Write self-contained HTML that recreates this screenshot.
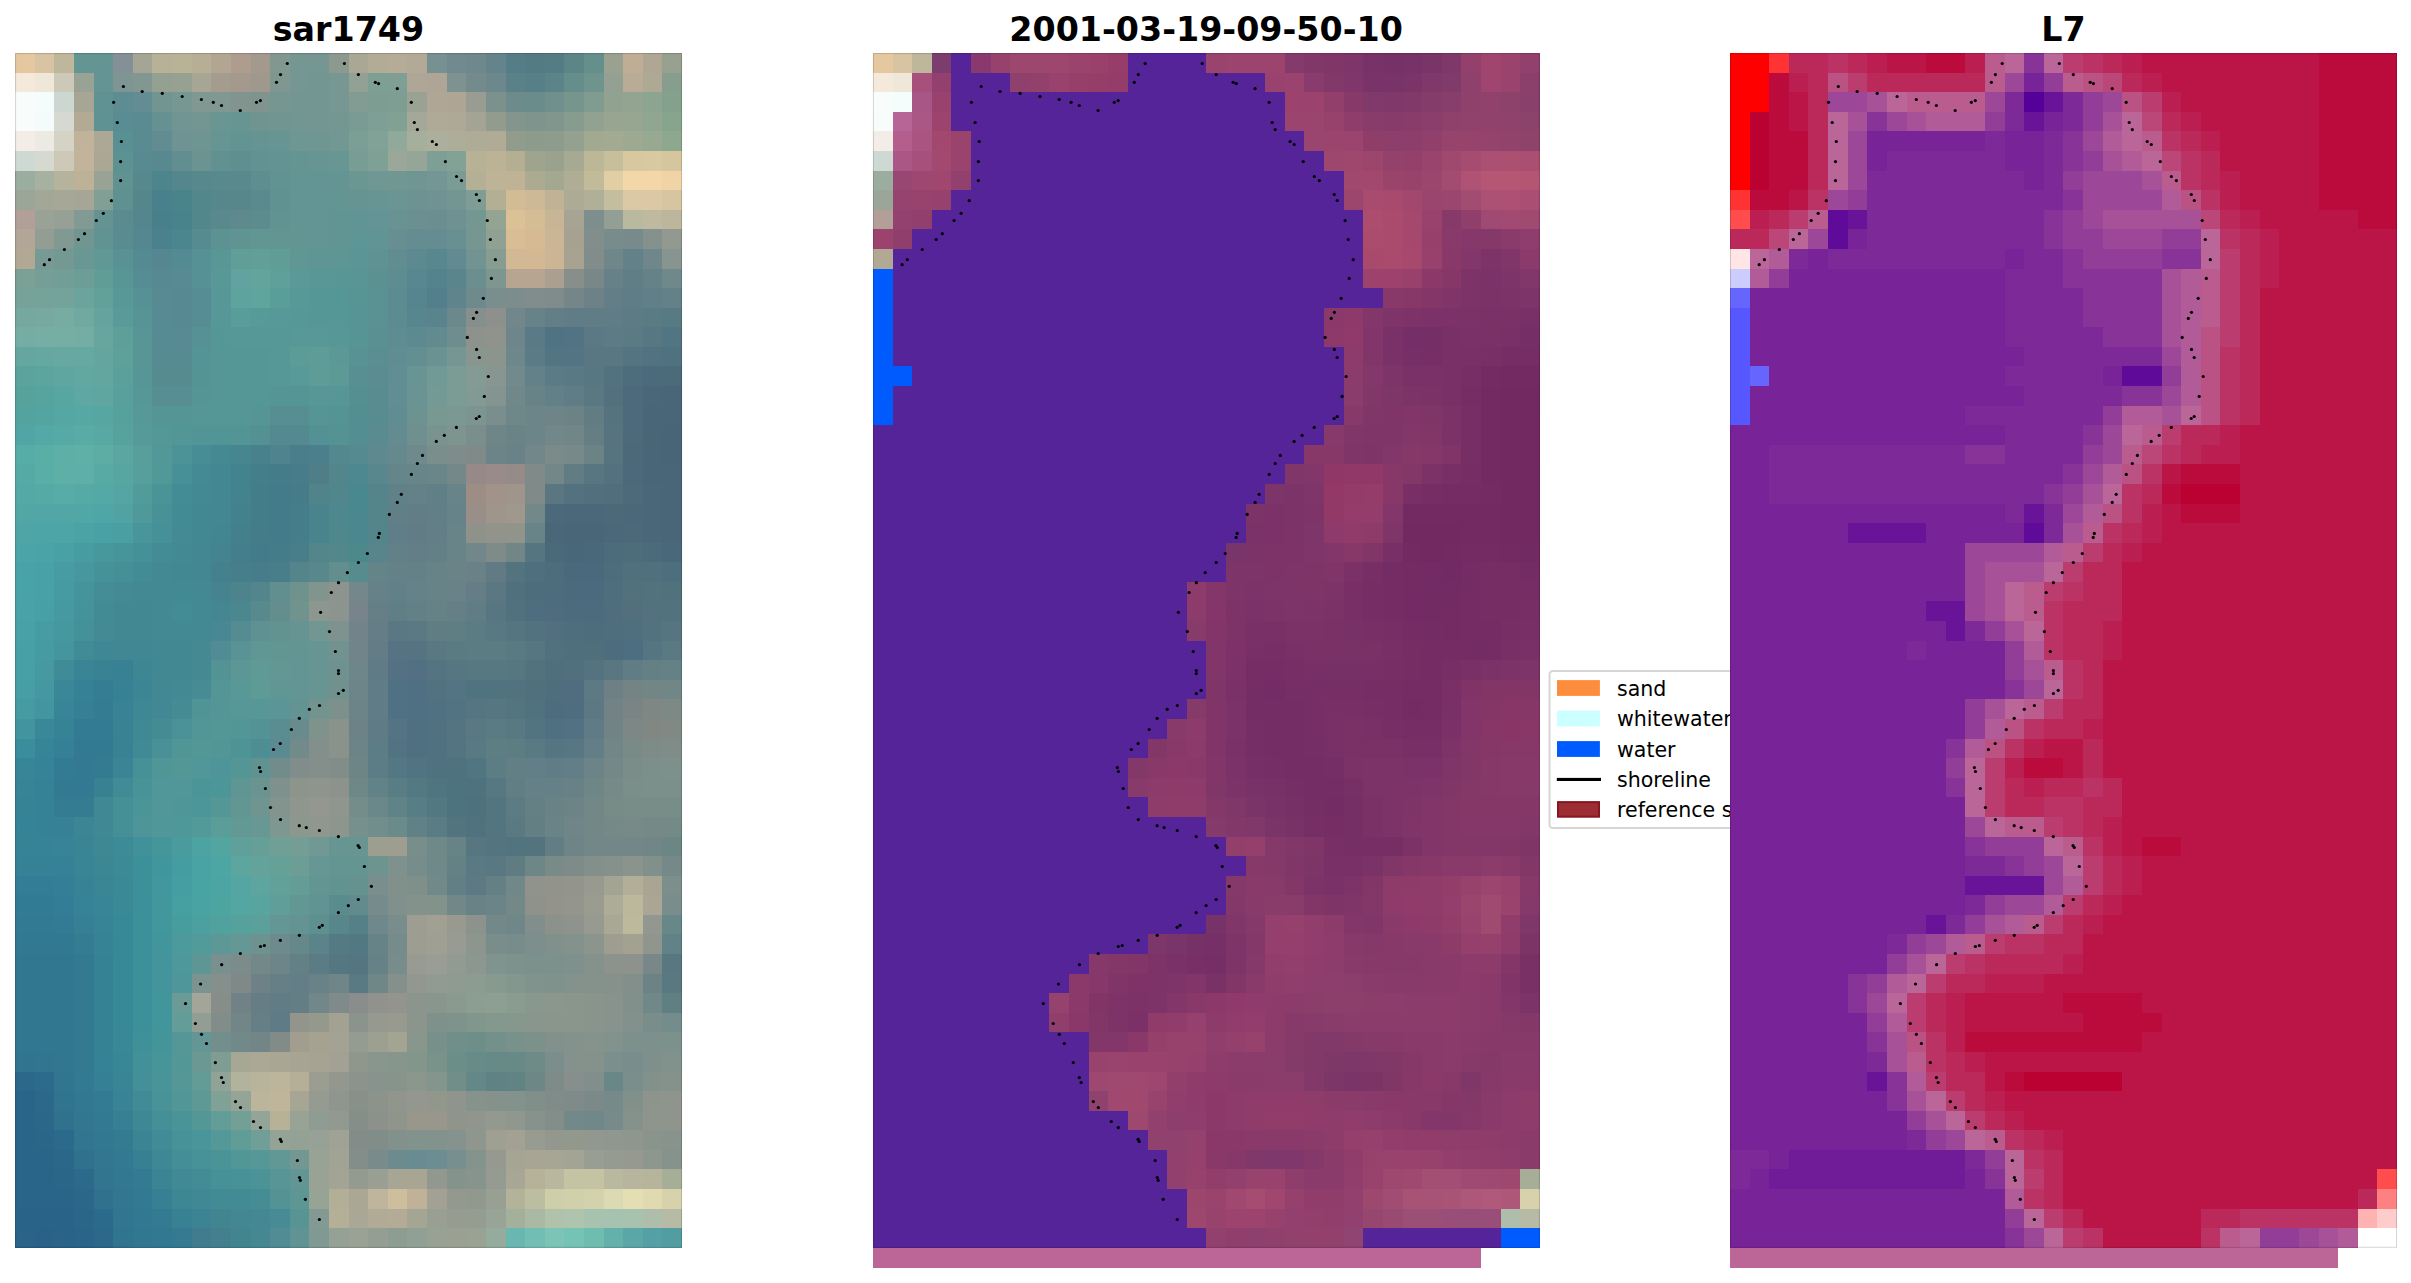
<!DOCTYPE html>
<html><head><meta charset="utf-8"><style>
html,body{margin:0;padding:0;background:#fff;width:2411px;height:1283px;overflow:hidden}
svg{position:absolute;left:0;top:0}
</style></head><body>
<svg width="2411" height="1283" viewBox="0 0 2411 1283">

<g>
<rect x="1549.5" y="671" width="240" height="157" rx="3.5" ry="3.5" fill="#fff" stroke="#d6d6d6" stroke-width="2"/>
<rect x="1557" y="680.1" width="42.9" height="15.8" fill="#fd8d3c"/>
<rect x="1557" y="710.6" width="42.9" height="15.8" fill="#ccffff"/>
<rect x="1557" y="741.1" width="42.9" height="15.8" fill="#005bff"/>
<rect x="1556.8" y="777.9" width="44.2" height="3.1" fill="#000"/>
<rect x="1558" y="802.1" width="41" height="14.6" fill="#9b2d33" stroke="#861621" stroke-width="2"/>
<g font-family="DejaVu Sans, Liberation Sans, sans-serif" font-size="20.55" fill="#000">
<text x="1617.0" y="695.9">sand</text>
<text x="1617.0" y="726.4">whitewater</text>
<text x="1617.0" y="756.9">water</text>
<text x="1617.0" y="786.8">shoreline</text>
<text x="1617.0" y="816.8">reference shoreline buffer</text>
</g>
</g>

<g shape-rendering="crispEdges">
<g transform="translate(15.10 53.10) scale(19.6176 19.5852)">
<rect x="0" y="0" width="1" height="1" fill="#e6c8a0"/>
<rect x="1" y="0" width="1" height="1" fill="#d8c4a2"/>
<rect x="2" y="0" width="1" height="1" fill="#beb79b"/>
<rect x="3" y="0" width="1" height="1" fill="#639593"/>
<rect x="4" y="0" width="1" height="1" fill="#659593"/>
<rect x="5" y="0" width="1" height="1" fill="#848f96"/>
<rect x="6" y="0" width="1" height="1" fill="#a4a594"/>
<rect x="7" y="0" width="1" height="1" fill="#b6b197"/>
<rect x="8" y="0" width="1" height="1" fill="#b8b297"/>
<rect x="9" y="0" width="1" height="1" fill="#b6af96"/>
<rect x="10" y="0" width="1" height="1" fill="#b2a693"/>
<rect x="11" y="0" width="1" height="1" fill="#ae9d8e"/>
<rect x="12" y="0" width="1" height="1" fill="#a3998d"/>
<rect x="13" y="0" width="1" height="1" fill="#819891"/>
<rect x="14" y="0" width="1" height="1" fill="#769692"/>
<rect x="15" y="0" width="1" height="1" fill="#759692"/>
<rect x="16" y="0" width="1" height="1" fill="#8c998f"/>
<rect x="17" y="0" width="1" height="1" fill="#aaa895"/>
<rect x="18" y="0" width="1" height="1" fill="#b2ab96"/>
<rect x="19" y="0" width="1" height="1" fill="#b5ab96"/>
<rect x="20" y="0" width="1" height="1" fill="#b2a996"/>
<rect x="21" y="0" width="1" height="1" fill="#779091"/>
<rect x="22" y="0" width="1" height="1" fill="#708a8f"/>
<rect x="23" y="0" width="1" height="1" fill="#6e888d"/>
<rect x="24" y="0" width="1" height="1" fill="#65838b"/>
<rect x="25" y="0" width="1" height="1" fill="#557d87"/>
<rect x="26" y="0" width="1" height="1" fill="#527b84"/>
<rect x="27" y="0" width="1" height="1" fill="#547c84"/>
<rect x="28" y="0" width="1" height="1" fill="#5c8588"/>
<rect x="29" y="0" width="1" height="1" fill="#658f8b"/>
<rect x="30" y="0" width="1" height="1" fill="#9ba191"/>
<rect x="31" y="0" width="1" height="1" fill="#bfad96"/>
<rect x="32" y="0" width="1" height="1" fill="#afa793"/>
<rect x="33" y="0" width="1" height="1" fill="#98a190"/>
<rect x="0" y="1" width="1" height="1" fill="#f4e9da"/>
<rect x="1" y="1" width="1" height="1" fill="#efe8d9"/>
<rect x="2" y="1" width="1" height="1" fill="#cdc9b9"/>
<rect x="3" y="1" width="1" height="1" fill="#99a395"/>
<rect x="4" y="1" width="1" height="1" fill="#649493"/>
<rect x="5" y="1" width="1" height="1" fill="#7d9593"/>
<rect x="6" y="1" width="1" height="1" fill="#839792"/>
<rect x="7" y="1" width="1" height="1" fill="#94a091"/>
<rect x="8" y="1" width="1" height="1" fill="#97a191"/>
<rect x="9" y="1" width="1" height="1" fill="#a7a593"/>
<rect x="10" y="1" width="1" height="1" fill="#a49d8f"/>
<rect x="11" y="1" width="1" height="1" fill="#a39a8d"/>
<rect x="12" y="1" width="1" height="1" fill="#9f998d"/>
<rect x="13" y="1" width="1" height="1" fill="#7f9791"/>
<rect x="14" y="1" width="1" height="1" fill="#759692"/>
<rect x="15" y="1" width="1" height="1" fill="#749692"/>
<rect x="16" y="1" width="1" height="1" fill="#779792"/>
<rect x="17" y="1" width="1" height="1" fill="#92a194"/>
<rect x="18" y="1" width="1" height="1" fill="#7e9f94"/>
<rect x="19" y="1" width="1" height="1" fill="#7f9f94"/>
<rect x="20" y="1" width="1" height="1" fill="#aea696"/>
<rect x="21" y="1" width="1" height="1" fill="#aea596"/>
<rect x="22" y="1" width="1" height="1" fill="#7e9290"/>
<rect x="23" y="1" width="1" height="1" fill="#738b8d"/>
<rect x="24" y="1" width="1" height="1" fill="#6c888c"/>
<rect x="25" y="1" width="1" height="1" fill="#5a8088"/>
<rect x="26" y="1" width="1" height="1" fill="#577f87"/>
<rect x="27" y="1" width="1" height="1" fill="#5c8387"/>
<rect x="28" y="1" width="1" height="1" fill="#658d8b"/>
<rect x="29" y="1" width="1" height="1" fill="#6f948d"/>
<rect x="30" y="1" width="1" height="1" fill="#94a091"/>
<rect x="31" y="1" width="1" height="1" fill="#b8ac97"/>
<rect x="32" y="1" width="1" height="1" fill="#ada995"/>
<rect x="33" y="1" width="1" height="1" fill="#879e8e"/>
<rect x="0" y="2" width="1" height="1" fill="#f8fdfc"/>
<rect x="1" y="2" width="1" height="1" fill="#f4fdfc"/>
<rect x="2" y="2" width="1" height="1" fill="#cdd7d1"/>
<rect x="3" y="2" width="1" height="1" fill="#a7a695"/>
<rect x="4" y="2" width="1" height="1" fill="#619293"/>
<rect x="5" y="2" width="1" height="1" fill="#5d8c92"/>
<rect x="6" y="2" width="1" height="1" fill="#638d92"/>
<rect x="7" y="2" width="1" height="1" fill="#729592"/>
<rect x="8" y="2" width="1" height="1" fill="#769792"/>
<rect x="9" y="2" width="1" height="1" fill="#7f9892"/>
<rect x="10" y="2" width="1" height="1" fill="#819791"/>
<rect x="11" y="2" width="1" height="1" fill="#82948e"/>
<rect x="12" y="2" width="1" height="1" fill="#7f948f"/>
<rect x="13" y="2" width="1" height="1" fill="#769691"/>
<rect x="14" y="2" width="1" height="1" fill="#749692"/>
<rect x="15" y="2" width="1" height="1" fill="#739692"/>
<rect x="16" y="2" width="1" height="1" fill="#769792"/>
<rect x="17" y="2" width="1" height="1" fill="#829c93"/>
<rect x="18" y="2" width="1" height="1" fill="#7d9d93"/>
<rect x="19" y="2" width="1" height="1" fill="#7f9e93"/>
<rect x="20" y="2" width="1" height="1" fill="#9aa294"/>
<rect x="21" y="2" width="1" height="1" fill="#afa696"/>
<rect x="22" y="2" width="1" height="1" fill="#aea595"/>
<rect x="23" y="2" width="1" height="1" fill="#999d91"/>
<rect x="24" y="2" width="1" height="1" fill="#7c918c"/>
<rect x="25" y="2" width="1" height="1" fill="#6d8b8b"/>
<rect x="26" y="2" width="1" height="1" fill="#6a8c8b"/>
<rect x="27" y="2" width="1" height="1" fill="#6f908c"/>
<rect x="28" y="2" width="1" height="1" fill="#75958d"/>
<rect x="29" y="2" width="1" height="1" fill="#809b90"/>
<rect x="30" y="2" width="1" height="1" fill="#91a291"/>
<rect x="31" y="2" width="1" height="1" fill="#93a491"/>
<rect x="32" y="2" width="1" height="1" fill="#8da490"/>
<rect x="33" y="2" width="1" height="1" fill="#83a18d"/>
<rect x="0" y="3" width="1" height="1" fill="#f8fcfb"/>
<rect x="1" y="3" width="1" height="1" fill="#f3fcfb"/>
<rect x="2" y="3" width="1" height="1" fill="#d5d9d1"/>
<rect x="3" y="3" width="1" height="1" fill="#b3aa95"/>
<rect x="4" y="3" width="1" height="1" fill="#5e9293"/>
<rect x="5" y="3" width="1" height="1" fill="#598c93"/>
<rect x="6" y="3" width="1" height="1" fill="#5b8b92"/>
<rect x="7" y="3" width="1" height="1" fill="#669192"/>
<rect x="8" y="3" width="1" height="1" fill="#719592"/>
<rect x="9" y="3" width="1" height="1" fill="#739692"/>
<rect x="10" y="3" width="1" height="1" fill="#699593"/>
<rect x="11" y="3" width="1" height="1" fill="#679592"/>
<rect x="12" y="3" width="1" height="1" fill="#709591"/>
<rect x="13" y="3" width="1" height="1" fill="#719692"/>
<rect x="14" y="3" width="1" height="1" fill="#729692"/>
<rect x="15" y="3" width="1" height="1" fill="#739692"/>
<rect x="16" y="3" width="1" height="1" fill="#759792"/>
<rect x="17" y="3" width="1" height="1" fill="#7a9b93"/>
<rect x="18" y="3" width="1" height="1" fill="#7e9f95"/>
<rect x="19" y="3" width="1" height="1" fill="#81a195"/>
<rect x="20" y="3" width="1" height="1" fill="#a4a898"/>
<rect x="21" y="3" width="1" height="1" fill="#afaa98"/>
<rect x="22" y="3" width="1" height="1" fill="#ada996"/>
<rect x="23" y="3" width="1" height="1" fill="#a3a493"/>
<rect x="24" y="3" width="1" height="1" fill="#919b8e"/>
<rect x="25" y="3" width="1" height="1" fill="#83958c"/>
<rect x="26" y="3" width="1" height="1" fill="#7e948c"/>
<rect x="27" y="3" width="1" height="1" fill="#81978d"/>
<rect x="28" y="3" width="1" height="1" fill="#879c8f"/>
<rect x="29" y="3" width="1" height="1" fill="#91a291"/>
<rect x="30" y="3" width="1" height="1" fill="#97a591"/>
<rect x="31" y="3" width="1" height="1" fill="#96a691"/>
<rect x="32" y="3" width="1" height="1" fill="#90a690"/>
<rect x="33" y="3" width="1" height="1" fill="#87a58d"/>
<rect x="0" y="4" width="1" height="1" fill="#f3ece7"/>
<rect x="1" y="4" width="1" height="1" fill="#edeae4"/>
<rect x="2" y="4" width="1" height="1" fill="#d5d3c5"/>
<rect x="3" y="4" width="1" height="1" fill="#c1b399"/>
<rect x="4" y="4" width="1" height="1" fill="#ada895"/>
<rect x="5" y="4" width="1" height="1" fill="#599094"/>
<rect x="6" y="4" width="1" height="1" fill="#598b93"/>
<rect x="7" y="4" width="1" height="1" fill="#618d92"/>
<rect x="8" y="4" width="1" height="1" fill="#6e9392"/>
<rect x="9" y="4" width="1" height="1" fill="#6f9592"/>
<rect x="10" y="4" width="1" height="1" fill="#669593"/>
<rect x="11" y="4" width="1" height="1" fill="#639493"/>
<rect x="12" y="4" width="1" height="1" fill="#659493"/>
<rect x="13" y="4" width="1" height="1" fill="#679593"/>
<rect x="14" y="4" width="1" height="1" fill="#6e9692"/>
<rect x="15" y="4" width="1" height="1" fill="#6f9692"/>
<rect x="16" y="4" width="1" height="1" fill="#729893"/>
<rect x="17" y="4" width="1" height="1" fill="#7b9e95"/>
<rect x="18" y="4" width="1" height="1" fill="#81a297"/>
<rect x="19" y="4" width="1" height="1" fill="#91a99a"/>
<rect x="20" y="4" width="1" height="1" fill="#a6ae9c"/>
<rect x="21" y="4" width="1" height="1" fill="#acaf9c"/>
<rect x="22" y="4" width="1" height="1" fill="#aead99"/>
<rect x="23" y="4" width="1" height="1" fill="#aeab96"/>
<rect x="24" y="4" width="1" height="1" fill="#b0ab94"/>
<rect x="25" y="4" width="1" height="1" fill="#919c8d"/>
<rect x="26" y="4" width="1" height="1" fill="#8d9b8c"/>
<rect x="27" y="4" width="1" height="1" fill="#8e9c8d"/>
<rect x="28" y="4" width="1" height="1" fill="#95a190"/>
<rect x="29" y="4" width="1" height="1" fill="#a2a991"/>
<rect x="30" y="4" width="1" height="1" fill="#a2aa92"/>
<rect x="31" y="4" width="1" height="1" fill="#9da991"/>
<rect x="32" y="4" width="1" height="1" fill="#97a990"/>
<rect x="33" y="4" width="1" height="1" fill="#8da88e"/>
<rect x="0" y="5" width="1" height="1" fill="#ced9d4"/>
<rect x="1" y="5" width="1" height="1" fill="#d6d9d0"/>
<rect x="2" y="5" width="1" height="1" fill="#cdc8b7"/>
<rect x="3" y="5" width="1" height="1" fill="#c2b49a"/>
<rect x="4" y="5" width="1" height="1" fill="#aaa795"/>
<rect x="5" y="5" width="1" height="1" fill="#5d9293"/>
<rect x="6" y="5" width="1" height="1" fill="#588b91"/>
<rect x="7" y="5" width="1" height="1" fill="#598990"/>
<rect x="8" y="5" width="1" height="1" fill="#628d91"/>
<rect x="9" y="5" width="1" height="1" fill="#6b9391"/>
<rect x="10" y="5" width="1" height="1" fill="#629191"/>
<rect x="11" y="5" width="1" height="1" fill="#608f91"/>
<rect x="12" y="5" width="1" height="1" fill="#629292"/>
<rect x="13" y="5" width="1" height="1" fill="#639493"/>
<rect x="14" y="5" width="1" height="1" fill="#659593"/>
<rect x="15" y="5" width="1" height="1" fill="#669593"/>
<rect x="16" y="5" width="1" height="1" fill="#689693"/>
<rect x="17" y="5" width="1" height="1" fill="#789d95"/>
<rect x="18" y="5" width="1" height="1" fill="#7fa095"/>
<rect x="19" y="5" width="1" height="1" fill="#9ba798"/>
<rect x="20" y="5" width="1" height="1" fill="#95a698"/>
<rect x="21" y="5" width="1" height="1" fill="#7e9f96"/>
<rect x="22" y="5" width="1" height="1" fill="#82a296"/>
<rect x="23" y="5" width="1" height="1" fill="#b7b196"/>
<rect x="24" y="5" width="1" height="1" fill="#bcb295"/>
<rect x="25" y="5" width="1" height="1" fill="#b4ae92"/>
<rect x="26" y="5" width="1" height="1" fill="#9ea48e"/>
<rect x="27" y="5" width="1" height="1" fill="#9aa28e"/>
<rect x="28" y="5" width="1" height="1" fill="#a7aa92"/>
<rect x="29" y="5" width="1" height="1" fill="#bbb797"/>
<rect x="30" y="5" width="1" height="1" fill="#c7be9b"/>
<rect x="31" y="5" width="1" height="1" fill="#d8c8a0"/>
<rect x="32" y="5" width="1" height="1" fill="#d9c9a0"/>
<rect x="33" y="5" width="1" height="1" fill="#d6c69d"/>
<rect x="0" y="6" width="1" height="1" fill="#9bad9e"/>
<rect x="1" y="6" width="1" height="1" fill="#a6b29f"/>
<rect x="2" y="6" width="1" height="1" fill="#b6b39d"/>
<rect x="3" y="6" width="1" height="1" fill="#bdb198"/>
<rect x="4" y="6" width="1" height="1" fill="#98a395"/>
<rect x="5" y="6" width="1" height="1" fill="#609292"/>
<rect x="6" y="6" width="1" height="1" fill="#55898e"/>
<rect x="7" y="6" width="1" height="1" fill="#4d858d"/>
<rect x="8" y="6" width="1" height="1" fill="#53878d"/>
<rect x="9" y="6" width="1" height="1" fill="#57898c"/>
<rect x="10" y="6" width="1" height="1" fill="#58898c"/>
<rect x="11" y="6" width="1" height="1" fill="#59898d"/>
<rect x="12" y="6" width="1" height="1" fill="#5f8e91"/>
<rect x="13" y="6" width="1" height="1" fill="#619393"/>
<rect x="14" y="6" width="2" height="1" fill="#629593"/>
<rect x="16" y="6" width="1" height="1" fill="#649593"/>
<rect x="17" y="6" width="1" height="1" fill="#6b9793"/>
<rect x="18" y="6" width="1" height="1" fill="#6f9793"/>
<rect x="19" y="6" width="1" height="1" fill="#719793"/>
<rect x="20" y="6" width="1" height="1" fill="#709694"/>
<rect x="21" y="6" width="1" height="1" fill="#739795"/>
<rect x="22" y="6" width="1" height="1" fill="#7a9c95"/>
<rect x="23" y="6" width="1" height="1" fill="#b3b096"/>
<rect x="24" y="6" width="1" height="1" fill="#beb396"/>
<rect x="25" y="6" width="1" height="1" fill="#c0b395"/>
<rect x="26" y="6" width="1" height="1" fill="#acaa91"/>
<rect x="27" y="6" width="1" height="1" fill="#a5a891"/>
<rect x="28" y="6" width="1" height="1" fill="#afae95"/>
<rect x="29" y="6" width="1" height="1" fill="#c2bb9a"/>
<rect x="30" y="6" width="1" height="1" fill="#e1cea4"/>
<rect x="31" y="6" width="1" height="1" fill="#f2d7a8"/>
<rect x="32" y="6" width="1" height="1" fill="#f3d7a8"/>
<rect x="33" y="6" width="1" height="1" fill="#f0d4a5"/>
<rect x="0" y="7" width="1" height="1" fill="#9ba698"/>
<rect x="1" y="7" width="1" height="1" fill="#a3a797"/>
<rect x="2" y="7" width="1" height="1" fill="#a6a796"/>
<rect x="3" y="7" width="1" height="1" fill="#a5a695"/>
<rect x="4" y="7" width="1" height="1" fill="#819f95"/>
<rect x="5" y="7" width="1" height="1" fill="#5f9190"/>
<rect x="6" y="7" width="1" height="1" fill="#53878c"/>
<rect x="7" y="7" width="1" height="1" fill="#48818b"/>
<rect x="8" y="7" width="1" height="1" fill="#49848b"/>
<rect x="9" y="7" width="1" height="1" fill="#52878b"/>
<rect x="10" y="7" width="1" height="1" fill="#56878b"/>
<rect x="11" y="7" width="1" height="1" fill="#57878b"/>
<rect x="12" y="7" width="1" height="1" fill="#5a8a8d"/>
<rect x="13" y="7" width="1" height="1" fill="#609292"/>
<rect x="14" y="7" width="2" height="1" fill="#629593"/>
<rect x="16" y="7" width="1" height="1" fill="#639593"/>
<rect x="17" y="7" width="1" height="1" fill="#659493"/>
<rect x="18" y="7" width="1" height="1" fill="#679594"/>
<rect x="19" y="7" width="1" height="1" fill="#6b9494"/>
<rect x="20" y="7" width="1" height="1" fill="#6d9292"/>
<rect x="21" y="7" width="1" height="1" fill="#6f9292"/>
<rect x="22" y="7" width="1" height="1" fill="#739693"/>
<rect x="23" y="7" width="1" height="1" fill="#7f9d94"/>
<rect x="24" y="7" width="1" height="1" fill="#b2af95"/>
<rect x="25" y="7" width="1" height="1" fill="#d2bc96"/>
<rect x="26" y="7" width="1" height="1" fill="#cdb996"/>
<rect x="27" y="7" width="1" height="1" fill="#c0b395"/>
<rect x="28" y="7" width="1" height="1" fill="#aeab95"/>
<rect x="29" y="7" width="1" height="1" fill="#b0af97"/>
<rect x="30" y="7" width="1" height="1" fill="#c4bd9f"/>
<rect x="31" y="7" width="1" height="1" fill="#dbc9a5"/>
<rect x="32" y="7" width="1" height="1" fill="#dcc8a4"/>
<rect x="33" y="7" width="1" height="1" fill="#d7c4a1"/>
<rect x="0" y="8" width="1" height="1" fill="#b29f97"/>
<rect x="1" y="8" width="1" height="1" fill="#9aa195"/>
<rect x="2" y="8" width="1" height="1" fill="#96a094"/>
<rect x="3" y="8" width="1" height="1" fill="#819a93"/>
<rect x="4" y="8" width="1" height="1" fill="#659392"/>
<rect x="5" y="8" width="1" height="1" fill="#598b8f"/>
<rect x="6" y="8" width="1" height="1" fill="#53868d"/>
<rect x="7" y="8" width="1" height="1" fill="#47808b"/>
<rect x="8" y="8" width="1" height="1" fill="#48838c"/>
<rect x="9" y="8" width="1" height="1" fill="#52878c"/>
<rect x="10" y="8" width="1" height="1" fill="#59898d"/>
<rect x="11" y="8" width="1" height="1" fill="#5e8a8d"/>
<rect x="12" y="8" width="1" height="1" fill="#5c8c8e"/>
<rect x="13" y="8" width="1" height="1" fill="#609392"/>
<rect x="14" y="8" width="2" height="1" fill="#629593"/>
<rect x="16" y="8" width="1" height="1" fill="#619593"/>
<rect x="17" y="8" width="1" height="1" fill="#619595"/>
<rect x="18" y="8" width="1" height="1" fill="#649495"/>
<rect x="19" y="8" width="1" height="1" fill="#699293"/>
<rect x="20" y="8" width="1" height="1" fill="#6b9091"/>
<rect x="21" y="8" width="1" height="1" fill="#6b8f91"/>
<rect x="22" y="8" width="1" height="1" fill="#6d9291"/>
<rect x="23" y="8" width="1" height="1" fill="#759792"/>
<rect x="24" y="8" width="1" height="1" fill="#94a493"/>
<rect x="25" y="8" width="1" height="1" fill="#dac196"/>
<rect x="26" y="8" width="1" height="1" fill="#d4bc95"/>
<rect x="27" y="8" width="1" height="1" fill="#c8b595"/>
<rect x="28" y="8" width="1" height="1" fill="#a8a493"/>
<rect x="29" y="8" width="1" height="1" fill="#7e8e8d"/>
<rect x="30" y="8" width="1" height="1" fill="#939e94"/>
<rect x="31" y="8" width="1" height="1" fill="#b9b9a0"/>
<rect x="32" y="8" width="1" height="1" fill="#bfba9f"/>
<rect x="33" y="8" width="1" height="1" fill="#bcb69d"/>
<rect x="0" y="9" width="1" height="1" fill="#b2a696"/>
<rect x="1" y="9" width="1" height="1" fill="#949d94"/>
<rect x="2" y="9" width="1" height="1" fill="#819993"/>
<rect x="3" y="9" width="1" height="1" fill="#719692"/>
<rect x="4" y="9" width="1" height="1" fill="#629393"/>
<rect x="5" y="9" width="1" height="1" fill="#598c91"/>
<rect x="6" y="9" width="1" height="1" fill="#548790"/>
<rect x="7" y="9" width="1" height="1" fill="#4a818d"/>
<rect x="8" y="9" width="1" height="1" fill="#4b858d"/>
<rect x="9" y="9" width="1" height="1" fill="#558b91"/>
<rect x="10" y="9" width="1" height="1" fill="#5d9292"/>
<rect x="11" y="9" width="1" height="1" fill="#609492"/>
<rect x="12" y="9" width="2" height="1" fill="#619693"/>
<rect x="14" y="9" width="1" height="1" fill="#629693"/>
<rect x="15" y="9" width="1" height="1" fill="#629593"/>
<rect x="16" y="9" width="1" height="1" fill="#609594"/>
<rect x="17" y="9" width="1" height="1" fill="#5e9595"/>
<rect x="18" y="9" width="1" height="1" fill="#619494"/>
<rect x="19" y="9" width="1" height="1" fill="#678f92"/>
<rect x="20" y="9" width="1" height="1" fill="#658c91"/>
<rect x="21" y="9" width="1" height="1" fill="#648c91"/>
<rect x="22" y="9" width="1" height="1" fill="#688f91"/>
<rect x="23" y="9" width="1" height="1" fill="#769691"/>
<rect x="24" y="9" width="1" height="1" fill="#90a193"/>
<rect x="25" y="9" width="1" height="1" fill="#d8bd95"/>
<rect x="26" y="9" width="1" height="1" fill="#d5ba94"/>
<rect x="27" y="9" width="1" height="1" fill="#cab595"/>
<rect x="28" y="9" width="1" height="1" fill="#a6a191"/>
<rect x="29" y="9" width="1" height="1" fill="#818e8c"/>
<rect x="30" y="9" width="1" height="1" fill="#798c8c"/>
<rect x="31" y="9" width="1" height="1" fill="#778b8c"/>
<rect x="32" y="9" width="1" height="1" fill="#85918d"/>
<rect x="33" y="9" width="1" height="1" fill="#929990"/>
<rect x="0" y="10" width="1" height="1" fill="#b2a995"/>
<rect x="1" y="10" width="1" height="1" fill="#779a94"/>
<rect x="2" y="10" width="1" height="1" fill="#749993"/>
<rect x="3" y="10" width="1" height="1" fill="#699894"/>
<rect x="4" y="10" width="1" height="1" fill="#619794"/>
<rect x="5" y="10" width="1" height="1" fill="#599295"/>
<rect x="6" y="10" width="1" height="1" fill="#568a92"/>
<rect x="7" y="10" width="1" height="1" fill="#558791"/>
<rect x="8" y="10" width="1" height="1" fill="#548a92"/>
<rect x="9" y="10" width="1" height="1" fill="#569295"/>
<rect x="10" y="10" width="1" height="1" fill="#599797"/>
<rect x="11" y="10" width="1" height="1" fill="#609e98"/>
<rect x="12" y="10" width="1" height="1" fill="#629f98"/>
<rect x="13" y="10" width="1" height="1" fill="#619d97"/>
<rect x="14" y="10" width="1" height="1" fill="#609795"/>
<rect x="15" y="10" width="1" height="1" fill="#5f9594"/>
<rect x="16" y="10" width="1" height="1" fill="#5e9694"/>
<rect x="17" y="10" width="1" height="1" fill="#5c9595"/>
<rect x="18" y="10" width="1" height="1" fill="#5f9293"/>
<rect x="19" y="10" width="1" height="1" fill="#618d91"/>
<rect x="20" y="10" width="1" height="1" fill="#5d8990"/>
<rect x="21" y="10" width="1" height="1" fill="#59878f"/>
<rect x="22" y="10" width="1" height="1" fill="#618b90"/>
<rect x="23" y="10" width="1" height="1" fill="#719391"/>
<rect x="24" y="10" width="1" height="1" fill="#889d92"/>
<rect x="25" y="10" width="1" height="1" fill="#d3b894"/>
<rect x="26" y="10" width="1" height="1" fill="#d4b893"/>
<rect x="27" y="10" width="1" height="1" fill="#ccb594"/>
<rect x="28" y="10" width="1" height="1" fill="#a8a291"/>
<rect x="29" y="10" width="1" height="1" fill="#828c8a"/>
<rect x="30" y="10" width="1" height="1" fill="#70878a"/>
<rect x="31" y="10" width="1" height="1" fill="#638188"/>
<rect x="32" y="10" width="1" height="1" fill="#6f878b"/>
<rect x="33" y="10" width="1" height="1" fill="#88948f"/>
<rect x="0" y="11" width="1" height="1" fill="#7ba096"/>
<rect x="1" y="11" width="1" height="1" fill="#759e96"/>
<rect x="2" y="11" width="1" height="1" fill="#719e96"/>
<rect x="3" y="11" width="1" height="1" fill="#6c9e97"/>
<rect x="4" y="11" width="1" height="1" fill="#619d97"/>
<rect x="5" y="11" width="1" height="1" fill="#589696"/>
<rect x="6" y="11" width="1" height="1" fill="#568d94"/>
<rect x="7" y="11" width="1" height="1" fill="#578992"/>
<rect x="8" y="11" width="1" height="1" fill="#578a93"/>
<rect x="9" y="11" width="1" height="1" fill="#569295"/>
<rect x="10" y="11" width="1" height="1" fill="#589998"/>
<rect x="11" y="11" width="1" height="1" fill="#61a39e"/>
<rect x="12" y="11" width="1" height="1" fill="#63a59d"/>
<rect x="13" y="11" width="1" height="1" fill="#5fa09a"/>
<rect x="14" y="11" width="1" height="1" fill="#5a9997"/>
<rect x="15" y="11" width="1" height="1" fill="#589796"/>
<rect x="16" y="11" width="1" height="1" fill="#589696"/>
<rect x="17" y="11" width="1" height="1" fill="#599595"/>
<rect x="18" y="11" width="1" height="1" fill="#5c9192"/>
<rect x="19" y="11" width="1" height="1" fill="#5d8c91"/>
<rect x="20" y="11" width="1" height="1" fill="#578790"/>
<rect x="21" y="11" width="1" height="1" fill="#54828d"/>
<rect x="22" y="11" width="1" height="1" fill="#5a858d"/>
<rect x="23" y="11" width="1" height="1" fill="#6b8e8f"/>
<rect x="24" y="11" width="1" height="1" fill="#7e9690"/>
<rect x="25" y="11" width="1" height="1" fill="#b5a591"/>
<rect x="26" y="11" width="1" height="1" fill="#b7a491"/>
<rect x="27" y="11" width="1" height="1" fill="#aa9f90"/>
<rect x="28" y="11" width="1" height="1" fill="#888f8b"/>
<rect x="29" y="11" width="1" height="1" fill="#7a8788"/>
<rect x="30" y="11" width="1" height="1" fill="#668187"/>
<rect x="31" y="11" width="1" height="1" fill="#607e86"/>
<rect x="32" y="11" width="1" height="1" fill="#658288"/>
<rect x="33" y="11" width="1" height="1" fill="#6f898b"/>
<rect x="0" y="12" width="1" height="1" fill="#76a299"/>
<rect x="1" y="12" width="1" height="1" fill="#75a299"/>
<rect x="2" y="12" width="1" height="1" fill="#73a39a"/>
<rect x="3" y="12" width="1" height="1" fill="#6aa49d"/>
<rect x="4" y="12" width="1" height="1" fill="#62a09a"/>
<rect x="5" y="12" width="1" height="1" fill="#589897"/>
<rect x="6" y="12" width="1" height="1" fill="#569295"/>
<rect x="7" y="12" width="1" height="1" fill="#578a93"/>
<rect x="8" y="12" width="1" height="1" fill="#578992"/>
<rect x="9" y="12" width="1" height="1" fill="#568d94"/>
<rect x="10" y="12" width="1" height="1" fill="#579798"/>
<rect x="11" y="12" width="1" height="1" fill="#5fa39e"/>
<rect x="12" y="12" width="1" height="1" fill="#60a49e"/>
<rect x="13" y="12" width="1" height="1" fill="#5a9e9a"/>
<rect x="14" y="12" width="1" height="1" fill="#569997"/>
<rect x="15" y="12" width="2" height="1" fill="#559797"/>
<rect x="17" y="12" width="1" height="1" fill="#579595"/>
<rect x="18" y="12" width="1" height="1" fill="#5a9192"/>
<rect x="19" y="12" width="1" height="1" fill="#5b8c91"/>
<rect x="20" y="12" width="1" height="1" fill="#56858f"/>
<rect x="21" y="12" width="1" height="1" fill="#537f8d"/>
<rect x="22" y="12" width="1" height="1" fill="#5f848c"/>
<rect x="23" y="12" width="1" height="1" fill="#6f8a8d"/>
<rect x="24" y="12" width="1" height="1" fill="#7a8e8d"/>
<rect x="25" y="12" width="1" height="1" fill="#7d8c8c"/>
<rect x="26" y="12" width="1" height="1" fill="#818c8c"/>
<rect x="27" y="12" width="1" height="1" fill="#808b8b"/>
<rect x="28" y="12" width="1" height="1" fill="#768688"/>
<rect x="29" y="12" width="1" height="1" fill="#6c8287"/>
<rect x="30" y="12" width="1" height="1" fill="#637e86"/>
<rect x="31" y="12" width="1" height="1" fill="#5f7d86"/>
<rect x="32" y="12" width="1" height="1" fill="#617f86"/>
<rect x="33" y="12" width="1" height="1" fill="#638187"/>
<rect x="0" y="13" width="1" height="1" fill="#76a89f"/>
<rect x="1" y="13" width="1" height="1" fill="#77a9a0"/>
<rect x="2" y="13" width="1" height="1" fill="#77aca2"/>
<rect x="3" y="13" width="1" height="1" fill="#71a9a1"/>
<rect x="4" y="13" width="1" height="1" fill="#65a49e"/>
<rect x="5" y="13" width="1" height="1" fill="#599b98"/>
<rect x="6" y="13" width="1" height="1" fill="#569496"/>
<rect x="7" y="13" width="1" height="1" fill="#578b93"/>
<rect x="8" y="13" width="1" height="1" fill="#578992"/>
<rect x="9" y="13" width="1" height="1" fill="#568d94"/>
<rect x="10" y="13" width="1" height="1" fill="#569797"/>
<rect x="11" y="13" width="1" height="1" fill="#589d9a"/>
<rect x="12" y="13" width="1" height="1" fill="#579b99"/>
<rect x="13" y="13" width="1" height="1" fill="#569998"/>
<rect x="14" y="13" width="1" height="1" fill="#559897"/>
<rect x="15" y="13" width="2" height="1" fill="#559797"/>
<rect x="17" y="13" width="1" height="1" fill="#569595"/>
<rect x="18" y="13" width="1" height="1" fill="#5a9192"/>
<rect x="19" y="13" width="1" height="1" fill="#5c8c91"/>
<rect x="20" y="13" width="1" height="1" fill="#58868f"/>
<rect x="21" y="13" width="1" height="1" fill="#59848d"/>
<rect x="22" y="13" width="1" height="1" fill="#6b888c"/>
<rect x="23" y="13" width="1" height="1" fill="#858f8c"/>
<rect x="24" y="13" width="1" height="1" fill="#8d908c"/>
<rect x="25" y="13" width="1" height="1" fill="#71878b"/>
<rect x="26" y="13" width="1" height="1" fill="#678289"/>
<rect x="27" y="13" width="1" height="1" fill="#637e87"/>
<rect x="28" y="13" width="1" height="1" fill="#607c86"/>
<rect x="29" y="13" width="1" height="1" fill="#607d86"/>
<rect x="30" y="13" width="1" height="1" fill="#607c86"/>
<rect x="31" y="13" width="1" height="1" fill="#5d7b84"/>
<rect x="32" y="13" width="1" height="1" fill="#5b7b83"/>
<rect x="33" y="13" width="1" height="1" fill="#587a83"/>
<rect x="0" y="14" width="1" height="1" fill="#75ada4"/>
<rect x="1" y="14" width="1" height="1" fill="#76ada4"/>
<rect x="2" y="14" width="1" height="1" fill="#76aea4"/>
<rect x="3" y="14" width="1" height="1" fill="#73ada4"/>
<rect x="4" y="14" width="1" height="1" fill="#66a69f"/>
<rect x="5" y="14" width="1" height="1" fill="#5e9f9a"/>
<rect x="6" y="14" width="1" height="1" fill="#589596"/>
<rect x="7" y="14" width="1" height="1" fill="#578b93"/>
<rect x="8" y="14" width="1" height="1" fill="#578a93"/>
<rect x="9" y="14" width="1" height="1" fill="#569295"/>
<rect x="10" y="14" width="1" height="1" fill="#559797"/>
<rect x="11" y="14" width="2" height="1" fill="#559897"/>
<rect x="13" y="14" width="1" height="1" fill="#569897"/>
<rect x="14" y="14" width="1" height="1" fill="#579997"/>
<rect x="15" y="14" width="1" height="1" fill="#589897"/>
<rect x="16" y="14" width="1" height="1" fill="#579796"/>
<rect x="17" y="14" width="1" height="1" fill="#579494"/>
<rect x="18" y="14" width="1" height="1" fill="#5a9092"/>
<rect x="19" y="14" width="1" height="1" fill="#5d8c91"/>
<rect x="20" y="14" width="1" height="1" fill="#5d8a90"/>
<rect x="21" y="14" width="1" height="1" fill="#628b8f"/>
<rect x="22" y="14" width="1" height="1" fill="#6f8d8e"/>
<rect x="23" y="14" width="1" height="1" fill="#8d928d"/>
<rect x="24" y="14" width="1" height="1" fill="#90928c"/>
<rect x="25" y="14" width="1" height="1" fill="#6d858b"/>
<rect x="26" y="14" width="1" height="1" fill="#5a7a87"/>
<rect x="27" y="14" width="1" height="1" fill="#4f7383"/>
<rect x="28" y="14" width="1" height="1" fill="#517383"/>
<rect x="29" y="14" width="1" height="1" fill="#5a7984"/>
<rect x="30" y="14" width="1" height="1" fill="#5d7b84"/>
<rect x="31" y="14" width="1" height="1" fill="#5b7a83"/>
<rect x="32" y="14" width="1" height="1" fill="#577882"/>
<rect x="33" y="14" width="1" height="1" fill="#517582"/>
<rect x="0" y="15" width="1" height="1" fill="#65a7a0"/>
<rect x="1" y="15" width="1" height="1" fill="#65a8a1"/>
<rect x="2" y="15" width="1" height="1" fill="#67a8a1"/>
<rect x="3" y="15" width="1" height="1" fill="#66a8a2"/>
<rect x="4" y="15" width="1" height="1" fill="#64a69f"/>
<rect x="5" y="15" width="1" height="1" fill="#5ea09a"/>
<rect x="6" y="15" width="1" height="1" fill="#589696"/>
<rect x="7" y="15" width="2" height="1" fill="#568b92"/>
<rect x="9" y="15" width="1" height="1" fill="#559496"/>
<rect x="10" y="15" width="3" height="1" fill="#559797"/>
<rect x="13" y="15" width="1" height="1" fill="#569897"/>
<rect x="14" y="15" width="1" height="1" fill="#5b9c97"/>
<rect x="15" y="15" width="1" height="1" fill="#5e9d97"/>
<rect x="16" y="15" width="1" height="1" fill="#5c9895"/>
<rect x="17" y="15" width="1" height="1" fill="#589293"/>
<rect x="18" y="15" width="1" height="1" fill="#5a8e91"/>
<rect x="19" y="15" width="1" height="1" fill="#5f8d91"/>
<rect x="20" y="15" width="1" height="1" fill="#648f92"/>
<rect x="21" y="15" width="1" height="1" fill="#6a9292"/>
<rect x="22" y="15" width="1" height="1" fill="#759692"/>
<rect x="23" y="15" width="1" height="1" fill="#899690"/>
<rect x="24" y="15" width="1" height="1" fill="#8c948e"/>
<rect x="25" y="15" width="1" height="1" fill="#6e878b"/>
<rect x="26" y="15" width="1" height="1" fill="#5b7b87"/>
<rect x="27" y="15" width="1" height="1" fill="#527584"/>
<rect x="28" y="15" width="1" height="1" fill="#537583"/>
<rect x="29" y="15" width="1" height="1" fill="#587782"/>
<rect x="30" y="15" width="1" height="1" fill="#597782"/>
<rect x="31" y="15" width="1" height="1" fill="#557481"/>
<rect x="32" y="15" width="1" height="1" fill="#517280"/>
<rect x="33" y="15" width="1" height="1" fill="#4f7280"/>
<rect x="0" y="16" width="1" height="1" fill="#5ba39c"/>
<rect x="1" y="16" width="1" height="1" fill="#5ca49e"/>
<rect x="2" y="16" width="1" height="1" fill="#60a6a0"/>
<rect x="3" y="16" width="1" height="1" fill="#63a7a1"/>
<rect x="4" y="16" width="1" height="1" fill="#62a69f"/>
<rect x="5" y="16" width="1" height="1" fill="#5ba09b"/>
<rect x="6" y="16" width="1" height="1" fill="#579696"/>
<rect x="7" y="16" width="2" height="1" fill="#568b90"/>
<rect x="9" y="16" width="1" height="1" fill="#559495"/>
<rect x="10" y="16" width="3" height="1" fill="#559797"/>
<rect x="13" y="16" width="1" height="1" fill="#569897"/>
<rect x="14" y="16" width="1" height="1" fill="#589a97"/>
<rect x="15" y="16" width="1" height="1" fill="#5e9d97"/>
<rect x="16" y="16" width="1" height="1" fill="#5d9a96"/>
<rect x="17" y="16" width="1" height="1" fill="#588f92"/>
<rect x="18" y="16" width="1" height="1" fill="#5b8c91"/>
<rect x="19" y="16" width="1" height="1" fill="#618e92"/>
<rect x="20" y="16" width="1" height="1" fill="#689494"/>
<rect x="21" y="16" width="1" height="1" fill="#719995"/>
<rect x="22" y="16" width="1" height="1" fill="#7a9c95"/>
<rect x="23" y="16" width="1" height="1" fill="#839b94"/>
<rect x="24" y="16" width="1" height="1" fill="#879691"/>
<rect x="25" y="16" width="1" height="1" fill="#728a8c"/>
<rect x="26" y="16" width="1" height="1" fill="#638188"/>
<rect x="27" y="16" width="1" height="1" fill="#5b7c86"/>
<rect x="28" y="16" width="1" height="1" fill="#597a85"/>
<rect x="29" y="16" width="1" height="1" fill="#587782"/>
<rect x="30" y="16" width="1" height="1" fill="#53727f"/>
<rect x="31" y="16" width="1" height="1" fill="#4e6d7c"/>
<rect x="32" y="16" width="1" height="1" fill="#4b6a7b"/>
<rect x="33" y="16" width="1" height="1" fill="#4b6a7a"/>
<rect x="0" y="17" width="1" height="1" fill="#58a29c"/>
<rect x="1" y="17" width="1" height="1" fill="#57a49e"/>
<rect x="2" y="17" width="1" height="1" fill="#58a6a2"/>
<rect x="3" y="17" width="1" height="1" fill="#5fa7a2"/>
<rect x="4" y="17" width="1" height="1" fill="#5fa6a0"/>
<rect x="5" y="17" width="1" height="1" fill="#59a09c"/>
<rect x="6" y="17" width="1" height="1" fill="#569797"/>
<rect x="7" y="17" width="2" height="1" fill="#568e93"/>
<rect x="9" y="17" width="1" height="1" fill="#559596"/>
<rect x="10" y="17" width="2" height="1" fill="#559797"/>
<rect x="12" y="17" width="1" height="1" fill="#559697"/>
<rect x="13" y="17" width="1" height="1" fill="#559596"/>
<rect x="14" y="17" width="1" height="1" fill="#569596"/>
<rect x="15" y="17" width="1" height="1" fill="#579897"/>
<rect x="16" y="17" width="1" height="1" fill="#579696"/>
<rect x="17" y="17" width="1" height="1" fill="#568f92"/>
<rect x="18" y="17" width="1" height="1" fill="#598c91"/>
<rect x="19" y="17" width="1" height="1" fill="#608e92"/>
<rect x="20" y="17" width="1" height="1" fill="#6a9494"/>
<rect x="21" y="17" width="1" height="1" fill="#749a95"/>
<rect x="22" y="17" width="1" height="1" fill="#7b9c95"/>
<rect x="23" y="17" width="1" height="1" fill="#819a94"/>
<rect x="24" y="17" width="1" height="1" fill="#849591"/>
<rect x="25" y="17" width="1" height="1" fill="#70888a"/>
<rect x="26" y="17" width="1" height="1" fill="#678388"/>
<rect x="27" y="17" width="1" height="1" fill="#628087"/>
<rect x="28" y="17" width="1" height="1" fill="#607d86"/>
<rect x="29" y="17" width="1" height="1" fill="#5a7882"/>
<rect x="30" y="17" width="1" height="1" fill="#52707e"/>
<rect x="31" y="17" width="1" height="1" fill="#4c6a7b"/>
<rect x="32" y="17" width="1" height="1" fill="#496779"/>
<rect x="33" y="17" width="1" height="1" fill="#486678"/>
<rect x="0" y="18" width="1" height="1" fill="#55a39f"/>
<rect x="1" y="18" width="1" height="1" fill="#54a5a2"/>
<rect x="2" y="18" width="1" height="1" fill="#55a7a4"/>
<rect x="3" y="18" width="1" height="1" fill="#56a8a5"/>
<rect x="4" y="18" width="1" height="1" fill="#57a6a2"/>
<rect x="5" y="18" width="1" height="1" fill="#57a19c"/>
<rect x="6" y="18" width="1" height="1" fill="#569998"/>
<rect x="7" y="18" width="2" height="1" fill="#559596"/>
<rect x="9" y="18" width="1" height="1" fill="#559697"/>
<rect x="10" y="18" width="2" height="1" fill="#559797"/>
<rect x="12" y="18" width="1" height="1" fill="#559596"/>
<rect x="13" y="18" width="2" height="1" fill="#568e94"/>
<rect x="15" y="18" width="1" height="1" fill="#559596"/>
<rect x="16" y="18" width="1" height="1" fill="#549496"/>
<rect x="17" y="18" width="1" height="1" fill="#538f92"/>
<rect x="18" y="18" width="1" height="1" fill="#578c91"/>
<rect x="19" y="18" width="1" height="1" fill="#608d91"/>
<rect x="20" y="18" width="1" height="1" fill="#6d9292"/>
<rect x="21" y="18" width="1" height="1" fill="#789892"/>
<rect x="22" y="18" width="1" height="1" fill="#7b9992"/>
<rect x="23" y="18" width="1" height="1" fill="#7d9590"/>
<rect x="24" y="18" width="1" height="1" fill="#7a8f8d"/>
<rect x="25" y="18" width="1" height="1" fill="#6e8788"/>
<rect x="26" y="18" width="1" height="1" fill="#6b8588"/>
<rect x="27" y="18" width="1" height="1" fill="#6d8588"/>
<rect x="28" y="18" width="1" height="1" fill="#6c8386"/>
<rect x="29" y="18" width="1" height="1" fill="#617c83"/>
<rect x="30" y="18" width="1" height="1" fill="#55727f"/>
<rect x="31" y="18" width="1" height="1" fill="#4c6a7b"/>
<rect x="32" y="18" width="1" height="1" fill="#486678"/>
<rect x="33" y="18" width="1" height="1" fill="#486677"/>
<rect x="0" y="19" width="1" height="1" fill="#51a6a5"/>
<rect x="1" y="19" width="1" height="1" fill="#54a8a5"/>
<rect x="2" y="19" width="1" height="1" fill="#56aaa5"/>
<rect x="3" y="19" width="1" height="1" fill="#59aca6"/>
<rect x="4" y="19" width="1" height="1" fill="#58a9a3"/>
<rect x="5" y="19" width="1" height="1" fill="#58a29d"/>
<rect x="6" y="19" width="1" height="1" fill="#569b99"/>
<rect x="7" y="19" width="1" height="1" fill="#549897"/>
<rect x="8" y="19" width="1" height="1" fill="#539697"/>
<rect x="9" y="19" width="1" height="1" fill="#529597"/>
<rect x="10" y="19" width="1" height="1" fill="#529596"/>
<rect x="11" y="19" width="1" height="1" fill="#539496"/>
<rect x="12" y="19" width="1" height="1" fill="#549194"/>
<rect x="13" y="19" width="1" height="1" fill="#558991"/>
<rect x="14" y="19" width="1" height="1" fill="#548991"/>
<rect x="15" y="19" width="1" height="1" fill="#549194"/>
<rect x="16" y="19" width="1" height="1" fill="#549294"/>
<rect x="17" y="19" width="1" height="1" fill="#548d92"/>
<rect x="18" y="19" width="1" height="1" fill="#598b91"/>
<rect x="19" y="19" width="1" height="1" fill="#648c90"/>
<rect x="20" y="19" width="1" height="1" fill="#6f908f"/>
<rect x="21" y="19" width="1" height="1" fill="#79948f"/>
<rect x="22" y="19" width="1" height="1" fill="#7d948f"/>
<rect x="23" y="19" width="1" height="1" fill="#7a8e8c"/>
<rect x="24" y="19" width="1" height="1" fill="#6f8689"/>
<rect x="25" y="19" width="1" height="1" fill="#698387"/>
<rect x="26" y="19" width="1" height="1" fill="#6c8588"/>
<rect x="27" y="19" width="1" height="1" fill="#718789"/>
<rect x="28" y="19" width="1" height="1" fill="#708687"/>
<rect x="29" y="19" width="1" height="1" fill="#657e83"/>
<rect x="30" y="19" width="1" height="1" fill="#56737f"/>
<rect x="31" y="19" width="1" height="1" fill="#4c6a7a"/>
<rect x="32" y="19" width="1" height="1" fill="#486676"/>
<rect x="33" y="19" width="1" height="1" fill="#476576"/>
<rect x="0" y="20" width="1" height="1" fill="#56aca6"/>
<rect x="1" y="20" width="1" height="1" fill="#59aea6"/>
<rect x="2" y="20" width="1" height="1" fill="#5eb0a6"/>
<rect x="3" y="20" width="1" height="1" fill="#5fb0a7"/>
<rect x="4" y="20" width="1" height="1" fill="#5dada5"/>
<rect x="5" y="20" width="1" height="1" fill="#5ba6a0"/>
<rect x="6" y="20" width="1" height="1" fill="#589f9b"/>
<rect x="7" y="20" width="1" height="1" fill="#539898"/>
<rect x="8" y="20" width="1" height="1" fill="#4b9397"/>
<rect x="9" y="20" width="1" height="1" fill="#468d95"/>
<rect x="10" y="20" width="1" height="1" fill="#458a92"/>
<rect x="11" y="20" width="1" height="1" fill="#46868f"/>
<rect x="12" y="20" width="1" height="1" fill="#48818c"/>
<rect x="13" y="20" width="1" height="1" fill="#4f838d"/>
<rect x="14" y="20" width="1" height="1" fill="#4a7e8b"/>
<rect x="15" y="20" width="1" height="1" fill="#4b7f8b"/>
<rect x="16" y="20" width="1" height="1" fill="#52888e"/>
<rect x="17" y="20" width="1" height="1" fill="#558a90"/>
<rect x="18" y="20" width="1" height="1" fill="#5d898f"/>
<rect x="19" y="20" width="1" height="1" fill="#66898d"/>
<rect x="20" y="20" width="1" height="1" fill="#6e8a8c"/>
<rect x="21" y="20" width="1" height="1" fill="#798f8c"/>
<rect x="22" y="20" width="1" height="1" fill="#7e8d8b"/>
<rect x="23" y="20" width="1" height="1" fill="#7f8a89"/>
<rect x="24" y="20" width="1" height="1" fill="#6c8488"/>
<rect x="25" y="20" width="1" height="1" fill="#688287"/>
<rect x="26" y="20" width="1" height="1" fill="#728789"/>
<rect x="27" y="20" width="1" height="1" fill="#7a8b8a"/>
<rect x="28" y="20" width="1" height="1" fill="#778989"/>
<rect x="29" y="20" width="1" height="1" fill="#6c8386"/>
<rect x="30" y="20" width="1" height="1" fill="#56747f"/>
<rect x="31" y="20" width="1" height="1" fill="#4b6979"/>
<rect x="32" y="20" width="1" height="1" fill="#486677"/>
<rect x="33" y="20" width="1" height="1" fill="#476577"/>
<rect x="0" y="21" width="1" height="1" fill="#56aaa5"/>
<rect x="1" y="21" width="1" height="1" fill="#59aea7"/>
<rect x="2" y="21" width="1" height="1" fill="#5eb0a7"/>
<rect x="3" y="21" width="1" height="1" fill="#5eafa7"/>
<rect x="4" y="21" width="1" height="1" fill="#58aaa5"/>
<rect x="5" y="21" width="1" height="1" fill="#57a6a2"/>
<rect x="6" y="21" width="1" height="1" fill="#569f9c"/>
<rect x="7" y="21" width="1" height="1" fill="#519898"/>
<rect x="8" y="21" width="1" height="1" fill="#479097"/>
<rect x="9" y="21" width="1" height="1" fill="#438a94"/>
<rect x="10" y="21" width="1" height="1" fill="#428791"/>
<rect x="11" y="21" width="1" height="1" fill="#43838d"/>
<rect x="12" y="21" width="1" height="1" fill="#457e8b"/>
<rect x="13" y="21" width="1" height="1" fill="#457c8a"/>
<rect x="14" y="21" width="1" height="1" fill="#477c8a"/>
<rect x="15" y="21" width="1" height="1" fill="#507e88"/>
<rect x="16" y="21" width="1" height="1" fill="#52858c"/>
<rect x="17" y="21" width="1" height="1" fill="#4d8890"/>
<rect x="18" y="21" width="1" height="1" fill="#58878d"/>
<rect x="19" y="21" width="1" height="1" fill="#64868a"/>
<rect x="20" y="21" width="1" height="1" fill="#688589"/>
<rect x="21" y="21" width="1" height="1" fill="#6b8689"/>
<rect x="22" y="21" width="1" height="1" fill="#748889"/>
<rect x="23" y="21" width="1" height="1" fill="#958a87"/>
<rect x="24" y="21" width="1" height="1" fill="#998b88"/>
<rect x="25" y="21" width="1" height="1" fill="#958c89"/>
<rect x="26" y="21" width="1" height="1" fill="#7f8a89"/>
<rect x="27" y="21" width="1" height="1" fill="#748788"/>
<rect x="28" y="21" width="1" height="1" fill="#627c84"/>
<rect x="29" y="21" width="1" height="1" fill="#587681"/>
<rect x="30" y="21" width="1" height="1" fill="#53717e"/>
<rect x="31" y="21" width="1" height="1" fill="#4b697a"/>
<rect x="32" y="21" width="1" height="1" fill="#496678"/>
<rect x="33" y="21" width="1" height="1" fill="#486678"/>
<rect x="0" y="22" width="1" height="1" fill="#54a8a5"/>
<rect x="1" y="22" width="1" height="1" fill="#55aaa6"/>
<rect x="2" y="22" width="1" height="1" fill="#57aca8"/>
<rect x="3" y="22" width="1" height="1" fill="#55aaa6"/>
<rect x="4" y="22" width="1" height="1" fill="#54a8a5"/>
<rect x="5" y="22" width="1" height="1" fill="#54a5a3"/>
<rect x="6" y="22" width="1" height="1" fill="#529b9b"/>
<rect x="7" y="22" width="1" height="1" fill="#4a9397"/>
<rect x="8" y="22" width="1" height="1" fill="#448c95"/>
<rect x="9" y="22" width="1" height="1" fill="#428993"/>
<rect x="10" y="22" width="1" height="1" fill="#428791"/>
<rect x="11" y="22" width="1" height="1" fill="#43838d"/>
<rect x="12" y="22" width="1" height="1" fill="#447d8a"/>
<rect x="13" y="22" width="1" height="1" fill="#447b8a"/>
<rect x="14" y="22" width="1" height="1" fill="#467c8a"/>
<rect x="15" y="22" width="1" height="1" fill="#50838a"/>
<rect x="16" y="22" width="1" height="1" fill="#50868c"/>
<rect x="17" y="22" width="1" height="1" fill="#4a8890"/>
<rect x="18" y="22" width="1" height="1" fill="#54858c"/>
<rect x="19" y="22" width="1" height="1" fill="#618188"/>
<rect x="20" y="22" width="1" height="1" fill="#648188"/>
<rect x="21" y="22" width="1" height="1" fill="#617f87"/>
<rect x="22" y="22" width="1" height="1" fill="#688489"/>
<rect x="23" y="22" width="1" height="1" fill="#9d8d85"/>
<rect x="24" y="22" width="1" height="1" fill="#a1938a"/>
<rect x="25" y="22" width="1" height="1" fill="#a0958b"/>
<rect x="26" y="22" width="1" height="1" fill="#808a88"/>
<rect x="27" y="22" width="1" height="1" fill="#597681"/>
<rect x="28" y="22" width="1" height="1" fill="#53717e"/>
<rect x="29" y="22" width="1" height="1" fill="#516f7c"/>
<rect x="30" y="22" width="1" height="1" fill="#506e7c"/>
<rect x="31" y="22" width="1" height="1" fill="#4c6a7a"/>
<rect x="32" y="22" width="1" height="1" fill="#496778"/>
<rect x="33" y="22" width="1" height="1" fill="#486678"/>
<rect x="0" y="23" width="1" height="1" fill="#52a7a5"/>
<rect x="1" y="23" width="2" height="1" fill="#52a7a6"/>
<rect x="3" y="23" width="1" height="1" fill="#51a7a6"/>
<rect x="4" y="23" width="1" height="1" fill="#50a6a6"/>
<rect x="5" y="23" width="1" height="1" fill="#51a3a3"/>
<rect x="6" y="23" width="1" height="1" fill="#4f999b"/>
<rect x="7" y="23" width="1" height="1" fill="#489297"/>
<rect x="8" y="23" width="1" height="1" fill="#438b94"/>
<rect x="9" y="23" width="1" height="1" fill="#428893"/>
<rect x="10" y="23" width="1" height="1" fill="#428791"/>
<rect x="11" y="23" width="1" height="1" fill="#43828d"/>
<rect x="12" y="23" width="1" height="1" fill="#447d8a"/>
<rect x="13" y="23" width="1" height="1" fill="#447b8a"/>
<rect x="14" y="23" width="1" height="1" fill="#457d8a"/>
<rect x="15" y="23" width="1" height="1" fill="#49838b"/>
<rect x="16" y="23" width="1" height="1" fill="#4e878d"/>
<rect x="17" y="23" width="1" height="1" fill="#4a8890"/>
<rect x="18" y="23" width="1" height="1" fill="#54858b"/>
<rect x="19" y="23" width="1" height="1" fill="#607f87"/>
<rect x="20" y="23" width="1" height="1" fill="#627d86"/>
<rect x="21" y="23" width="1" height="1" fill="#627f87"/>
<rect x="22" y="23" width="1" height="1" fill="#668389"/>
<rect x="23" y="23" width="1" height="1" fill="#998f88"/>
<rect x="24" y="23" width="1" height="1" fill="#9f968b"/>
<rect x="25" y="23" width="1" height="1" fill="#9f988c"/>
<rect x="26" y="23" width="1" height="1" fill="#738889"/>
<rect x="27" y="23" width="1" height="1" fill="#4b697a"/>
<rect x="28" y="23" width="2" height="1" fill="#4a6879"/>
<rect x="30" y="23" width="1" height="1" fill="#4b6979"/>
<rect x="31" y="23" width="1" height="1" fill="#4a6879"/>
<rect x="32" y="23" width="1" height="1" fill="#496779"/>
<rect x="33" y="23" width="1" height="1" fill="#486678"/>
<rect x="0" y="24" width="1" height="1" fill="#4fa5a6"/>
<rect x="1" y="24" width="1" height="1" fill="#4da5a7"/>
<rect x="2" y="24" width="1" height="1" fill="#4ea5a6"/>
<rect x="3" y="24" width="1" height="1" fill="#4ca3a5"/>
<rect x="4" y="24" width="1" height="1" fill="#4aa1a5"/>
<rect x="5" y="24" width="1" height="1" fill="#4a9fa2"/>
<rect x="6" y="24" width="1" height="1" fill="#48969a"/>
<rect x="7" y="24" width="1" height="1" fill="#469097"/>
<rect x="8" y="24" width="1" height="1" fill="#438a94"/>
<rect x="9" y="24" width="1" height="1" fill="#428893"/>
<rect x="10" y="24" width="1" height="1" fill="#428691"/>
<rect x="11" y="24" width="1" height="1" fill="#447f8c"/>
<rect x="12" y="24" width="1" height="1" fill="#447c8a"/>
<rect x="13" y="24" width="1" height="1" fill="#447b8a"/>
<rect x="14" y="24" width="1" height="1" fill="#457d8a"/>
<rect x="15" y="24" width="1" height="1" fill="#49838b"/>
<rect x="16" y="24" width="1" height="1" fill="#4e878c"/>
<rect x="17" y="24" width="1" height="1" fill="#4a878f"/>
<rect x="18" y="24" width="1" height="1" fill="#54858b"/>
<rect x="19" y="24" width="1" height="1" fill="#5f7e87"/>
<rect x="20" y="24" width="1" height="1" fill="#627c86"/>
<rect x="21" y="24" width="1" height="1" fill="#637e87"/>
<rect x="22" y="24" width="1" height="1" fill="#688489"/>
<rect x="23" y="24" width="1" height="1" fill="#8f928b"/>
<rect x="24" y="24" width="1" height="1" fill="#92948b"/>
<rect x="25" y="24" width="1" height="1" fill="#91948b"/>
<rect x="26" y="24" width="1" height="1" fill="#688488"/>
<rect x="27" y="24" width="1" height="1" fill="#496779"/>
<rect x="28" y="24" width="1" height="1" fill="#486678"/>
<rect x="29" y="24" width="1" height="1" fill="#496678"/>
<rect x="30" y="24" width="1" height="1" fill="#4a6879"/>
<rect x="31" y="24" width="1" height="1" fill="#4c697a"/>
<rect x="32" y="24" width="1" height="1" fill="#496779"/>
<rect x="33" y="24" width="1" height="1" fill="#486678"/>
<rect x="0" y="25" width="1" height="1" fill="#4aa4a8"/>
<rect x="1" y="25" width="1" height="1" fill="#49a3a7"/>
<rect x="2" y="25" width="1" height="1" fill="#49a1a6"/>
<rect x="3" y="25" width="1" height="1" fill="#479ca2"/>
<rect x="4" y="25" width="1" height="1" fill="#46989d"/>
<rect x="5" y="25" width="1" height="1" fill="#46959b"/>
<rect x="6" y="25" width="1" height="1" fill="#459198"/>
<rect x="7" y="25" width="1" height="1" fill="#438b95"/>
<rect x="8" y="25" width="1" height="1" fill="#428993"/>
<rect x="9" y="25" width="1" height="1" fill="#428792"/>
<rect x="10" y="25" width="1" height="1" fill="#438490"/>
<rect x="11" y="25" width="1" height="1" fill="#447d8b"/>
<rect x="12" y="25" width="1" height="1" fill="#447b8a"/>
<rect x="13" y="25" width="1" height="1" fill="#457c8a"/>
<rect x="14" y="25" width="1" height="1" fill="#487e8a"/>
<rect x="15" y="25" width="1" height="1" fill="#52868b"/>
<rect x="16" y="25" width="1" height="1" fill="#52888c"/>
<rect x="17" y="25" width="1" height="1" fill="#4d888d"/>
<rect x="18" y="25" width="1" height="1" fill="#57858b"/>
<rect x="19" y="25" width="1" height="1" fill="#618087"/>
<rect x="20" y="25" width="1" height="1" fill="#637e86"/>
<rect x="21" y="25" width="1" height="1" fill="#648087"/>
<rect x="22" y="25" width="1" height="1" fill="#698488"/>
<rect x="23" y="25" width="1" height="1" fill="#718789"/>
<rect x="24" y="25" width="1" height="1" fill="#7e8b89"/>
<rect x="25" y="25" width="1" height="1" fill="#728688"/>
<rect x="26" y="25" width="1" height="1" fill="#557581"/>
<rect x="27" y="25" width="1" height="1" fill="#4a6a7a"/>
<rect x="28" y="25" width="1" height="1" fill="#486879"/>
<rect x="29" y="25" width="1" height="1" fill="#49687a"/>
<rect x="30" y="25" width="1" height="1" fill="#4c6b7b"/>
<rect x="31" y="25" width="1" height="1" fill="#4e6d7b"/>
<rect x="32" y="25" width="1" height="1" fill="#4b6a7a"/>
<rect x="33" y="25" width="1" height="1" fill="#496879"/>
<rect x="0" y="26" width="1" height="1" fill="#48a3a8"/>
<rect x="1" y="26" width="1" height="1" fill="#48a1a7"/>
<rect x="2" y="26" width="1" height="1" fill="#479ca3"/>
<rect x="3" y="26" width="1" height="1" fill="#46979e"/>
<rect x="4" y="26" width="1" height="1" fill="#459399"/>
<rect x="5" y="26" width="1" height="1" fill="#459097"/>
<rect x="6" y="26" width="1" height="1" fill="#438b95"/>
<rect x="7" y="26" width="1" height="1" fill="#428993"/>
<rect x="8" y="26" width="1" height="1" fill="#428893"/>
<rect x="9" y="26" width="1" height="1" fill="#428792"/>
<rect x="10" y="26" width="1" height="1" fill="#44818d"/>
<rect x="11" y="26" width="1" height="1" fill="#467e8b"/>
<rect x="12" y="26" width="1" height="1" fill="#477d8a"/>
<rect x="13" y="26" width="1" height="1" fill="#487e8a"/>
<rect x="14" y="26" width="1" height="1" fill="#53858b"/>
<rect x="15" y="26" width="1" height="1" fill="#58888b"/>
<rect x="16" y="26" width="1" height="1" fill="#628e8d"/>
<rect x="17" y="26" width="1" height="1" fill="#568c8d"/>
<rect x="18" y="26" width="1" height="1" fill="#638588"/>
<rect x="19" y="26" width="1" height="1" fill="#638187"/>
<rect x="20" y="26" width="1" height="1" fill="#648187"/>
<rect x="21" y="26" width="1" height="1" fill="#678387"/>
<rect x="22" y="26" width="1" height="1" fill="#698387"/>
<rect x="23" y="26" width="1" height="1" fill="#6a8187"/>
<rect x="24" y="26" width="1" height="1" fill="#617a83"/>
<rect x="25" y="26" width="1" height="1" fill="#53737f"/>
<rect x="26" y="26" width="1" height="1" fill="#4e6f7d"/>
<rect x="27" y="26" width="1" height="1" fill="#4c6d7c"/>
<rect x="28" y="26" width="1" height="1" fill="#4a6a7c"/>
<rect x="29" y="26" width="1" height="1" fill="#496a7c"/>
<rect x="30" y="26" width="1" height="1" fill="#4d6d7c"/>
<rect x="31" y="26" width="1" height="1" fill="#50707d"/>
<rect x="32" y="26" width="1" height="1" fill="#4f707c"/>
<rect x="33" y="26" width="1" height="1" fill="#4d6e7c"/>
<rect x="0" y="27" width="1" height="1" fill="#48a3a8"/>
<rect x="1" y="27" width="1" height="1" fill="#48a1a6"/>
<rect x="2" y="27" width="1" height="1" fill="#469aa1"/>
<rect x="3" y="27" width="1" height="1" fill="#45949b"/>
<rect x="4" y="27" width="1" height="1" fill="#448d96"/>
<rect x="5" y="27" width="1" height="1" fill="#438a94"/>
<rect x="6" y="27" width="2" height="1" fill="#428993"/>
<rect x="8" y="27" width="1" height="1" fill="#428994"/>
<rect x="9" y="27" width="1" height="1" fill="#438892"/>
<rect x="10" y="27" width="1" height="1" fill="#45848e"/>
<rect x="11" y="27" width="1" height="1" fill="#4d848b"/>
<rect x="12" y="27" width="1" height="1" fill="#53868c"/>
<rect x="13" y="27" width="1" height="1" fill="#618e8e"/>
<rect x="14" y="27" width="1" height="1" fill="#70928d"/>
<rect x="15" y="27" width="1" height="1" fill="#81948d"/>
<rect x="16" y="27" width="1" height="1" fill="#8c948d"/>
<rect x="17" y="27" width="1" height="1" fill="#74878b"/>
<rect x="18" y="27" width="1" height="1" fill="#668288"/>
<rect x="19" y="27" width="1" height="1" fill="#628087"/>
<rect x="20" y="27" width="1" height="1" fill="#648287"/>
<rect x="21" y="27" width="1" height="1" fill="#678387"/>
<rect x="22" y="27" width="1" height="1" fill="#688287"/>
<rect x="23" y="27" width="1" height="1" fill="#647d86"/>
<rect x="24" y="27" width="1" height="1" fill="#5a7782"/>
<rect x="25" y="27" width="1" height="1" fill="#51707e"/>
<rect x="26" y="27" width="1" height="1" fill="#4d6d7d"/>
<rect x="27" y="27" width="1" height="1" fill="#4d6c7e"/>
<rect x="28" y="27" width="1" height="1" fill="#4b6b7d"/>
<rect x="29" y="27" width="1" height="1" fill="#4a6b7d"/>
<rect x="30" y="27" width="1" height="1" fill="#4e6e7d"/>
<rect x="31" y="27" width="1" height="1" fill="#52717d"/>
<rect x="32" y="27" width="1" height="1" fill="#52727d"/>
<rect x="33" y="27" width="1" height="1" fill="#50727d"/>
<rect x="0" y="28" width="1" height="1" fill="#48a2a7"/>
<rect x="1" y="28" width="1" height="1" fill="#47a0a6"/>
<rect x="2" y="28" width="1" height="1" fill="#4699a0"/>
<rect x="3" y="28" width="1" height="1" fill="#45939a"/>
<rect x="4" y="28" width="1" height="1" fill="#438b94"/>
<rect x="5" y="28" width="2" height="1" fill="#428893"/>
<rect x="7" y="28" width="1" height="1" fill="#428994"/>
<rect x="8" y="28" width="1" height="1" fill="#438b95"/>
<rect x="9" y="28" width="1" height="1" fill="#438993"/>
<rect x="10" y="28" width="1" height="1" fill="#448791"/>
<rect x="11" y="28" width="1" height="1" fill="#4b878e"/>
<rect x="12" y="28" width="1" height="1" fill="#588a8d"/>
<rect x="13" y="28" width="1" height="1" fill="#648e8e"/>
<rect x="14" y="28" width="1" height="1" fill="#70938e"/>
<rect x="15" y="28" width="1" height="1" fill="#8c978f"/>
<rect x="16" y="28" width="1" height="1" fill="#8b948e"/>
<rect x="17" y="28" width="1" height="1" fill="#78848b"/>
<rect x="18" y="28" width="1" height="1" fill="#667f87"/>
<rect x="19" y="28" width="1" height="1" fill="#607e86"/>
<rect x="20" y="28" width="1" height="1" fill="#628086"/>
<rect x="21" y="28" width="1" height="1" fill="#658286"/>
<rect x="22" y="28" width="1" height="1" fill="#648086"/>
<rect x="23" y="28" width="1" height="1" fill="#607c85"/>
<rect x="24" y="28" width="1" height="1" fill="#577682"/>
<rect x="25" y="28" width="1" height="1" fill="#51717f"/>
<rect x="26" y="28" width="1" height="1" fill="#4f6d7e"/>
<rect x="27" y="28" width="1" height="1" fill="#4e6c7e"/>
<rect x="28" y="28" width="1" height="1" fill="#4c6b7e"/>
<rect x="29" y="28" width="1" height="1" fill="#4c6b7d"/>
<rect x="30" y="28" width="1" height="1" fill="#4f6d7d"/>
<rect x="31" y="28" width="1" height="1" fill="#536f7d"/>
<rect x="32" y="28" width="1" height="1" fill="#53717e"/>
<rect x="33" y="28" width="1" height="1" fill="#52737e"/>
<rect x="0" y="29" width="1" height="1" fill="#48a1a6"/>
<rect x="1" y="29" width="1" height="1" fill="#479ca3"/>
<rect x="2" y="29" width="1" height="1" fill="#46989f"/>
<rect x="3" y="29" width="1" height="1" fill="#459199"/>
<rect x="4" y="29" width="1" height="1" fill="#438a94"/>
<rect x="5" y="29" width="2" height="1" fill="#428893"/>
<rect x="7" y="29" width="1" height="1" fill="#428993"/>
<rect x="8" y="29" width="1" height="1" fill="#428994"/>
<rect x="9" y="29" width="1" height="1" fill="#438993"/>
<rect x="10" y="29" width="1" height="1" fill="#478892"/>
<rect x="11" y="29" width="1" height="1" fill="#548c92"/>
<rect x="12" y="29" width="1" height="1" fill="#5e9192"/>
<rect x="13" y="29" width="1" height="1" fill="#639391"/>
<rect x="14" y="29" width="1" height="1" fill="#669492"/>
<rect x="15" y="29" width="1" height="1" fill="#729692"/>
<rect x="16" y="29" width="1" height="1" fill="#7e9390"/>
<rect x="17" y="29" width="1" height="1" fill="#728389"/>
<rect x="18" y="29" width="1" height="1" fill="#657d86"/>
<rect x="19" y="29" width="1" height="1" fill="#5b7784"/>
<rect x="20" y="29" width="1" height="1" fill="#5b7983"/>
<rect x="21" y="29" width="1" height="1" fill="#5f7d83"/>
<rect x="22" y="29" width="1" height="1" fill="#5f7e83"/>
<rect x="23" y="29" width="1" height="1" fill="#5c7c83"/>
<rect x="24" y="29" width="1" height="1" fill="#587982"/>
<rect x="25" y="29" width="1" height="1" fill="#557681"/>
<rect x="26" y="29" width="1" height="1" fill="#53727f"/>
<rect x="27" y="29" width="1" height="1" fill="#516f7e"/>
<rect x="28" y="29" width="1" height="1" fill="#4e6d7d"/>
<rect x="29" y="29" width="1" height="1" fill="#4d6d7d"/>
<rect x="30" y="29" width="1" height="1" fill="#4e6d7d"/>
<rect x="31" y="29" width="1" height="1" fill="#4f6e7e"/>
<rect x="32" y="29" width="1" height="1" fill="#537280"/>
<rect x="33" y="29" width="1" height="1" fill="#567581"/>
<rect x="0" y="30" width="1" height="1" fill="#47a0a6"/>
<rect x="1" y="30" width="1" height="1" fill="#469ba2"/>
<rect x="2" y="30" width="1" height="1" fill="#45959e"/>
<rect x="3" y="30" width="1" height="1" fill="#418b96"/>
<rect x="4" y="30" width="1" height="1" fill="#3f8794"/>
<rect x="5" y="30" width="1" height="1" fill="#408793"/>
<rect x="6" y="30" width="1" height="1" fill="#418793"/>
<rect x="7" y="30" width="2" height="1" fill="#428893"/>
<rect x="9" y="30" width="1" height="1" fill="#458993"/>
<rect x="10" y="30" width="1" height="1" fill="#518c94"/>
<rect x="11" y="30" width="1" height="1" fill="#599395"/>
<rect x="12" y="30" width="1" height="1" fill="#609694"/>
<rect x="13" y="30" width="1" height="1" fill="#629693"/>
<rect x="14" y="30" width="1" height="1" fill="#639593"/>
<rect x="15" y="30" width="1" height="1" fill="#679593"/>
<rect x="16" y="30" width="1" height="1" fill="#729290"/>
<rect x="17" y="30" width="1" height="1" fill="#708489"/>
<rect x="18" y="30" width="1" height="1" fill="#647c86"/>
<rect x="19" y="30" width="1" height="1" fill="#577383"/>
<rect x="20" y="30" width="1" height="1" fill="#567382"/>
<rect x="21" y="30" width="1" height="1" fill="#597882"/>
<rect x="22" y="30" width="1" height="1" fill="#5b7b82"/>
<rect x="23" y="30" width="2" height="1" fill="#5a7c82"/>
<rect x="25" y="30" width="1" height="1" fill="#597a81"/>
<rect x="26" y="30" width="1" height="1" fill="#567680"/>
<rect x="27" y="30" width="1" height="1" fill="#51717e"/>
<rect x="28" y="30" width="1" height="1" fill="#506f7d"/>
<rect x="29" y="30" width="1" height="1" fill="#4f6f7d"/>
<rect x="30" y="30" width="1" height="1" fill="#4d6d7e"/>
<rect x="31" y="30" width="1" height="1" fill="#4d6e80"/>
<rect x="32" y="30" width="1" height="1" fill="#557582"/>
<rect x="33" y="30" width="1" height="1" fill="#5a7983"/>
<rect x="0" y="31" width="1" height="1" fill="#47a0a6"/>
<rect x="1" y="31" width="1" height="1" fill="#4699a1"/>
<rect x="2" y="31" width="1" height="1" fill="#3f8c98"/>
<rect x="3" y="31" width="1" height="1" fill="#3a8595"/>
<rect x="4" y="31" width="1" height="1" fill="#388294"/>
<rect x="5" y="31" width="1" height="1" fill="#388093"/>
<rect x="6" y="31" width="1" height="1" fill="#3f8693"/>
<rect x="7" y="31" width="1" height="1" fill="#418893"/>
<rect x="8" y="31" width="1" height="1" fill="#428893"/>
<rect x="9" y="31" width="1" height="1" fill="#458a93"/>
<rect x="10" y="31" width="1" height="1" fill="#549395"/>
<rect x="11" y="31" width="1" height="1" fill="#5c9795"/>
<rect x="12" y="31" width="1" height="1" fill="#609a96"/>
<rect x="13" y="31" width="1" height="1" fill="#629794"/>
<rect x="14" y="31" width="1" height="1" fill="#629593"/>
<rect x="15" y="31" width="1" height="1" fill="#669593"/>
<rect x="16" y="31" width="1" height="1" fill="#6f9290"/>
<rect x="17" y="31" width="1" height="1" fill="#6e8589"/>
<rect x="18" y="31" width="1" height="1" fill="#617b86"/>
<rect x="19" y="31" width="1" height="1" fill="#537183"/>
<rect x="20" y="31" width="1" height="1" fill="#527082"/>
<rect x="21" y="31" width="1" height="1" fill="#557482"/>
<rect x="22" y="31" width="1" height="1" fill="#567782"/>
<rect x="23" y="31" width="2" height="1" fill="#557881"/>
<rect x="25" y="31" width="1" height="1" fill="#557780"/>
<rect x="26" y="31" width="1" height="1" fill="#52737e"/>
<rect x="27" y="31" width="1" height="1" fill="#506f7d"/>
<rect x="28" y="31" width="1" height="1" fill="#516f7d"/>
<rect x="29" y="31" width="1" height="1" fill="#54727f"/>
<rect x="30" y="31" width="1" height="1" fill="#5a7781"/>
<rect x="31" y="31" width="1" height="1" fill="#607c84"/>
<rect x="32" y="31" width="1" height="1" fill="#648085"/>
<rect x="33" y="31" width="1" height="1" fill="#648186"/>
<rect x="0" y="32" width="1" height="1" fill="#479ea5"/>
<rect x="1" y="32" width="1" height="1" fill="#4598a1"/>
<rect x="2" y="32" width="1" height="1" fill="#3a8797"/>
<rect x="3" y="32" width="1" height="1" fill="#368295"/>
<rect x="4" y="32" width="1" height="1" fill="#347e93"/>
<rect x="5" y="32" width="1" height="1" fill="#368194"/>
<rect x="6" y="32" width="1" height="1" fill="#3b8594"/>
<rect x="7" y="32" width="1" height="1" fill="#418893"/>
<rect x="8" y="32" width="1" height="1" fill="#438993"/>
<rect x="9" y="32" width="1" height="1" fill="#478c94"/>
<rect x="10" y="32" width="1" height="1" fill="#549596"/>
<rect x="11" y="32" width="1" height="1" fill="#589897"/>
<rect x="12" y="32" width="1" height="1" fill="#5e9b96"/>
<rect x="13" y="32" width="1" height="1" fill="#609795"/>
<rect x="14" y="32" width="1" height="1" fill="#629593"/>
<rect x="15" y="32" width="1" height="1" fill="#679592"/>
<rect x="16" y="32" width="1" height="1" fill="#71918f"/>
<rect x="17" y="32" width="1" height="1" fill="#6d8489"/>
<rect x="18" y="32" width="1" height="1" fill="#607c86"/>
<rect x="19" y="32" width="1" height="1" fill="#507083"/>
<rect x="20" y="32" width="1" height="1" fill="#4f6f82"/>
<rect x="21" y="32" width="1" height="1" fill="#527282"/>
<rect x="22" y="32" width="1" height="1" fill="#537482"/>
<rect x="23" y="32" width="1" height="1" fill="#4f7480"/>
<rect x="24" y="32" width="1" height="1" fill="#50747f"/>
<rect x="25" y="32" width="1" height="1" fill="#50737f"/>
<rect x="26" y="32" width="1" height="1" fill="#50707e"/>
<rect x="27" y="32" width="1" height="1" fill="#4f6d7d"/>
<rect x="28" y="32" width="1" height="1" fill="#4f6d7e"/>
<rect x="29" y="32" width="1" height="1" fill="#5d7983"/>
<rect x="30" y="32" width="1" height="1" fill="#6e8085"/>
<rect x="31" y="32" width="1" height="1" fill="#748485"/>
<rect x="32" y="32" width="1" height="1" fill="#738686"/>
<rect x="33" y="32" width="1" height="1" fill="#708687"/>
<rect x="0" y="33" width="1" height="1" fill="#469aa2"/>
<rect x="1" y="33" width="1" height="1" fill="#43959f"/>
<rect x="2" y="33" width="1" height="1" fill="#378597"/>
<rect x="3" y="33" width="1" height="1" fill="#358094"/>
<rect x="4" y="33" width="1" height="1" fill="#347c92"/>
<rect x="5" y="33" width="1" height="1" fill="#378294"/>
<rect x="6" y="33" width="1" height="1" fill="#3e8794"/>
<rect x="7" y="33" width="1" height="1" fill="#428894"/>
<rect x="8" y="33" width="1" height="1" fill="#458b94"/>
<rect x="9" y="33" width="1" height="1" fill="#509496"/>
<rect x="10" y="33" width="1" height="1" fill="#549697"/>
<rect x="11" y="33" width="1" height="1" fill="#569897"/>
<rect x="12" y="33" width="1" height="1" fill="#579797"/>
<rect x="13" y="33" width="1" height="1" fill="#5b9595"/>
<rect x="14" y="33" width="1" height="1" fill="#639392"/>
<rect x="15" y="33" width="1" height="1" fill="#72938e"/>
<rect x="16" y="33" width="1" height="1" fill="#7c918c"/>
<rect x="17" y="33" width="1" height="1" fill="#6c8388"/>
<rect x="18" y="33" width="1" height="1" fill="#607c86"/>
<rect x="19" y="33" width="1" height="1" fill="#507183"/>
<rect x="20" y="33" width="1" height="1" fill="#4f6f82"/>
<rect x="21" y="33" width="1" height="1" fill="#507181"/>
<rect x="22" y="33" width="1" height="1" fill="#527381"/>
<rect x="23" y="33" width="1" height="1" fill="#547581"/>
<rect x="24" y="33" width="1" height="1" fill="#567781"/>
<rect x="25" y="33" width="1" height="1" fill="#537580"/>
<rect x="26" y="33" width="1" height="1" fill="#50717e"/>
<rect x="27" y="33" width="1" height="1" fill="#4d6d7e"/>
<rect x="28" y="33" width="1" height="1" fill="#4f6d7f"/>
<rect x="29" y="33" width="1" height="1" fill="#5c7883"/>
<rect x="30" y="33" width="1" height="1" fill="#728286"/>
<rect x="31" y="33" width="1" height="1" fill="#7b8485"/>
<rect x="32" y="33" width="1" height="1" fill="#7e8784"/>
<rect x="33" y="33" width="1" height="1" fill="#7d8985"/>
<rect x="0" y="34" width="1" height="1" fill="#42959f"/>
<rect x="1" y="34" width="1" height="1" fill="#398898"/>
<rect x="2" y="34" width="1" height="1" fill="#368395"/>
<rect x="3" y="34" width="2" height="1" fill="#337b92"/>
<rect x="5" y="34" width="1" height="1" fill="#388294"/>
<rect x="6" y="34" width="1" height="1" fill="#3f8894"/>
<rect x="7" y="34" width="1" height="1" fill="#448b94"/>
<rect x="8" y="34" width="1" height="1" fill="#4a9297"/>
<rect x="9" y="34" width="1" height="1" fill="#539697"/>
<rect x="10" y="34" width="1" height="1" fill="#549797"/>
<rect x="11" y="34" width="1" height="1" fill="#539697"/>
<rect x="12" y="34" width="1" height="1" fill="#539396"/>
<rect x="13" y="34" width="1" height="1" fill="#598d92"/>
<rect x="14" y="34" width="1" height="1" fill="#688b8d"/>
<rect x="15" y="34" width="1" height="1" fill="#80928c"/>
<rect x="16" y="34" width="1" height="1" fill="#89938c"/>
<rect x="17" y="34" width="1" height="1" fill="#6c8287"/>
<rect x="18" y="34" width="1" height="1" fill="#5f7c86"/>
<rect x="19" y="34" width="1" height="1" fill="#547383"/>
<rect x="20" y="34" width="1" height="1" fill="#4f7081"/>
<rect x="21" y="34" width="1" height="1" fill="#4f7180"/>
<rect x="22" y="34" width="1" height="1" fill="#547481"/>
<rect x="23" y="34" width="1" height="1" fill="#597882"/>
<rect x="24" y="34" width="1" height="1" fill="#5b7b82"/>
<rect x="25" y="34" width="1" height="1" fill="#587981"/>
<rect x="26" y="34" width="1" height="1" fill="#527480"/>
<rect x="27" y="34" width="1" height="1" fill="#4f7080"/>
<rect x="28" y="34" width="1" height="1" fill="#527182"/>
<rect x="29" y="34" width="1" height="1" fill="#607b85"/>
<rect x="30" y="34" width="1" height="1" fill="#728386"/>
<rect x="31" y="34" width="1" height="1" fill="#7d8785"/>
<rect x="32" y="34" width="1" height="1" fill="#818884"/>
<rect x="33" y="34" width="1" height="1" fill="#818984"/>
<rect x="0" y="35" width="1" height="1" fill="#398d9c"/>
<rect x="1" y="35" width="1" height="1" fill="#368597"/>
<rect x="2" y="35" width="1" height="1" fill="#358094"/>
<rect x="3" y="35" width="1" height="1" fill="#337991"/>
<rect x="4" y="35" width="1" height="1" fill="#337a91"/>
<rect x="5" y="35" width="1" height="1" fill="#388294"/>
<rect x="6" y="35" width="1" height="1" fill="#418a95"/>
<rect x="7" y="35" width="1" height="1" fill="#499197"/>
<rect x="8" y="35" width="1" height="1" fill="#519697"/>
<rect x="9" y="35" width="1" height="1" fill="#539797"/>
<rect x="10" y="35" width="1" height="1" fill="#529697"/>
<rect x="11" y="35" width="1" height="1" fill="#4e9497"/>
<rect x="12" y="35" width="1" height="1" fill="#4d8e95"/>
<rect x="13" y="35" width="1" height="1" fill="#5b8a91"/>
<rect x="14" y="35" width="1" height="1" fill="#738a8a"/>
<rect x="15" y="35" width="1" height="1" fill="#828f8b"/>
<rect x="16" y="35" width="1" height="1" fill="#89928b"/>
<rect x="17" y="35" width="1" height="1" fill="#6c8387"/>
<rect x="18" y="35" width="1" height="1" fill="#5c7c86"/>
<rect x="19" y="35" width="1" height="1" fill="#527482"/>
<rect x="20" y="35" width="1" height="1" fill="#4e7080"/>
<rect x="21" y="35" width="1" height="1" fill="#4f7180"/>
<rect x="22" y="35" width="1" height="1" fill="#537581"/>
<rect x="23" y="35" width="1" height="1" fill="#597a82"/>
<rect x="24" y="35" width="1" height="1" fill="#5d7e83"/>
<rect x="25" y="35" width="1" height="1" fill="#5d7d83"/>
<rect x="26" y="35" width="1" height="1" fill="#5a7a83"/>
<rect x="27" y="35" width="1" height="1" fill="#567583"/>
<rect x="28" y="35" width="1" height="1" fill="#587684"/>
<rect x="29" y="35" width="1" height="1" fill="#637e86"/>
<rect x="30" y="35" width="1" height="1" fill="#728687"/>
<rect x="31" y="35" width="1" height="1" fill="#7a8a87"/>
<rect x="32" y="35" width="1" height="1" fill="#7e8c87"/>
<rect x="33" y="35" width="1" height="1" fill="#7f8c87"/>
<rect x="0" y="36" width="1" height="1" fill="#368697"/>
<rect x="1" y="36" width="1" height="1" fill="#358396"/>
<rect x="2" y="36" width="1" height="1" fill="#337b92"/>
<rect x="3" y="36" width="1" height="1" fill="#327991"/>
<rect x="4" y="36" width="1" height="1" fill="#347b92"/>
<rect x="5" y="36" width="1" height="1" fill="#3a8595"/>
<rect x="6" y="36" width="1" height="1" fill="#469097"/>
<rect x="7" y="36" width="1" height="1" fill="#509697"/>
<rect x="8" y="36" width="1" height="1" fill="#539797"/>
<rect x="9" y="36" width="1" height="1" fill="#519698"/>
<rect x="10" y="36" width="1" height="1" fill="#4d9598"/>
<rect x="11" y="36" width="1" height="1" fill="#549596"/>
<rect x="12" y="36" width="1" height="1" fill="#609292"/>
<rect x="13" y="36" width="1" height="1" fill="#728c8b"/>
<rect x="14" y="36" width="1" height="1" fill="#808d8a"/>
<rect x="15" y="36" width="1" height="1" fill="#848e8a"/>
<rect x="16" y="36" width="1" height="1" fill="#818d89"/>
<rect x="17" y="36" width="1" height="1" fill="#6d8587"/>
<rect x="18" y="36" width="1" height="1" fill="#5c7d86"/>
<rect x="19" y="36" width="1" height="1" fill="#537783"/>
<rect x="20" y="36" width="1" height="1" fill="#507481"/>
<rect x="21" y="36" width="2" height="1" fill="#4e727f"/>
<rect x="23" y="36" width="1" height="1" fill="#527681"/>
<rect x="24" y="36" width="1" height="1" fill="#5c7d84"/>
<rect x="25" y="36" width="1" height="1" fill="#617f85"/>
<rect x="26" y="36" width="1" height="1" fill="#627e86"/>
<rect x="27" y="36" width="1" height="1" fill="#607c86"/>
<rect x="28" y="36" width="1" height="1" fill="#627e86"/>
<rect x="29" y="36" width="1" height="1" fill="#6c8487"/>
<rect x="30" y="36" width="1" height="1" fill="#748987"/>
<rect x="31" y="36" width="1" height="1" fill="#7b8d89"/>
<rect x="32" y="36" width="1" height="1" fill="#7d8f8a"/>
<rect x="33" y="36" width="1" height="1" fill="#7d908b"/>
<rect x="0" y="37" width="1" height="1" fill="#368496"/>
<rect x="1" y="37" width="1" height="1" fill="#358195"/>
<rect x="2" y="37" width="1" height="1" fill="#337a91"/>
<rect x="3" y="37" width="1" height="1" fill="#337991"/>
<rect x="4" y="37" width="1" height="1" fill="#388193"/>
<rect x="5" y="37" width="1" height="1" fill="#408b96"/>
<rect x="6" y="37" width="1" height="1" fill="#489398"/>
<rect x="7" y="37" width="2" height="1" fill="#519698"/>
<rect x="9" y="37" width="1" height="1" fill="#4b9598"/>
<rect x="10" y="37" width="1" height="1" fill="#4c9598"/>
<rect x="11" y="37" width="1" height="1" fill="#5f9593"/>
<rect x="12" y="37" width="1" height="1" fill="#699490"/>
<rect x="13" y="37" width="1" height="1" fill="#7f918c"/>
<rect x="14" y="37" width="1" height="1" fill="#8c948c"/>
<rect x="15" y="37" width="1" height="1" fill="#8f948c"/>
<rect x="16" y="37" width="1" height="1" fill="#8d938c"/>
<rect x="17" y="37" width="1" height="1" fill="#6e8888"/>
<rect x="18" y="37" width="1" height="1" fill="#618287"/>
<rect x="19" y="37" width="1" height="1" fill="#587d85"/>
<rect x="20" y="37" width="1" height="1" fill="#537a83"/>
<rect x="21" y="37" width="1" height="1" fill="#4f7680"/>
<rect x="22" y="37" width="1" height="1" fill="#4c737e"/>
<rect x="23" y="37" width="1" height="1" fill="#4e737f"/>
<rect x="24" y="37" width="1" height="1" fill="#567882"/>
<rect x="25" y="37" width="1" height="1" fill="#617e85"/>
<rect x="26" y="37" width="1" height="1" fill="#658086"/>
<rect x="27" y="37" width="1" height="1" fill="#658087"/>
<rect x="28" y="37" width="1" height="1" fill="#688187"/>
<rect x="29" y="37" width="1" height="1" fill="#6f8687"/>
<rect x="30" y="37" width="1" height="1" fill="#768b88"/>
<rect x="31" y="37" width="1" height="1" fill="#7b8e89"/>
<rect x="32" y="37" width="2" height="1" fill="#7c908b"/>
<rect x="0" y="38" width="1" height="1" fill="#368396"/>
<rect x="1" y="38" width="1" height="1" fill="#358195"/>
<rect x="2" y="38" width="1" height="1" fill="#347c92"/>
<rect x="3" y="38" width="1" height="1" fill="#367c91"/>
<rect x="4" y="38" width="1" height="1" fill="#3f8894"/>
<rect x="5" y="38" width="1" height="1" fill="#459097"/>
<rect x="6" y="38" width="1" height="1" fill="#4b9498"/>
<rect x="7" y="38" width="1" height="1" fill="#519698"/>
<rect x="8" y="38" width="1" height="1" fill="#4e9698"/>
<rect x="9" y="38" width="1" height="1" fill="#4c9598"/>
<rect x="10" y="38" width="1" height="1" fill="#559797"/>
<rect x="11" y="38" width="1" height="1" fill="#629693"/>
<rect x="12" y="38" width="1" height="1" fill="#70948f"/>
<rect x="13" y="38" width="1" height="1" fill="#82948d"/>
<rect x="14" y="38" width="1" height="1" fill="#8f968d"/>
<rect x="15" y="38" width="1" height="1" fill="#93978e"/>
<rect x="16" y="38" width="1" height="1" fill="#8f968d"/>
<rect x="17" y="38" width="1" height="1" fill="#748c8a"/>
<rect x="18" y="38" width="1" height="1" fill="#6a8889"/>
<rect x="19" y="38" width="1" height="1" fill="#5f8387"/>
<rect x="20" y="38" width="1" height="1" fill="#577e84"/>
<rect x="21" y="38" width="1" height="1" fill="#527981"/>
<rect x="22" y="38" width="1" height="1" fill="#4d737e"/>
<rect x="23" y="38" width="1" height="1" fill="#4d727e"/>
<rect x="24" y="38" width="1" height="1" fill="#53757f"/>
<rect x="25" y="38" width="1" height="1" fill="#5d7b83"/>
<rect x="26" y="38" width="1" height="1" fill="#658085"/>
<rect x="27" y="38" width="1" height="1" fill="#698286"/>
<rect x="28" y="38" width="1" height="1" fill="#6d8487"/>
<rect x="29" y="38" width="1" height="1" fill="#728887"/>
<rect x="30" y="38" width="1" height="1" fill="#778b87"/>
<rect x="31" y="38" width="1" height="1" fill="#798d88"/>
<rect x="32" y="38" width="1" height="1" fill="#788d88"/>
<rect x="33" y="38" width="1" height="1" fill="#778d88"/>
<rect x="0" y="39" width="1" height="1" fill="#358396"/>
<rect x="1" y="39" width="1" height="1" fill="#358196"/>
<rect x="2" y="39" width="1" height="1" fill="#368195"/>
<rect x="3" y="39" width="1" height="1" fill="#3c8594"/>
<rect x="4" y="39" width="1" height="1" fill="#408994"/>
<rect x="5" y="39" width="1" height="1" fill="#459097"/>
<rect x="6" y="39" width="1" height="1" fill="#4d9598"/>
<rect x="7" y="39" width="1" height="1" fill="#4f9798"/>
<rect x="8" y="39" width="1" height="1" fill="#4f9899"/>
<rect x="9" y="39" width="1" height="1" fill="#529a9a"/>
<rect x="10" y="39" width="1" height="1" fill="#5b9d98"/>
<rect x="11" y="39" width="1" height="1" fill="#629995"/>
<rect x="12" y="39" width="1" height="1" fill="#679893"/>
<rect x="13" y="39" width="1" height="1" fill="#7e9891"/>
<rect x="14" y="39" width="1" height="1" fill="#8c978e"/>
<rect x="15" y="39" width="1" height="1" fill="#90978d"/>
<rect x="16" y="39" width="1" height="1" fill="#8d968d"/>
<rect x="17" y="39" width="1" height="1" fill="#76918d"/>
<rect x="18" y="39" width="1" height="1" fill="#718e8c"/>
<rect x="19" y="39" width="1" height="1" fill="#6b8a8a"/>
<rect x="20" y="39" width="1" height="1" fill="#608286"/>
<rect x="21" y="39" width="1" height="1" fill="#5a7d83"/>
<rect x="22" y="39" width="1" height="1" fill="#51747f"/>
<rect x="23" y="39" width="1" height="1" fill="#4f727e"/>
<rect x="24" y="39" width="1" height="1" fill="#537580"/>
<rect x="25" y="39" width="1" height="1" fill="#5b7981"/>
<rect x="26" y="39" width="1" height="1" fill="#647f84"/>
<rect x="27" y="39" width="1" height="1" fill="#6a8386"/>
<rect x="28" y="39" width="1" height="1" fill="#6f8587"/>
<rect x="29" y="39" width="1" height="1" fill="#728887"/>
<rect x="30" y="39" width="1" height="1" fill="#758987"/>
<rect x="31" y="39" width="1" height="1" fill="#778a87"/>
<rect x="32" y="39" width="1" height="1" fill="#758a87"/>
<rect x="33" y="39" width="1" height="1" fill="#738a86"/>
<rect x="0" y="40" width="2" height="1" fill="#368396"/>
<rect x="2" y="40" width="1" height="1" fill="#368496"/>
<rect x="3" y="40" width="1" height="1" fill="#3a8595"/>
<rect x="4" y="40" width="1" height="1" fill="#3e8894"/>
<rect x="5" y="40" width="1" height="1" fill="#3d8b96"/>
<rect x="6" y="40" width="1" height="1" fill="#409199"/>
<rect x="7" y="40" width="1" height="1" fill="#45969b"/>
<rect x="8" y="40" width="1" height="1" fill="#499b9e"/>
<rect x="9" y="40" width="1" height="1" fill="#4da2a2"/>
<rect x="10" y="40" width="1" height="1" fill="#53a5a1"/>
<rect x="11" y="40" width="1" height="1" fill="#60a09a"/>
<rect x="12" y="40" width="1" height="1" fill="#659f97"/>
<rect x="13" y="40" width="1" height="1" fill="#709f96"/>
<rect x="14" y="40" width="1" height="1" fill="#749d95"/>
<rect x="15" y="40" width="1" height="1" fill="#729893"/>
<rect x="16" y="40" width="1" height="1" fill="#679592"/>
<rect x="17" y="40" width="1" height="1" fill="#689591"/>
<rect x="18" y="40" width="1" height="1" fill="#9c9e90"/>
<rect x="19" y="40" width="1" height="1" fill="#9e9e90"/>
<rect x="20" y="40" width="1" height="1" fill="#778e8b"/>
<rect x="21" y="40" width="1" height="1" fill="#6f8989"/>
<rect x="22" y="40" width="1" height="1" fill="#688386"/>
<rect x="23" y="40" width="1" height="1" fill="#567681"/>
<rect x="24" y="40" width="1" height="1" fill="#547580"/>
<rect x="25" y="40" width="1" height="1" fill="#52747f"/>
<rect x="26" y="40" width="1" height="1" fill="#53747f"/>
<rect x="27" y="40" width="1" height="1" fill="#627d84"/>
<rect x="28" y="40" width="1" height="1" fill="#6e8587"/>
<rect x="29" y="40" width="1" height="1" fill="#728788"/>
<rect x="30" y="40" width="2" height="1" fill="#748788"/>
<rect x="32" y="40" width="1" height="1" fill="#708687"/>
<rect x="33" y="40" width="1" height="1" fill="#6c8585"/>
<rect x="0" y="41" width="3" height="1" fill="#358296"/>
<rect x="3" y="41" width="1" height="1" fill="#398495"/>
<rect x="4" y="41" width="1" height="1" fill="#3c8794"/>
<rect x="5" y="41" width="1" height="1" fill="#3b8a96"/>
<rect x="6" y="41" width="1" height="1" fill="#3c909a"/>
<rect x="7" y="41" width="1" height="1" fill="#41969d"/>
<rect x="8" y="41" width="1" height="1" fill="#459da1"/>
<rect x="9" y="41" width="1" height="1" fill="#49a3a4"/>
<rect x="10" y="41" width="1" height="1" fill="#4ea6a4"/>
<rect x="11" y="41" width="1" height="1" fill="#5da59f"/>
<rect x="12" y="41" width="1" height="1" fill="#63a39b"/>
<rect x="13" y="41" width="1" height="1" fill="#66a198"/>
<rect x="14" y="41" width="1" height="1" fill="#6c9e96"/>
<rect x="15" y="41" width="1" height="1" fill="#669794"/>
<rect x="16" y="41" width="1" height="1" fill="#639592"/>
<rect x="17" y="41" width="1" height="1" fill="#659591"/>
<rect x="18" y="41" width="1" height="1" fill="#6d948f"/>
<rect x="19" y="41" width="1" height="1" fill="#7e918d"/>
<rect x="20" y="41" width="1" height="1" fill="#778d8b"/>
<rect x="21" y="41" width="1" height="1" fill="#6f8889"/>
<rect x="22" y="41" width="1" height="1" fill="#648186"/>
<rect x="23" y="41" width="1" height="1" fill="#5b7983"/>
<rect x="24" y="41" width="1" height="1" fill="#5a7882"/>
<rect x="25" y="41" width="1" height="1" fill="#5e7c82"/>
<rect x="26" y="41" width="1" height="1" fill="#6d8686"/>
<rect x="27" y="41" width="1" height="1" fill="#798b87"/>
<rect x="28" y="41" width="1" height="1" fill="#7d8c89"/>
<rect x="29" y="41" width="1" height="1" fill="#828f8b"/>
<rect x="30" y="41" width="1" height="1" fill="#86918c"/>
<rect x="31" y="41" width="1" height="1" fill="#8a948c"/>
<rect x="32" y="41" width="1" height="1" fill="#82908b"/>
<rect x="33" y="41" width="1" height="1" fill="#748988"/>
<rect x="0" y="42" width="2" height="1" fill="#337d96"/>
<rect x="2" y="42" width="1" height="1" fill="#347f96"/>
<rect x="3" y="42" width="1" height="1" fill="#378395"/>
<rect x="4" y="42" width="1" height="1" fill="#3b8695"/>
<rect x="5" y="42" width="1" height="1" fill="#3a8997"/>
<rect x="6" y="42" width="1" height="1" fill="#3c909a"/>
<rect x="7" y="42" width="1" height="1" fill="#41979d"/>
<rect x="8" y="42" width="1" height="1" fill="#459fa2"/>
<rect x="9" y="42" width="1" height="1" fill="#48a4a3"/>
<rect x="10" y="42" width="1" height="1" fill="#4da5a3"/>
<rect x="11" y="42" width="1" height="1" fill="#55a6a3"/>
<rect x="12" y="42" width="1" height="1" fill="#5fa59f"/>
<rect x="13" y="42" width="1" height="1" fill="#62a199"/>
<rect x="14" y="42" width="1" height="1" fill="#649d96"/>
<rect x="15" y="42" width="1" height="1" fill="#629693"/>
<rect x="16" y="42" width="1" height="1" fill="#619391"/>
<rect x="17" y="42" width="1" height="1" fill="#65918e"/>
<rect x="18" y="42" width="1" height="1" fill="#798f8d"/>
<rect x="19" y="42" width="1" height="1" fill="#82908c"/>
<rect x="20" y="42" width="1" height="1" fill="#7f908b"/>
<rect x="21" y="42" width="1" height="1" fill="#718988"/>
<rect x="22" y="42" width="1" height="1" fill="#617f84"/>
<rect x="23" y="42" width="1" height="1" fill="#5d7a84"/>
<rect x="24" y="42" width="1" height="1" fill="#648085"/>
<rect x="25" y="42" width="1" height="1" fill="#708887"/>
<rect x="26" y="42" width="1" height="1" fill="#90938b"/>
<rect x="27" y="42" width="1" height="1" fill="#92948b"/>
<rect x="28" y="42" width="1" height="1" fill="#93958d"/>
<rect x="29" y="42" width="1" height="1" fill="#989a8f"/>
<rect x="30" y="42" width="1" height="1" fill="#a3a493"/>
<rect x="31" y="42" width="1" height="1" fill="#b1af98"/>
<rect x="32" y="42" width="1" height="1" fill="#a8a692"/>
<rect x="33" y="42" width="1" height="1" fill="#7d8f8b"/>
<rect x="0" y="43" width="2" height="1" fill="#327b95"/>
<rect x="2" y="43" width="1" height="1" fill="#337d96"/>
<rect x="3" y="43" width="1" height="1" fill="#368296"/>
<rect x="4" y="43" width="1" height="1" fill="#378596"/>
<rect x="5" y="43" width="1" height="1" fill="#398997"/>
<rect x="6" y="43" width="1" height="1" fill="#3c909a"/>
<rect x="7" y="43" width="1" height="1" fill="#41979c"/>
<rect x="8" y="43" width="1" height="1" fill="#469fa0"/>
<rect x="9" y="43" width="1" height="1" fill="#49a3a2"/>
<rect x="10" y="43" width="1" height="1" fill="#4da5a2"/>
<rect x="11" y="43" width="1" height="1" fill="#53a6a2"/>
<rect x="12" y="43" width="1" height="1" fill="#58a5a0"/>
<rect x="13" y="43" width="1" height="1" fill="#609f99"/>
<rect x="14" y="43" width="1" height="1" fill="#629894"/>
<rect x="15" y="43" width="1" height="1" fill="#609492"/>
<rect x="16" y="43" width="1" height="1" fill="#5b8c8d"/>
<rect x="17" y="43" width="1" height="1" fill="#618b8c"/>
<rect x="18" y="43" width="1" height="1" fill="#768c8c"/>
<rect x="19" y="43" width="1" height="1" fill="#80908c"/>
<rect x="20" y="43" width="1" height="1" fill="#83938c"/>
<rect x="21" y="43" width="1" height="1" fill="#82938c"/>
<rect x="22" y="43" width="1" height="1" fill="#728787"/>
<rect x="23" y="43" width="1" height="1" fill="#698286"/>
<rect x="24" y="43" width="1" height="1" fill="#6b8487"/>
<rect x="25" y="43" width="1" height="1" fill="#738988"/>
<rect x="26" y="43" width="1" height="1" fill="#8e928b"/>
<rect x="27" y="43" width="1" height="1" fill="#93938c"/>
<rect x="28" y="43" width="1" height="1" fill="#94958d"/>
<rect x="29" y="43" width="1" height="1" fill="#9b9c90"/>
<rect x="30" y="43" width="1" height="1" fill="#adac96"/>
<rect x="31" y="43" width="1" height="1" fill="#bbb89c"/>
<rect x="32" y="43" width="1" height="1" fill="#aaa693"/>
<rect x="33" y="43" width="1" height="1" fill="#798e8c"/>
<rect x="0" y="44" width="1" height="1" fill="#327994"/>
<rect x="1" y="44" width="1" height="1" fill="#327993"/>
<rect x="2" y="44" width="1" height="1" fill="#337b94"/>
<rect x="3" y="44" width="1" height="1" fill="#358095"/>
<rect x="4" y="44" width="1" height="1" fill="#368496"/>
<rect x="5" y="44" width="1" height="1" fill="#388997"/>
<rect x="6" y="44" width="1" height="1" fill="#3c909a"/>
<rect x="7" y="44" width="1" height="1" fill="#41979c"/>
<rect x="8" y="44" width="1" height="1" fill="#479d9e"/>
<rect x="9" y="44" width="1" height="1" fill="#4ca09f"/>
<rect x="10" y="44" width="1" height="1" fill="#51a29f"/>
<rect x="11" y="44" width="1" height="1" fill="#57a19c"/>
<rect x="12" y="44" width="1" height="1" fill="#5ba09b"/>
<rect x="13" y="44" width="1" height="1" fill="#639694"/>
<rect x="14" y="44" width="1" height="1" fill="#639392"/>
<rect x="15" y="44" width="1" height="1" fill="#5f9090"/>
<rect x="16" y="44" width="1" height="1" fill="#57868b"/>
<rect x="17" y="44" width="1" height="1" fill="#568088"/>
<rect x="18" y="44" width="1" height="1" fill="#6e888b"/>
<rect x="19" y="44" width="1" height="1" fill="#798d8c"/>
<rect x="20" y="44" width="1" height="1" fill="#9d9e91"/>
<rect x="21" y="44" width="1" height="1" fill="#a2a093"/>
<rect x="22" y="44" width="1" height="1" fill="#989a90"/>
<rect x="23" y="44" width="1" height="1" fill="#8c928c"/>
<rect x="24" y="44" width="1" height="1" fill="#738889"/>
<rect x="25" y="44" width="1" height="1" fill="#6f8788"/>
<rect x="26" y="44" width="1" height="1" fill="#828e8b"/>
<rect x="27" y="44" width="1" height="1" fill="#8c918c"/>
<rect x="28" y="44" width="1" height="1" fill="#8e938d"/>
<rect x="29" y="44" width="1" height="1" fill="#969a90"/>
<rect x="30" y="44" width="1" height="1" fill="#a8a895"/>
<rect x="31" y="44" width="1" height="1" fill="#bdb99d"/>
<rect x="32" y="44" width="1" height="1" fill="#92988f"/>
<rect x="33" y="44" width="1" height="1" fill="#688788"/>
<rect x="0" y="45" width="3" height="1" fill="#327891"/>
<rect x="3" y="45" width="1" height="1" fill="#337c92"/>
<rect x="4" y="45" width="1" height="1" fill="#368395"/>
<rect x="5" y="45" width="1" height="1" fill="#388997"/>
<rect x="6" y="45" width="1" height="1" fill="#3c909a"/>
<rect x="7" y="45" width="1" height="1" fill="#42969b"/>
<rect x="8" y="45" width="1" height="1" fill="#4c9a9b"/>
<rect x="9" y="45" width="1" height="1" fill="#529b9b"/>
<rect x="10" y="45" width="1" height="1" fill="#5d9897"/>
<rect x="11" y="45" width="1" height="1" fill="#659794"/>
<rect x="12" y="45" width="1" height="1" fill="#6e9290"/>
<rect x="13" y="45" width="1" height="1" fill="#6d8b8c"/>
<rect x="14" y="45" width="1" height="1" fill="#65888b"/>
<rect x="15" y="45" width="1" height="1" fill="#5a8489"/>
<rect x="16" y="45" width="1" height="1" fill="#547a84"/>
<rect x="17" y="45" width="1" height="1" fill="#527884"/>
<rect x="18" y="45" width="1" height="1" fill="#668388"/>
<rect x="19" y="45" width="1" height="1" fill="#768b8c"/>
<rect x="20" y="45" width="1" height="1" fill="#9e9d92"/>
<rect x="21" y="45" width="1" height="1" fill="#a09f94"/>
<rect x="22" y="45" width="1" height="1" fill="#979b91"/>
<rect x="23" y="45" width="1" height="1" fill="#8c958e"/>
<rect x="24" y="45" width="1" height="1" fill="#7b8d8b"/>
<rect x="25" y="45" width="1" height="1" fill="#788d8b"/>
<rect x="26" y="45" width="1" height="1" fill="#7c8f8c"/>
<rect x="27" y="45" width="1" height="1" fill="#80918c"/>
<rect x="28" y="45" width="1" height="1" fill="#84928c"/>
<rect x="29" y="45" width="1" height="1" fill="#8c958d"/>
<rect x="30" y="45" width="1" height="1" fill="#9d9e90"/>
<rect x="31" y="45" width="1" height="1" fill="#a3a291"/>
<rect x="32" y="45" width="1" height="1" fill="#90958d"/>
<rect x="33" y="45" width="1" height="1" fill="#618286"/>
<rect x="0" y="46" width="3" height="1" fill="#327790"/>
<rect x="3" y="46" width="1" height="1" fill="#337a91"/>
<rect x="4" y="46" width="1" height="1" fill="#358295"/>
<rect x="5" y="46" width="1" height="1" fill="#388997"/>
<rect x="6" y="46" width="1" height="1" fill="#3c909a"/>
<rect x="7" y="46" width="1" height="1" fill="#43959b"/>
<rect x="8" y="46" width="1" height="1" fill="#4e979a"/>
<rect x="9" y="46" width="1" height="1" fill="#5e9595"/>
<rect x="10" y="46" width="1" height="1" fill="#7a908f"/>
<rect x="11" y="46" width="1" height="1" fill="#7b8c8b"/>
<rect x="12" y="46" width="1" height="1" fill="#738989"/>
<rect x="13" y="46" width="1" height="1" fill="#6d8588"/>
<rect x="14" y="46" width="1" height="1" fill="#638087"/>
<rect x="15" y="46" width="1" height="1" fill="#5c7c85"/>
<rect x="16" y="46" width="1" height="1" fill="#557782"/>
<rect x="17" y="46" width="1" height="1" fill="#537682"/>
<rect x="18" y="46" width="1" height="1" fill="#668287"/>
<rect x="19" y="46" width="1" height="1" fill="#788c8b"/>
<rect x="20" y="46" width="1" height="1" fill="#989b92"/>
<rect x="21" y="46" width="1" height="1" fill="#999d93"/>
<rect x="22" y="46" width="1" height="1" fill="#929b91"/>
<rect x="23" y="46" width="1" height="1" fill="#8b9790"/>
<rect x="24" y="46" width="1" height="1" fill="#81938e"/>
<rect x="25" y="46" width="1" height="1" fill="#7d918d"/>
<rect x="26" y="46" width="1" height="1" fill="#7b918c"/>
<rect x="27" y="46" width="1" height="1" fill="#7c918c"/>
<rect x="28" y="46" width="1" height="1" fill="#7f918c"/>
<rect x="29" y="46" width="1" height="1" fill="#85928c"/>
<rect x="30" y="46" width="1" height="1" fill="#8b938c"/>
<rect x="31" y="46" width="1" height="1" fill="#8d938c"/>
<rect x="32" y="46" width="1" height="1" fill="#788888"/>
<rect x="33" y="46" width="1" height="1" fill="#597780"/>
<rect x="0" y="47" width="3" height="1" fill="#327790"/>
<rect x="3" y="47" width="1" height="1" fill="#337a91"/>
<rect x="4" y="47" width="1" height="1" fill="#358295"/>
<rect x="5" y="47" width="1" height="1" fill="#388997"/>
<rect x="6" y="47" width="1" height="1" fill="#3c909a"/>
<rect x="7" y="47" width="1" height="1" fill="#43959b"/>
<rect x="8" y="47" width="1" height="1" fill="#4f969a"/>
<rect x="9" y="47" width="1" height="1" fill="#7c9490"/>
<rect x="10" y="47" width="1" height="1" fill="#858f8c"/>
<rect x="11" y="47" width="1" height="1" fill="#7e8988"/>
<rect x="12" y="47" width="1" height="1" fill="#6e8186"/>
<rect x="13" y="47" width="1" height="1" fill="#667e86"/>
<rect x="14" y="47" width="1" height="1" fill="#637e87"/>
<rect x="15" y="47" width="1" height="1" fill="#688287"/>
<rect x="16" y="47" width="1" height="1" fill="#6f8588"/>
<rect x="17" y="47" width="1" height="1" fill="#597a83"/>
<rect x="18" y="47" width="1" height="1" fill="#708788"/>
<rect x="19" y="47" width="1" height="1" fill="#85908c"/>
<rect x="20" y="47" width="1" height="1" fill="#929890"/>
<rect x="21" y="47" width="1" height="1" fill="#929b91"/>
<rect x="22" y="47" width="1" height="1" fill="#8f9b91"/>
<rect x="23" y="47" width="1" height="1" fill="#8c9c91"/>
<rect x="24" y="47" width="1" height="1" fill="#889a90"/>
<rect x="25" y="47" width="1" height="1" fill="#83978f"/>
<rect x="26" y="47" width="1" height="1" fill="#80948d"/>
<rect x="27" y="47" width="1" height="1" fill="#80928c"/>
<rect x="28" y="47" width="1" height="1" fill="#83928c"/>
<rect x="29" y="47" width="1" height="1" fill="#85928c"/>
<rect x="30" y="47" width="1" height="1" fill="#87918c"/>
<rect x="31" y="47" width="1" height="1" fill="#828f8b"/>
<rect x="32" y="47" width="1" height="1" fill="#6c8386"/>
<rect x="33" y="47" width="1" height="1" fill="#5a7880"/>
<rect x="0" y="48" width="3" height="1" fill="#327790"/>
<rect x="3" y="48" width="1" height="1" fill="#337a91"/>
<rect x="4" y="48" width="1" height="1" fill="#358295"/>
<rect x="5" y="48" width="1" height="1" fill="#388997"/>
<rect x="6" y="48" width="1" height="1" fill="#3c909a"/>
<rect x="7" y="48" width="1" height="1" fill="#42959b"/>
<rect x="8" y="48" width="1" height="1" fill="#6a9b97"/>
<rect x="9" y="48" width="1" height="1" fill="#a2a598"/>
<rect x="10" y="48" width="1" height="1" fill="#878e8a"/>
<rect x="11" y="48" width="1" height="1" fill="#718286"/>
<rect x="12" y="48" width="1" height="1" fill="#667d85"/>
<rect x="13" y="48" width="1" height="1" fill="#627c85"/>
<rect x="14" y="48" width="1" height="1" fill="#647e86"/>
<rect x="15" y="48" width="1" height="1" fill="#728789"/>
<rect x="16" y="48" width="1" height="1" fill="#7f8b8a"/>
<rect x="17" y="48" width="1" height="1" fill="#898e8c"/>
<rect x="18" y="48" width="1" height="1" fill="#91928d"/>
<rect x="19" y="48" width="1" height="1" fill="#92948d"/>
<rect x="20" y="48" width="1" height="1" fill="#8b948d"/>
<rect x="21" y="48" width="1" height="1" fill="#89968e"/>
<rect x="22" y="48" width="1" height="1" fill="#8a9a8f"/>
<rect x="23" y="48" width="1" height="1" fill="#8c9e90"/>
<rect x="24" y="48" width="1" height="1" fill="#8c9f90"/>
<rect x="25" y="48" width="1" height="1" fill="#8a9b90"/>
<rect x="26" y="48" width="1" height="1" fill="#89988e"/>
<rect x="27" y="48" width="1" height="1" fill="#8b968d"/>
<rect x="28" y="48" width="1" height="1" fill="#8a958c"/>
<rect x="29" y="48" width="1" height="1" fill="#89948c"/>
<rect x="30" y="48" width="1" height="1" fill="#87938c"/>
<rect x="31" y="48" width="1" height="1" fill="#81908b"/>
<rect x="32" y="48" width="1" height="1" fill="#708888"/>
<rect x="33" y="48" width="1" height="1" fill="#607f83"/>
<rect x="0" y="49" width="3" height="1" fill="#327790"/>
<rect x="3" y="49" width="1" height="1" fill="#337a91"/>
<rect x="4" y="49" width="1" height="1" fill="#358295"/>
<rect x="5" y="49" width="1" height="1" fill="#388997"/>
<rect x="6" y="49" width="1" height="1" fill="#3c909a"/>
<rect x="7" y="49" width="1" height="1" fill="#42959b"/>
<rect x="8" y="49" width="1" height="1" fill="#649c99"/>
<rect x="9" y="49" width="1" height="1" fill="#929d94"/>
<rect x="10" y="49" width="1" height="1" fill="#818d89"/>
<rect x="11" y="49" width="1" height="1" fill="#728688"/>
<rect x="12" y="49" width="1" height="1" fill="#667f86"/>
<rect x="13" y="49" width="1" height="1" fill="#5f7b85"/>
<rect x="14" y="49" width="1" height="1" fill="#93958c"/>
<rect x="15" y="49" width="1" height="1" fill="#95988d"/>
<rect x="16" y="49" width="1" height="1" fill="#a2a192"/>
<rect x="17" y="49" width="1" height="1" fill="#8b938d"/>
<rect x="18" y="49" width="1" height="1" fill="#96998f"/>
<rect x="19" y="49" width="1" height="1" fill="#98998f"/>
<rect x="20" y="49" width="1" height="1" fill="#8b958c"/>
<rect x="21" y="49" width="1" height="1" fill="#7e928b"/>
<rect x="22" y="49" width="1" height="1" fill="#7d938c"/>
<rect x="23" y="49" width="1" height="1" fill="#81968d"/>
<rect x="24" y="49" width="1" height="1" fill="#85988d"/>
<rect x="25" y="49" width="1" height="1" fill="#86978d"/>
<rect x="26" y="49" width="1" height="1" fill="#89968d"/>
<rect x="27" y="49" width="2" height="1" fill="#8a958c"/>
<rect x="29" y="49" width="1" height="1" fill="#89948c"/>
<rect x="30" y="49" width="1" height="1" fill="#87938c"/>
<rect x="31" y="49" width="1" height="1" fill="#82918c"/>
<rect x="32" y="49" width="1" height="1" fill="#798d8b"/>
<rect x="33" y="49" width="1" height="1" fill="#748c8b"/>
<rect x="0" y="50" width="3" height="1" fill="#327790"/>
<rect x="3" y="50" width="1" height="1" fill="#337a91"/>
<rect x="4" y="50" width="1" height="1" fill="#358295"/>
<rect x="5" y="50" width="1" height="1" fill="#388897"/>
<rect x="6" y="50" width="1" height="1" fill="#3e9099"/>
<rect x="7" y="50" width="1" height="1" fill="#44959a"/>
<rect x="8" y="50" width="1" height="1" fill="#559798"/>
<rect x="9" y="50" width="1" height="1" fill="#639695"/>
<rect x="10" y="50" width="1" height="1" fill="#728f8d"/>
<rect x="11" y="50" width="1" height="1" fill="#72898a"/>
<rect x="12" y="50" width="1" height="1" fill="#728688"/>
<rect x="13" y="50" width="1" height="1" fill="#818c89"/>
<rect x="14" y="50" width="1" height="1" fill="#a19d8f"/>
<rect x="15" y="50" width="1" height="1" fill="#a5a292"/>
<rect x="16" y="50" width="1" height="1" fill="#a4a393"/>
<rect x="17" y="50" width="1" height="1" fill="#949b90"/>
<rect x="18" y="50" width="1" height="1" fill="#9da091"/>
<rect x="19" y="50" width="1" height="1" fill="#a4a493"/>
<rect x="20" y="50" width="1" height="1" fill="#88968c"/>
<rect x="21" y="50" width="1" height="1" fill="#77908a"/>
<rect x="22" y="50" width="1" height="1" fill="#708f89"/>
<rect x="23" y="50" width="1" height="1" fill="#6d8e89"/>
<rect x="24" y="50" width="1" height="1" fill="#73908a"/>
<rect x="25" y="50" width="1" height="1" fill="#78918b"/>
<rect x="26" y="50" width="1" height="1" fill="#7d918b"/>
<rect x="27" y="50" width="1" height="1" fill="#82918c"/>
<rect x="28" y="50" width="1" height="1" fill="#83928c"/>
<rect x="29" y="50" width="1" height="1" fill="#85938c"/>
<rect x="30" y="50" width="1" height="1" fill="#82928c"/>
<rect x="31" y="50" width="1" height="1" fill="#7e908c"/>
<rect x="32" y="50" width="1" height="1" fill="#7d908c"/>
<rect x="33" y="50" width="1" height="1" fill="#7c908c"/>
<rect x="0" y="51" width="1" height="1" fill="#30748f"/>
<rect x="1" y="51" width="1" height="1" fill="#31758f"/>
<rect x="2" y="51" width="1" height="1" fill="#327690"/>
<rect x="3" y="51" width="1" height="1" fill="#337a91"/>
<rect x="4" y="51" width="1" height="1" fill="#358195"/>
<rect x="5" y="51" width="1" height="1" fill="#388797"/>
<rect x="6" y="51" width="1" height="1" fill="#429199"/>
<rect x="7" y="51" width="1" height="1" fill="#489599"/>
<rect x="8" y="51" width="1" height="1" fill="#549797"/>
<rect x="9" y="51" width="1" height="1" fill="#6c9894"/>
<rect x="10" y="51" width="1" height="1" fill="#809d94"/>
<rect x="11" y="51" width="1" height="1" fill="#a7a796"/>
<rect x="12" y="51" width="1" height="1" fill="#aba896"/>
<rect x="13" y="51" width="1" height="1" fill="#aaa694"/>
<rect x="14" y="51" width="1" height="1" fill="#a8a493"/>
<rect x="15" y="51" width="1" height="1" fill="#a6a393"/>
<rect x="16" y="51" width="1" height="1" fill="#a2a193"/>
<rect x="17" y="51" width="1" height="1" fill="#8f978d"/>
<rect x="18" y="51" width="1" height="1" fill="#89968d"/>
<rect x="19" y="51" width="1" height="1" fill="#87968d"/>
<rect x="20" y="51" width="1" height="1" fill="#83968c"/>
<rect x="21" y="51" width="1" height="1" fill="#79938b"/>
<rect x="22" y="51" width="1" height="1" fill="#6c8e89"/>
<rect x="23" y="51" width="1" height="1" fill="#668b88"/>
<rect x="24" y="51" width="1" height="1" fill="#658a87"/>
<rect x="25" y="51" width="1" height="1" fill="#678a87"/>
<rect x="26" y="51" width="1" height="1" fill="#6e8b88"/>
<rect x="27" y="51" width="1" height="1" fill="#7b8e8b"/>
<rect x="28" y="51" width="1" height="1" fill="#84918c"/>
<rect x="29" y="51" width="1" height="1" fill="#85928c"/>
<rect x="30" y="51" width="1" height="1" fill="#7b908c"/>
<rect x="31" y="51" width="1" height="1" fill="#798e8c"/>
<rect x="32" y="51" width="1" height="1" fill="#7f908c"/>
<rect x="33" y="51" width="1" height="1" fill="#81918c"/>
<rect x="0" y="52" width="1" height="1" fill="#2b6889"/>
<rect x="1" y="52" width="1" height="1" fill="#2c6b8b"/>
<rect x="2" y="52" width="1" height="1" fill="#31758f"/>
<rect x="3" y="52" width="1" height="1" fill="#337991"/>
<rect x="4" y="52" width="1" height="1" fill="#358094"/>
<rect x="5" y="52" width="1" height="1" fill="#398596"/>
<rect x="6" y="52" width="1" height="1" fill="#439098"/>
<rect x="7" y="52" width="1" height="1" fill="#499498"/>
<rect x="8" y="52" width="1" height="1" fill="#559797"/>
<rect x="9" y="52" width="1" height="1" fill="#639b96"/>
<rect x="10" y="52" width="1" height="1" fill="#91a396"/>
<rect x="11" y="52" width="1" height="1" fill="#b3b29c"/>
<rect x="12" y="52" width="1" height="1" fill="#b8b49c"/>
<rect x="13" y="52" width="1" height="1" fill="#bdb59b"/>
<rect x="14" y="52" width="1" height="1" fill="#b6af98"/>
<rect x="15" y="52" width="1" height="1" fill="#9b9d91"/>
<rect x="16" y="52" width="1" height="1" fill="#93978e"/>
<rect x="17" y="52" width="1" height="1" fill="#8b938c"/>
<rect x="18" y="52" width="1" height="1" fill="#87938c"/>
<rect x="19" y="52" width="1" height="1" fill="#86948c"/>
<rect x="20" y="52" width="1" height="1" fill="#8b978d"/>
<rect x="21" y="52" width="1" height="1" fill="#83958c"/>
<rect x="22" y="52" width="1" height="1" fill="#718e89"/>
<rect x="23" y="52" width="1" height="1" fill="#648787"/>
<rect x="24" y="52" width="1" height="1" fill="#5f8385"/>
<rect x="25" y="52" width="1" height="1" fill="#618384"/>
<rect x="26" y="52" width="1" height="1" fill="#6d8787"/>
<rect x="27" y="52" width="1" height="1" fill="#7d8c89"/>
<rect x="28" y="52" width="1" height="1" fill="#868f8b"/>
<rect x="29" y="52" width="1" height="1" fill="#808f8b"/>
<rect x="30" y="52" width="1" height="1" fill="#688786"/>
<rect x="31" y="52" width="1" height="1" fill="#7a8e8b"/>
<rect x="32" y="52" width="1" height="1" fill="#82918c"/>
<rect x="33" y="52" width="1" height="1" fill="#85928c"/>
<rect x="0" y="53" width="1" height="1" fill="#296588"/>
<rect x="1" y="53" width="1" height="1" fill="#2b6889"/>
<rect x="2" y="53" width="1" height="1" fill="#30748f"/>
<rect x="3" y="53" width="1" height="1" fill="#327890"/>
<rect x="4" y="53" width="1" height="1" fill="#337b92"/>
<rect x="5" y="53" width="1" height="1" fill="#388395"/>
<rect x="6" y="53" width="1" height="1" fill="#408b96"/>
<rect x="7" y="53" width="1" height="1" fill="#489298"/>
<rect x="8" y="53" width="1" height="1" fill="#529697"/>
<rect x="9" y="53" width="1" height="1" fill="#5e9996"/>
<rect x="10" y="53" width="1" height="1" fill="#80a196"/>
<rect x="11" y="53" width="1" height="1" fill="#94a597"/>
<rect x="12" y="53" width="1" height="1" fill="#bab59b"/>
<rect x="13" y="53" width="1" height="1" fill="#beb59a"/>
<rect x="14" y="53" width="1" height="1" fill="#a7a695"/>
<rect x="15" y="53" width="1" height="1" fill="#959b91"/>
<rect x="16" y="53" width="1" height="1" fill="#90958e"/>
<rect x="17" y="53" width="1" height="1" fill="#88908a"/>
<rect x="18" y="53" width="1" height="1" fill="#8c938b"/>
<rect x="19" y="53" width="1" height="1" fill="#90968c"/>
<rect x="20" y="53" width="1" height="1" fill="#93978d"/>
<rect x="21" y="53" width="1" height="1" fill="#92978c"/>
<rect x="22" y="53" width="1" height="1" fill="#8f958c"/>
<rect x="23" y="53" width="1" height="1" fill="#86938c"/>
<rect x="24" y="53" width="1" height="1" fill="#85928c"/>
<rect x="25" y="53" width="1" height="1" fill="#83928c"/>
<rect x="26" y="53" width="1" height="1" fill="#818f8a"/>
<rect x="27" y="53" width="1" height="1" fill="#808c89"/>
<rect x="28" y="53" width="1" height="1" fill="#7f8b89"/>
<rect x="29" y="53" width="1" height="1" fill="#7b8a89"/>
<rect x="30" y="53" width="1" height="1" fill="#758a89"/>
<rect x="31" y="53" width="1" height="1" fill="#81908b"/>
<rect x="32" y="53" width="1" height="1" fill="#8c948c"/>
<rect x="33" y="53" width="1" height="1" fill="#8f958c"/>
<rect x="0" y="54" width="1" height="1" fill="#296588"/>
<rect x="1" y="54" width="1" height="1" fill="#2a6789"/>
<rect x="2" y="54" width="1" height="1" fill="#30728e"/>
<rect x="3" y="54" width="1" height="1" fill="#327690"/>
<rect x="4" y="54" width="1" height="1" fill="#337991"/>
<rect x="5" y="54" width="1" height="1" fill="#378093"/>
<rect x="6" y="54" width="1" height="1" fill="#3e8895"/>
<rect x="7" y="54" width="1" height="1" fill="#459097"/>
<rect x="8" y="54" width="1" height="1" fill="#4a9498"/>
<rect x="9" y="54" width="1" height="1" fill="#549797"/>
<rect x="10" y="54" width="1" height="1" fill="#629d97"/>
<rect x="11" y="54" width="1" height="1" fill="#72a097"/>
<rect x="12" y="54" width="1" height="1" fill="#94a496"/>
<rect x="13" y="54" width="1" height="1" fill="#b6b197"/>
<rect x="14" y="54" width="1" height="1" fill="#98a295"/>
<rect x="15" y="54" width="1" height="1" fill="#8f9c93"/>
<rect x="16" y="54" width="1" height="1" fill="#929990"/>
<rect x="17" y="54" width="1" height="1" fill="#868e8a"/>
<rect x="18" y="54" width="1" height="1" fill="#8c928b"/>
<rect x="19" y="54" width="1" height="1" fill="#90958c"/>
<rect x="20" y="54" width="2" height="1" fill="#99978c"/>
<rect x="22" y="54" width="1" height="1" fill="#90958c"/>
<rect x="23" y="54" width="1" height="1" fill="#90968d"/>
<rect x="24" y="54" width="1" height="1" fill="#93998f"/>
<rect x="25" y="54" width="1" height="1" fill="#8f978e"/>
<rect x="26" y="54" width="1" height="1" fill="#87928c"/>
<rect x="27" y="54" width="1" height="1" fill="#838e8a"/>
<rect x="28" y="54" width="1" height="1" fill="#728889"/>
<rect x="29" y="54" width="1" height="1" fill="#70888a"/>
<rect x="30" y="54" width="1" height="1" fill="#788b8a"/>
<rect x="31" y="54" width="1" height="1" fill="#85928c"/>
<rect x="32" y="54" width="1" height="1" fill="#8d958c"/>
<rect x="33" y="54" width="1" height="1" fill="#8f958c"/>
<rect x="0" y="55" width="1" height="1" fill="#296588"/>
<rect x="1" y="55" width="1" height="1" fill="#296688"/>
<rect x="2" y="55" width="1" height="1" fill="#2b6a8a"/>
<rect x="3" y="55" width="1" height="1" fill="#31758f"/>
<rect x="4" y="55" width="1" height="1" fill="#327890"/>
<rect x="5" y="55" width="1" height="1" fill="#347b92"/>
<rect x="6" y="55" width="1" height="1" fill="#3a8494"/>
<rect x="7" y="55" width="1" height="1" fill="#418b96"/>
<rect x="8" y="55" width="1" height="1" fill="#469298"/>
<rect x="9" y="55" width="1" height="1" fill="#4a9599"/>
<rect x="10" y="55" width="1" height="1" fill="#549998"/>
<rect x="11" y="55" width="1" height="1" fill="#619d97"/>
<rect x="12" y="55" width="1" height="1" fill="#709f97"/>
<rect x="13" y="55" width="1" height="1" fill="#94a396"/>
<rect x="14" y="55" width="1" height="1" fill="#94a296"/>
<rect x="15" y="55" width="1" height="1" fill="#97a195"/>
<rect x="16" y="55" width="1" height="1" fill="#9fa294"/>
<rect x="17" y="55" width="1" height="1" fill="#838c89"/>
<rect x="18" y="55" width="1" height="1" fill="#818d89"/>
<rect x="19" y="55" width="1" height="1" fill="#82918c"/>
<rect x="20" y="55" width="2" height="1" fill="#82928d"/>
<rect x="22" y="55" width="1" height="1" fill="#85928d"/>
<rect x="23" y="55" width="1" height="1" fill="#8f968d"/>
<rect x="24" y="55" width="1" height="1" fill="#a0a092"/>
<rect x="25" y="55" width="1" height="1" fill="#a2a193"/>
<rect x="26" y="55" width="1" height="1" fill="#989b90"/>
<rect x="27" y="55" width="1" height="1" fill="#93978e"/>
<rect x="28" y="55" width="1" height="1" fill="#93988d"/>
<rect x="29" y="55" width="1" height="1" fill="#92988e"/>
<rect x="30" y="55" width="1" height="1" fill="#90978e"/>
<rect x="31" y="55" width="1" height="1" fill="#8f968d"/>
<rect x="32" y="55" width="1" height="1" fill="#89948c"/>
<rect x="33" y="55" width="1" height="1" fill="#87938c"/>
<rect x="0" y="56" width="2" height="1" fill="#296588"/>
<rect x="2" y="56" width="1" height="1" fill="#2a6789"/>
<rect x="3" y="56" width="1" height="1" fill="#30728e"/>
<rect x="4" y="56" width="1" height="1" fill="#327690"/>
<rect x="5" y="56" width="1" height="1" fill="#337991"/>
<rect x="6" y="56" width="1" height="1" fill="#378093"/>
<rect x="7" y="56" width="1" height="1" fill="#3e8895"/>
<rect x="8" y="56" width="1" height="1" fill="#448f97"/>
<rect x="9" y="56" width="1" height="1" fill="#469298"/>
<rect x="10" y="56" width="1" height="1" fill="#4a9498"/>
<rect x="11" y="56" width="1" height="1" fill="#529798"/>
<rect x="12" y="56" width="1" height="1" fill="#569797"/>
<rect x="13" y="56" width="1" height="1" fill="#619795"/>
<rect x="14" y="56" width="1" height="1" fill="#739893"/>
<rect x="15" y="56" width="1" height="1" fill="#99a395"/>
<rect x="16" y="56" width="1" height="1" fill="#a1a394"/>
<rect x="17" y="56" width="1" height="1" fill="#838d89"/>
<rect x="18" y="56" width="1" height="1" fill="#798b8a"/>
<rect x="19" y="56" width="1" height="1" fill="#6b8b8f"/>
<rect x="20" y="56" width="1" height="1" fill="#688c91"/>
<rect x="21" y="56" width="1" height="1" fill="#6c8d91"/>
<rect x="22" y="56" width="1" height="1" fill="#788f8f"/>
<rect x="23" y="56" width="1" height="1" fill="#85938d"/>
<rect x="24" y="56" width="1" height="1" fill="#95998f"/>
<rect x="25" y="56" width="1" height="1" fill="#a6a493"/>
<rect x="26" y="56" width="1" height="1" fill="#a8a594"/>
<rect x="27" y="56" width="1" height="1" fill="#a7a594"/>
<rect x="28" y="56" width="1" height="1" fill="#a3a494"/>
<rect x="29" y="56" width="1" height="1" fill="#989f92"/>
<rect x="30" y="56" width="1" height="1" fill="#969b91"/>
<rect x="31" y="56" width="1" height="1" fill="#959990"/>
<rect x="32" y="56" width="1" height="1" fill="#8e978e"/>
<rect x="33" y="56" width="1" height="1" fill="#86938c"/>
<rect x="0" y="57" width="2" height="1" fill="#296588"/>
<rect x="2" y="57" width="1" height="1" fill="#296688"/>
<rect x="3" y="57" width="1" height="1" fill="#2b6a8a"/>
<rect x="4" y="57" width="1" height="1" fill="#31758f"/>
<rect x="5" y="57" width="1" height="1" fill="#327890"/>
<rect x="6" y="57" width="1" height="1" fill="#347b92"/>
<rect x="7" y="57" width="1" height="1" fill="#3a8494"/>
<rect x="8" y="57" width="1" height="1" fill="#418995"/>
<rect x="9" y="57" width="1" height="1" fill="#438c95"/>
<rect x="10" y="57" width="1" height="1" fill="#469097"/>
<rect x="11" y="57" width="1" height="1" fill="#489297"/>
<rect x="12" y="57" width="1" height="1" fill="#4c9397"/>
<rect x="13" y="57" width="1" height="1" fill="#579596"/>
<rect x="14" y="57" width="1" height="1" fill="#629694"/>
<rect x="15" y="57" width="1" height="1" fill="#99a395"/>
<rect x="16" y="57" width="1" height="1" fill="#a3a494"/>
<rect x="17" y="57" width="1" height="1" fill="#959a8f"/>
<rect x="18" y="57" width="1" height="1" fill="#99a093"/>
<rect x="19" y="57" width="1" height="1" fill="#a7a695"/>
<rect x="20" y="57" width="1" height="1" fill="#a8a593"/>
<rect x="21" y="57" width="1" height="1" fill="#92988f"/>
<rect x="22" y="57" width="1" height="1" fill="#85938d"/>
<rect x="23" y="57" width="1" height="1" fill="#87948e"/>
<rect x="24" y="57" width="1" height="1" fill="#959b91"/>
<rect x="25" y="57" width="1" height="1" fill="#a8a695"/>
<rect x="26" y="57" width="1" height="1" fill="#b6b29a"/>
<rect x="27" y="57" width="1" height="1" fill="#b9b79d"/>
<rect x="28" y="57" width="1" height="1" fill="#c4c3a4"/>
<rect x="29" y="57" width="1" height="1" fill="#c4c4a4"/>
<rect x="30" y="57" width="1" height="1" fill="#b9b9a0"/>
<rect x="31" y="57" width="1" height="1" fill="#b8b59e"/>
<rect x="32" y="57" width="1" height="1" fill="#b6b49a"/>
<rect x="33" y="57" width="1" height="1" fill="#a7ae97"/>
<rect x="0" y="58" width="3" height="1" fill="#296588"/>
<rect x="3" y="58" width="1" height="1" fill="#2a6789"/>
<rect x="4" y="58" width="1" height="1" fill="#30728e"/>
<rect x="5" y="58" width="1" height="1" fill="#327690"/>
<rect x="6" y="58" width="1" height="1" fill="#337991"/>
<rect x="7" y="58" width="1" height="1" fill="#378093"/>
<rect x="8" y="58" width="1" height="1" fill="#3d8694"/>
<rect x="9" y="58" width="1" height="1" fill="#408894"/>
<rect x="10" y="58" width="1" height="1" fill="#428a94"/>
<rect x="11" y="58" width="1" height="1" fill="#438b94"/>
<rect x="12" y="58" width="1" height="1" fill="#458c95"/>
<rect x="13" y="58" width="1" height="1" fill="#539396"/>
<rect x="14" y="58" width="1" height="1" fill="#5e9695"/>
<rect x="15" y="58" width="1" height="1" fill="#97a395"/>
<rect x="16" y="58" width="1" height="1" fill="#b3ae97"/>
<rect x="17" y="58" width="1" height="1" fill="#aaa795"/>
<rect x="18" y="58" width="1" height="1" fill="#bfb59c"/>
<rect x="19" y="58" width="1" height="1" fill="#cebe9e"/>
<rect x="20" y="58" width="1" height="1" fill="#bfb298"/>
<rect x="21" y="58" width="1" height="1" fill="#a2a193"/>
<rect x="22" y="58" width="1" height="1" fill="#949990"/>
<rect x="23" y="58" width="1" height="1" fill="#91998f"/>
<rect x="24" y="58" width="1" height="1" fill="#98a093"/>
<rect x="25" y="58" width="1" height="1" fill="#b3b39a"/>
<rect x="26" y="58" width="1" height="1" fill="#bdbea1"/>
<rect x="27" y="58" width="1" height="1" fill="#cfceaa"/>
<rect x="28" y="58" width="1" height="1" fill="#d0d0ab"/>
<rect x="29" y="58" width="1" height="1" fill="#d2d2ac"/>
<rect x="30" y="58" width="1" height="1" fill="#dbdab2"/>
<rect x="31" y="58" width="1" height="1" fill="#e4deb4"/>
<rect x="32" y="58" width="1" height="1" fill="#e1d9b0"/>
<rect x="33" y="58" width="1" height="1" fill="#d7d2ac"/>
<rect x="0" y="59" width="3" height="1" fill="#296488"/>
<rect x="3" y="59" width="1" height="1" fill="#296688"/>
<rect x="4" y="59" width="1" height="1" fill="#2b6a8a"/>
<rect x="5" y="59" width="1" height="1" fill="#31758f"/>
<rect x="6" y="59" width="1" height="1" fill="#327890"/>
<rect x="7" y="59" width="1" height="1" fill="#347a91"/>
<rect x="8" y="59" width="1" height="1" fill="#388193"/>
<rect x="9" y="59" width="1" height="1" fill="#3c8393"/>
<rect x="10" y="59" width="1" height="1" fill="#418591"/>
<rect x="11" y="59" width="1" height="1" fill="#428792"/>
<rect x="12" y="59" width="1" height="1" fill="#448893"/>
<rect x="13" y="59" width="1" height="1" fill="#498b94"/>
<rect x="14" y="59" width="1" height="1" fill="#599495"/>
<rect x="15" y="59" width="1" height="1" fill="#829a93"/>
<rect x="16" y="59" width="1" height="1" fill="#b4af97"/>
<rect x="17" y="59" width="1" height="1" fill="#a9a795"/>
<rect x="18" y="59" width="1" height="1" fill="#b1aa96"/>
<rect x="19" y="59" width="1" height="1" fill="#b4ab96"/>
<rect x="20" y="59" width="1" height="1" fill="#a5a594"/>
<rect x="21" y="59" width="1" height="1" fill="#999f93"/>
<rect x="22" y="59" width="1" height="1" fill="#979c91"/>
<rect x="23" y="59" width="1" height="1" fill="#959c90"/>
<rect x="24" y="59" width="1" height="1" fill="#97a496"/>
<rect x="25" y="59" width="1" height="1" fill="#a4b09b"/>
<rect x="26" y="59" width="1" height="1" fill="#aab9a3"/>
<rect x="27" y="59" width="1" height="1" fill="#b0c2aa"/>
<rect x="28" y="59" width="1" height="1" fill="#afc4ad"/>
<rect x="29" y="59" width="1" height="1" fill="#a7c3af"/>
<rect x="30" y="59" width="1" height="1" fill="#a5c3b0"/>
<rect x="31" y="59" width="1" height="1" fill="#a7c2af"/>
<rect x="32" y="59" width="1" height="1" fill="#aebeab"/>
<rect x="33" y="59" width="1" height="1" fill="#b7baa4"/>
<rect x="0" y="60" width="1" height="1" fill="#296388"/>
<rect x="1" y="60" width="1" height="1" fill="#296288"/>
<rect x="2" y="60" width="1" height="1" fill="#296488"/>
<rect x="3" y="60" width="1" height="1" fill="#296588"/>
<rect x="4" y="60" width="1" height="1" fill="#2b6889"/>
<rect x="5" y="60" width="1" height="1" fill="#30748f"/>
<rect x="6" y="60" width="1" height="1" fill="#327790"/>
<rect x="7" y="60" width="1" height="1" fill="#327890"/>
<rect x="8" y="60" width="1" height="1" fill="#357a91"/>
<rect x="9" y="60" width="1" height="1" fill="#3f7d8e"/>
<rect x="10" y="60" width="1" height="1" fill="#43808d"/>
<rect x="11" y="60" width="1" height="1" fill="#43858f"/>
<rect x="12" y="60" width="1" height="1" fill="#458892"/>
<rect x="13" y="60" width="1" height="1" fill="#518b93"/>
<rect x="14" y="60" width="1" height="1" fill="#609393"/>
<rect x="15" y="60" width="1" height="1" fill="#819993"/>
<rect x="16" y="60" width="1" height="1" fill="#95a195"/>
<rect x="17" y="60" width="1" height="1" fill="#9aa195"/>
<rect x="18" y="60" width="1" height="1" fill="#949e93"/>
<rect x="19" y="60" width="1" height="1" fill="#8d9d92"/>
<rect x="20" y="60" width="1" height="1" fill="#91a094"/>
<rect x="21" y="60" width="1" height="1" fill="#97a194"/>
<rect x="22" y="60" width="1" height="1" fill="#9aa192"/>
<rect x="23" y="60" width="1" height="1" fill="#99a393"/>
<rect x="24" y="60" width="1" height="1" fill="#94ab9e"/>
<rect x="25" y="60" width="1" height="1" fill="#6ab6b0"/>
<rect x="26" y="60" width="1" height="1" fill="#73beb4"/>
<rect x="27" y="60" width="1" height="1" fill="#7bc4b6"/>
<rect x="28" y="60" width="1" height="1" fill="#75c3b4"/>
<rect x="29" y="60" width="1" height="1" fill="#6fbdaf"/>
<rect x="30" y="60" width="1" height="1" fill="#64b0aa"/>
<rect x="31" y="60" width="1" height="1" fill="#5ba6a6"/>
<rect x="32" y="60" width="1" height="1" fill="#55a0a4"/>
<rect x="33" y="60" width="1" height="1" fill="#529da2"/>
</g>
<g transform="translate(872.90 53.10) scale(19.6176 19.5852)">
<rect x="0" y="0" width="1" height="1" fill="#e6c8a0"/>
<rect x="1" y="0" width="1" height="1" fill="#d8c4a2"/>
<rect x="2" y="0" width="1" height="1" fill="#beb79b"/>
<rect x="3" y="0" width="1" height="1" fill="#7c3c6d"/>
<rect x="4" y="0" width="1" height="1" fill="#552498"/>
<rect x="5" y="0" width="1" height="1" fill="#8a396e"/>
<rect x="6" y="0" width="1" height="1" fill="#97426d"/>
<rect x="7" y="0" width="2" height="1" fill="#9e476e"/>
<rect x="9" y="0" width="1" height="1" fill="#9e466e"/>
<rect x="10" y="0" width="1" height="1" fill="#9c436d"/>
<rect x="11" y="0" width="1" height="1" fill="#9b3f6b"/>
<rect x="12" y="0" width="1" height="1" fill="#963d6a"/>
<rect x="13" y="0" width="4" height="1" fill="#552498"/>
<rect x="17" y="0" width="1" height="1" fill="#99436e"/>
<rect x="18" y="0" width="1" height="1" fill="#9c446e"/>
<rect x="19" y="0" width="1" height="1" fill="#9d446e"/>
<rect x="20" y="0" width="1" height="1" fill="#9c446e"/>
<rect x="21" y="0" width="1" height="1" fill="#853a6c"/>
<rect x="22" y="0" width="1" height="1" fill="#82376b"/>
<rect x="23" y="0" width="1" height="1" fill="#81366a"/>
<rect x="24" y="0" width="1" height="1" fill="#7d356a"/>
<rect x="25" y="0" width="1" height="1" fill="#773268"/>
<rect x="26" y="0" width="1" height="1" fill="#763167"/>
<rect x="27" y="0" width="1" height="1" fill="#773267"/>
<rect x="28" y="0" width="1" height="1" fill="#7a3568"/>
<rect x="29" y="0" width="1" height="1" fill="#7e396a"/>
<rect x="30" y="0" width="1" height="1" fill="#93406c"/>
<rect x="31" y="0" width="1" height="1" fill="#a1456e"/>
<rect x="32" y="0" width="1" height="1" fill="#9b436d"/>
<rect x="33" y="0" width="1" height="1" fill="#92406c"/>
<rect x="0" y="1" width="1" height="1" fill="#f4e9da"/>
<rect x="1" y="1" width="1" height="1" fill="#efe8d9"/>
<rect x="2" y="1" width="1" height="1" fill="#a7507c"/>
<rect x="3" y="1" width="1" height="1" fill="#92416e"/>
<rect x="4" y="1" width="3" height="1" fill="#552498"/>
<rect x="7" y="1" width="1" height="1" fill="#90406c"/>
<rect x="8" y="1" width="1" height="1" fill="#91416c"/>
<rect x="9" y="1" width="1" height="1" fill="#98426d"/>
<rect x="10" y="1" width="1" height="1" fill="#973f6b"/>
<rect x="11" y="1" width="1" height="1" fill="#963d6a"/>
<rect x="12" y="1" width="1" height="1" fill="#953d6a"/>
<rect x="13" y="1" width="7" height="1" fill="#552498"/>
<rect x="20" y="1" width="1" height="1" fill="#9a426e"/>
<rect x="21" y="1" width="1" height="1" fill="#9b426e"/>
<rect x="22" y="1" width="1" height="1" fill="#883b6c"/>
<rect x="23" y="1" width="1" height="1" fill="#83386a"/>
<rect x="24" y="1" width="1" height="1" fill="#80366a"/>
<rect x="25" y="1" width="1" height="1" fill="#793368"/>
<rect x="26" y="1" width="1" height="1" fill="#783368"/>
<rect x="27" y="1" width="1" height="1" fill="#7a3468"/>
<rect x="28" y="1" width="1" height="1" fill="#7e3869"/>
<rect x="29" y="1" width="1" height="1" fill="#813b6a"/>
<rect x="30" y="1" width="1" height="1" fill="#90406c"/>
<rect x="31" y="1" width="1" height="1" fill="#9f456f"/>
<rect x="32" y="1" width="1" height="1" fill="#9a436e"/>
<rect x="33" y="1" width="1" height="1" fill="#8b3f6b"/>
<rect x="0" y="2" width="1" height="1" fill="#f8fdfc"/>
<rect x="1" y="2" width="1" height="1" fill="#f4fdfc"/>
<rect x="2" y="2" width="1" height="1" fill="#a75685"/>
<rect x="3" y="2" width="1" height="1" fill="#98426d"/>
<rect x="4" y="2" width="17" height="1" fill="#552498"/>
<rect x="21" y="2" width="2" height="1" fill="#9b426e"/>
<rect x="23" y="2" width="1" height="1" fill="#923f6c"/>
<rect x="24" y="2" width="1" height="1" fill="#873a6a"/>
<rect x="25" y="2" width="1" height="1" fill="#81386a"/>
<rect x="26" y="2" width="1" height="1" fill="#80386a"/>
<rect x="27" y="2" width="1" height="1" fill="#81396a"/>
<rect x="28" y="2" width="1" height="1" fill="#843c6a"/>
<rect x="29" y="2" width="1" height="1" fill="#883e6b"/>
<rect x="30" y="2" width="1" height="1" fill="#8f416c"/>
<rect x="31" y="2" width="1" height="1" fill="#90426c"/>
<rect x="32" y="2" width="1" height="1" fill="#8d426c"/>
<rect x="33" y="2" width="1" height="1" fill="#89406a"/>
<rect x="0" y="3" width="1" height="1" fill="#f8fcfb"/>
<rect x="1" y="3" width="1" height="1" fill="#b66596"/>
<rect x="2" y="3" width="1" height="1" fill="#aa5785"/>
<rect x="3" y="3" width="1" height="1" fill="#9d446e"/>
<rect x="4" y="3" width="17" height="1" fill="#552498"/>
<rect x="21" y="3" width="1" height="1" fill="#9b446f"/>
<rect x="22" y="3" width="1" height="1" fill="#9a446e"/>
<rect x="23" y="3" width="1" height="1" fill="#96426d"/>
<rect x="24" y="3" width="1" height="1" fill="#8f3e6b"/>
<rect x="25" y="3" width="1" height="1" fill="#893c6a"/>
<rect x="26" y="3" width="1" height="1" fill="#873b6a"/>
<rect x="27" y="3" width="1" height="1" fill="#893c6a"/>
<rect x="28" y="3" width="1" height="1" fill="#8b3e6b"/>
<rect x="29" y="3" width="1" height="1" fill="#8f416c"/>
<rect x="30" y="3" width="2" height="1" fill="#91426c"/>
<rect x="32" y="3" width="1" height="1" fill="#8f426c"/>
<rect x="33" y="3" width="1" height="1" fill="#8b426b"/>
<rect x="0" y="4" width="1" height="1" fill="#f3ece7"/>
<rect x="1" y="4" width="1" height="1" fill="#b45e8d"/>
<rect x="2" y="4" width="1" height="1" fill="#aa5481"/>
<rect x="3" y="4" width="1" height="1" fill="#a2486f"/>
<rect x="4" y="4" width="1" height="1" fill="#9a436d"/>
<rect x="5" y="4" width="17" height="1" fill="#552498"/>
<rect x="22" y="4" width="1" height="1" fill="#9a456f"/>
<rect x="23" y="4" width="1" height="1" fill="#9b456e"/>
<rect x="24" y="4" width="1" height="1" fill="#9b446d"/>
<rect x="25" y="4" width="1" height="1" fill="#8f3e6a"/>
<rect x="26" y="4" width="1" height="1" fill="#8d3e6a"/>
<rect x="27" y="4" width="1" height="1" fill="#8e3e6a"/>
<rect x="28" y="4" width="1" height="1" fill="#91406b"/>
<rect x="29" y="4" width="2" height="1" fill="#96446c"/>
<rect x="31" y="4" width="1" height="1" fill="#94446c"/>
<rect x="32" y="4" width="1" height="1" fill="#91436c"/>
<rect x="33" y="4" width="1" height="1" fill="#8e436b"/>
<rect x="0" y="5" width="1" height="1" fill="#ced9d4"/>
<rect x="1" y="5" width="1" height="1" fill="#ab5785"/>
<rect x="2" y="5" width="1" height="1" fill="#a7507b"/>
<rect x="3" y="5" width="1" height="1" fill="#a3486f"/>
<rect x="4" y="5" width="1" height="1" fill="#99436e"/>
<rect x="5" y="5" width="18" height="1" fill="#552498"/>
<rect x="23" y="5" width="1" height="1" fill="#9e476e"/>
<rect x="24" y="5" width="1" height="1" fill="#a0476e"/>
<rect x="25" y="5" width="1" height="1" fill="#9d466d"/>
<rect x="26" y="5" width="1" height="1" fill="#94426b"/>
<rect x="27" y="5" width="1" height="1" fill="#93416b"/>
<rect x="28" y="5" width="1" height="1" fill="#98446c"/>
<rect x="29" y="5" width="1" height="1" fill="#a0496e"/>
<rect x="30" y="5" width="1" height="1" fill="#a54c70"/>
<rect x="31" y="5" width="1" height="1" fill="#ab5072"/>
<rect x="32" y="5" width="1" height="1" fill="#ac5072"/>
<rect x="33" y="5" width="1" height="1" fill="#aa4f71"/>
<rect x="0" y="6" width="1" height="1" fill="#9bad9e"/>
<rect x="1" y="6" width="1" height="1" fill="#984772"/>
<rect x="2" y="6" width="1" height="1" fill="#9e4871"/>
<rect x="3" y="6" width="1" height="1" fill="#a1476f"/>
<rect x="4" y="6" width="1" height="1" fill="#92416e"/>
<rect x="5" y="6" width="19" height="1" fill="#552498"/>
<rect x="24" y="6" width="1" height="1" fill="#a1486e"/>
<rect x="25" y="6" width="1" height="1" fill="#a2486e"/>
<rect x="26" y="6" width="1" height="1" fill="#9a446c"/>
<rect x="27" y="6" width="1" height="1" fill="#97436c"/>
<rect x="28" y="6" width="1" height="1" fill="#9b466d"/>
<rect x="29" y="6" width="1" height="1" fill="#a34b70"/>
<rect x="30" y="6" width="1" height="1" fill="#af5273"/>
<rect x="31" y="6" width="2" height="1" fill="#b65675"/>
<rect x="33" y="6" width="1" height="1" fill="#b55574"/>
<rect x="0" y="7" width="1" height="1" fill="#9ba698"/>
<rect x="1" y="7" width="1" height="1" fill="#96436f"/>
<rect x="2" y="7" width="1" height="1" fill="#97436e"/>
<rect x="3" y="7" width="1" height="1" fill="#97426e"/>
<rect x="4" y="7" width="20" height="1" fill="#552498"/>
<rect x="24" y="7" width="1" height="1" fill="#9c466e"/>
<rect x="25" y="7" width="1" height="1" fill="#a94b6e"/>
<rect x="26" y="7" width="1" height="1" fill="#a74a6e"/>
<rect x="27" y="7" width="1" height="1" fill="#a2476e"/>
<rect x="28" y="7" width="1" height="1" fill="#9a456e"/>
<rect x="29" y="7" width="1" height="1" fill="#9b466e"/>
<rect x="30" y="7" width="1" height="1" fill="#a34c72"/>
<rect x="31" y="7" width="1" height="1" fill="#ac5074"/>
<rect x="32" y="7" width="1" height="1" fill="#ad5074"/>
<rect x="33" y="7" width="1" height="1" fill="#ab4e73"/>
<rect x="0" y="8" width="1" height="1" fill="#b29f97"/>
<rect x="1" y="8" width="1" height="1" fill="#93416e"/>
<rect x="2" y="8" width="1" height="1" fill="#91406d"/>
<rect x="3" y="8" width="22" height="1" fill="#552498"/>
<rect x="25" y="8" width="1" height="1" fill="#ac4d6e"/>
<rect x="26" y="8" width="1" height="1" fill="#aa4b6e"/>
<rect x="27" y="8" width="1" height="1" fill="#a5486e"/>
<rect x="28" y="8" width="1" height="1" fill="#98426d"/>
<rect x="29" y="8" width="1" height="1" fill="#87396a"/>
<rect x="30" y="8" width="1" height="1" fill="#903f6d"/>
<rect x="31" y="8" width="1" height="1" fill="#9f4a72"/>
<rect x="32" y="8" width="1" height="1" fill="#a24a72"/>
<rect x="33" y="8" width="1" height="1" fill="#a04971"/>
<rect x="0" y="9" width="1" height="1" fill="#9c426e"/>
<rect x="1" y="9" width="1" height="1" fill="#903f6d"/>
<rect x="2" y="9" width="23" height="1" fill="#552498"/>
<rect x="25" y="9" width="1" height="1" fill="#ab4c6d"/>
<rect x="26" y="9" width="1" height="1" fill="#aa4b6d"/>
<rect x="27" y="9" width="1" height="1" fill="#a6486d"/>
<rect x="28" y="9" width="1" height="1" fill="#97406c"/>
<rect x="29" y="9" width="1" height="1" fill="#89396a"/>
<rect x="30" y="9" width="1" height="1" fill="#86386a"/>
<rect x="31" y="9" width="1" height="1" fill="#85386a"/>
<rect x="32" y="9" width="1" height="1" fill="#8a3a6b"/>
<rect x="33" y="9" width="1" height="1" fill="#8f3d6c"/>
<rect x="0" y="10" width="1" height="1" fill="#b2a995"/>
<rect x="1" y="10" width="24" height="1" fill="#552498"/>
<rect x="25" y="10" width="1" height="1" fill="#a94a6d"/>
<rect x="26" y="10" width="1" height="1" fill="#aa4a6d"/>
<rect x="27" y="10" width="1" height="1" fill="#a7486d"/>
<rect x="28" y="10" width="1" height="1" fill="#98416c"/>
<rect x="29" y="10" width="1" height="1" fill="#893869"/>
<rect x="30" y="10" width="1" height="1" fill="#823669"/>
<rect x="31" y="10" width="1" height="1" fill="#7d3368"/>
<rect x="32" y="10" width="1" height="1" fill="#813669"/>
<rect x="33" y="10" width="1" height="1" fill="#8b3b6b"/>
<rect x="0" y="11" width="1" height="1" fill="#005bff"/>
<rect x="1" y="11" width="24" height="1" fill="#552498"/>
<rect x="25" y="11" width="1" height="1" fill="#9d426c"/>
<rect x="26" y="11" width="1" height="1" fill="#9e416c"/>
<rect x="27" y="11" width="1" height="1" fill="#99406c"/>
<rect x="28" y="11" width="1" height="1" fill="#8c3969"/>
<rect x="29" y="11" width="1" height="1" fill="#863668"/>
<rect x="30" y="11" width="1" height="1" fill="#7e3368"/>
<rect x="31" y="11" width="1" height="1" fill="#7b3268"/>
<rect x="32" y="11" width="1" height="1" fill="#7d3468"/>
<rect x="33" y="11" width="1" height="1" fill="#813769"/>
<rect x="0" y="12" width="1" height="1" fill="#005bff"/>
<rect x="1" y="12" width="25" height="1" fill="#552498"/>
<rect x="26" y="12" width="1" height="1" fill="#89386a"/>
<rect x="27" y="12" width="1" height="1" fill="#883769"/>
<rect x="28" y="12" width="1" height="1" fill="#843668"/>
<rect x="29" y="12" width="1" height="1" fill="#803468"/>
<rect x="30" y="12" width="1" height="1" fill="#7d3268"/>
<rect x="31" y="12" width="1" height="1" fill="#7b3267"/>
<rect x="32" y="12" width="1" height="1" fill="#7c3368"/>
<rect x="33" y="12" width="1" height="1" fill="#7d3468"/>
<rect x="0" y="13" width="1" height="1" fill="#005bff"/>
<rect x="1" y="13" width="22" height="1" fill="#552498"/>
<rect x="23" y="13" width="1" height="1" fill="#8a396a"/>
<rect x="24" y="13" width="1" height="1" fill="#8d396a"/>
<rect x="25" y="13" width="1" height="1" fill="#82366a"/>
<rect x="26" y="13" width="1" height="1" fill="#7e3469"/>
<rect x="27" y="13" width="1" height="1" fill="#7d3268"/>
<rect x="28" y="13" width="2" height="1" fill="#7c3268"/>
<rect x="30" y="13" width="1" height="1" fill="#7b3267"/>
<rect x="31" y="13" width="1" height="1" fill="#7a3167"/>
<rect x="32" y="13" width="1" height="1" fill="#793166"/>
<rect x="33" y="13" width="1" height="1" fill="#783166"/>
<rect x="0" y="14" width="1" height="1" fill="#005bff"/>
<rect x="1" y="14" width="22" height="1" fill="#552498"/>
<rect x="23" y="14" width="1" height="1" fill="#8d3a6a"/>
<rect x="24" y="14" width="1" height="1" fill="#8f3a6a"/>
<rect x="25" y="14" width="1" height="1" fill="#81356a"/>
<rect x="26" y="14" width="1" height="1" fill="#793168"/>
<rect x="27" y="14" width="1" height="1" fill="#752e67"/>
<rect x="28" y="14" width="1" height="1" fill="#762e66"/>
<rect x="29" y="14" width="1" height="1" fill="#793067"/>
<rect x="30" y="14" width="1" height="1" fill="#7a3167"/>
<rect x="31" y="14" width="1" height="1" fill="#793166"/>
<rect x="32" y="14" width="1" height="1" fill="#783066"/>
<rect x="33" y="14" width="1" height="1" fill="#752f66"/>
<rect x="0" y="15" width="1" height="1" fill="#005bff"/>
<rect x="1" y="15" width="23" height="1" fill="#552498"/>
<rect x="24" y="15" width="1" height="1" fill="#8d3b6b"/>
<rect x="25" y="15" width="1" height="1" fill="#81366a"/>
<rect x="26" y="15" width="1" height="1" fill="#7a3168"/>
<rect x="27" y="15" width="1" height="1" fill="#762f67"/>
<rect x="28" y="15" width="1" height="1" fill="#762f66"/>
<rect x="29" y="15" width="2" height="1" fill="#783066"/>
<rect x="31" y="15" width="1" height="1" fill="#772f66"/>
<rect x="32" y="15" width="1" height="1" fill="#752e65"/>
<rect x="33" y="15" width="1" height="1" fill="#752d65"/>
<rect x="0" y="16" width="2" height="1" fill="#005bff"/>
<rect x="2" y="16" width="22" height="1" fill="#552498"/>
<rect x="24" y="16" width="1" height="1" fill="#8b3c6c"/>
<rect x="25" y="16" width="1" height="1" fill="#83376a"/>
<rect x="26" y="16" width="1" height="1" fill="#7d3468"/>
<rect x="27" y="16" width="1" height="1" fill="#793268"/>
<rect x="28" y="16" width="1" height="1" fill="#793167"/>
<rect x="29" y="16" width="1" height="1" fill="#783066"/>
<rect x="30" y="16" width="1" height="1" fill="#762e65"/>
<rect x="31" y="16" width="1" height="1" fill="#742b64"/>
<rect x="32" y="16" width="2" height="1" fill="#732a63"/>
<rect x="0" y="17" width="1" height="1" fill="#005bff"/>
<rect x="1" y="17" width="23" height="1" fill="#552498"/>
<rect x="24" y="17" width="1" height="1" fill="#8a3c6c"/>
<rect x="25" y="17" width="1" height="1" fill="#823769"/>
<rect x="26" y="17" width="1" height="1" fill="#7e3568"/>
<rect x="27" y="17" width="1" height="1" fill="#7c3368"/>
<rect x="28" y="17" width="1" height="1" fill="#7b3267"/>
<rect x="29" y="17" width="1" height="1" fill="#793066"/>
<rect x="30" y="17" width="1" height="1" fill="#762d64"/>
<rect x="31" y="17" width="1" height="1" fill="#732a63"/>
<rect x="32" y="17" width="2" height="1" fill="#722962"/>
<rect x="0" y="18" width="1" height="1" fill="#005bff"/>
<rect x="1" y="18" width="23" height="1" fill="#552498"/>
<rect x="24" y="18" width="1" height="1" fill="#86396a"/>
<rect x="25" y="18" width="1" height="1" fill="#813669"/>
<rect x="26" y="18" width="1" height="1" fill="#803568"/>
<rect x="27" y="18" width="1" height="1" fill="#813568"/>
<rect x="28" y="18" width="1" height="1" fill="#803568"/>
<rect x="29" y="18" width="1" height="1" fill="#7c3266"/>
<rect x="30" y="18" width="1" height="1" fill="#772e65"/>
<rect x="31" y="18" width="1" height="1" fill="#732a63"/>
<rect x="32" y="18" width="2" height="1" fill="#722962"/>
<rect x="0" y="19" width="23" height="1" fill="#552498"/>
<rect x="23" y="19" width="1" height="1" fill="#86396a"/>
<rect x="24" y="19" width="1" height="1" fill="#813669"/>
<rect x="25" y="19" width="1" height="1" fill="#7f3568"/>
<rect x="26" y="19" width="1" height="1" fill="#803568"/>
<rect x="27" y="19" width="1" height="1" fill="#823669"/>
<rect x="28" y="19" width="1" height="1" fill="#823668"/>
<rect x="29" y="19" width="1" height="1" fill="#7d3267"/>
<rect x="30" y="19" width="1" height="1" fill="#772e65"/>
<rect x="31" y="19" width="1" height="1" fill="#732a63"/>
<rect x="32" y="19" width="2" height="1" fill="#722961"/>
<rect x="0" y="20" width="22" height="1" fill="#552498"/>
<rect x="22" y="20" width="1" height="1" fill="#873869"/>
<rect x="23" y="20" width="1" height="1" fill="#883769"/>
<rect x="24" y="20" width="1" height="1" fill="#803569"/>
<rect x="25" y="20" width="1" height="1" fill="#7f3468"/>
<rect x="26" y="20" width="1" height="1" fill="#833669"/>
<rect x="27" y="20" width="1" height="1" fill="#863869"/>
<rect x="28" y="20" width="1" height="1" fill="#853769"/>
<rect x="29" y="20" width="1" height="1" fill="#803468"/>
<rect x="30" y="20" width="1" height="1" fill="#772e65"/>
<rect x="31" y="20" width="1" height="1" fill="#732a62"/>
<rect x="32" y="20" width="1" height="1" fill="#722962"/>
<rect x="33" y="20" width="1" height="1" fill="#722961"/>
<rect x="0" y="21" width="21" height="1" fill="#552498"/>
<rect x="21" y="21" width="1" height="1" fill="#803669"/>
<rect x="22" y="21" width="1" height="1" fill="#833669"/>
<rect x="23" y="21" width="1" height="1" fill="#903768"/>
<rect x="24" y="21" width="1" height="1" fill="#923868"/>
<rect x="25" y="21" width="1" height="1" fill="#913869"/>
<rect x="26" y="21" width="1" height="1" fill="#883769"/>
<rect x="27" y="21" width="1" height="1" fill="#833668"/>
<rect x="28" y="21" width="1" height="1" fill="#7c3267"/>
<rect x="29" y="21" width="1" height="1" fill="#782f66"/>
<rect x="30" y="21" width="1" height="1" fill="#762d64"/>
<rect x="31" y="21" width="1" height="1" fill="#732a63"/>
<rect x="32" y="21" width="2" height="1" fill="#722962"/>
<rect x="0" y="22" width="20" height="1" fill="#552498"/>
<rect x="20" y="22" width="1" height="1" fill="#7d3468"/>
<rect x="21" y="22" width="1" height="1" fill="#7c3368"/>
<rect x="22" y="22" width="1" height="1" fill="#7e3569"/>
<rect x="23" y="22" width="1" height="1" fill="#943867"/>
<rect x="24" y="22" width="1" height="1" fill="#953b69"/>
<rect x="25" y="22" width="1" height="1" fill="#953c6a"/>
<rect x="26" y="22" width="1" height="1" fill="#883769"/>
<rect x="27" y="22" width="1" height="1" fill="#792f66"/>
<rect x="28" y="22" width="1" height="1" fill="#762d64"/>
<rect x="29" y="22" width="2" height="1" fill="#752c64"/>
<rect x="31" y="22" width="1" height="1" fill="#742b63"/>
<rect x="32" y="22" width="2" height="1" fill="#722962"/>
<rect x="0" y="23" width="19" height="1" fill="#552498"/>
<rect x="19" y="23" width="1" height="1" fill="#7b3368"/>
<rect x="20" y="23" width="1" height="1" fill="#7c3268"/>
<rect x="21" y="23" width="1" height="1" fill="#7c3368"/>
<rect x="22" y="23" width="1" height="1" fill="#7e3469"/>
<rect x="23" y="23" width="1" height="1" fill="#923968"/>
<rect x="24" y="23" width="1" height="1" fill="#953c6a"/>
<rect x="25" y="23" width="1" height="1" fill="#953d6a"/>
<rect x="26" y="23" width="1" height="1" fill="#833669"/>
<rect x="27" y="23" width="1" height="1" fill="#732a63"/>
<rect x="28" y="23" width="4" height="1" fill="#732a62"/>
<rect x="32" y="23" width="2" height="1" fill="#722962"/>
<rect x="0" y="24" width="19" height="1" fill="#552498"/>
<rect x="19" y="24" width="1" height="1" fill="#7b3268"/>
<rect x="20" y="24" width="1" height="1" fill="#7c3268"/>
<rect x="21" y="24" width="1" height="1" fill="#7d3368"/>
<rect x="22" y="24" width="1" height="1" fill="#7e3569"/>
<rect x="23" y="24" width="1" height="1" fill="#8e3a6a"/>
<rect x="24" y="24" width="1" height="1" fill="#903b6a"/>
<rect x="25" y="24" width="1" height="1" fill="#8f3b6a"/>
<rect x="26" y="24" width="1" height="1" fill="#7f3568"/>
<rect x="27" y="24" width="3" height="1" fill="#722962"/>
<rect x="30" y="24" width="1" height="1" fill="#732a62"/>
<rect x="31" y="24" width="1" height="1" fill="#732a63"/>
<rect x="32" y="24" width="2" height="1" fill="#722962"/>
<rect x="0" y="25" width="18" height="1" fill="#552498"/>
<rect x="18" y="25" width="1" height="1" fill="#783569"/>
<rect x="19" y="25" width="1" height="1" fill="#7c3368"/>
<rect x="20" y="25" width="1" height="1" fill="#7d3268"/>
<rect x="21" y="25" width="1" height="1" fill="#7d3368"/>
<rect x="22" y="25" width="1" height="1" fill="#7f3569"/>
<rect x="23" y="25" width="1" height="1" fill="#823669"/>
<rect x="24" y="25" width="1" height="1" fill="#873869"/>
<rect x="25" y="25" width="1" height="1" fill="#823668"/>
<rect x="26" y="25" width="1" height="1" fill="#772f65"/>
<rect x="27" y="25" width="1" height="1" fill="#732a63"/>
<rect x="28" y="25" width="1" height="1" fill="#722962"/>
<rect x="29" y="25" width="1" height="1" fill="#722a63"/>
<rect x="30" y="25" width="2" height="1" fill="#742b63"/>
<rect x="32" y="25" width="1" height="1" fill="#732a63"/>
<rect x="33" y="25" width="1" height="1" fill="#722a62"/>
<rect x="0" y="26" width="18" height="1" fill="#552498"/>
<rect x="18" y="26" width="1" height="1" fill="#7d3569"/>
<rect x="19" y="26" width="1" height="1" fill="#7d3468"/>
<rect x="20" y="26" width="1" height="1" fill="#7d3368"/>
<rect x="21" y="26" width="1" height="1" fill="#7e3468"/>
<rect x="22" y="26" width="1" height="1" fill="#7f3468"/>
<rect x="23" y="26" width="1" height="1" fill="#803468"/>
<rect x="24" y="26" width="1" height="1" fill="#7c3166"/>
<rect x="25" y="26" width="1" height="1" fill="#762e65"/>
<rect x="26" y="26" width="1" height="1" fill="#742c64"/>
<rect x="27" y="26" width="1" height="1" fill="#732b64"/>
<rect x="28" y="26" width="1" height="1" fill="#722b64"/>
<rect x="29" y="26" width="1" height="1" fill="#722a64"/>
<rect x="30" y="26" width="1" height="1" fill="#742c64"/>
<rect x="31" y="26" width="2" height="1" fill="#752d64"/>
<rect x="33" y="26" width="1" height="1" fill="#742c64"/>
<rect x="0" y="27" width="16" height="1" fill="#552498"/>
<rect x="16" y="27" width="1" height="1" fill="#8d3b6a"/>
<rect x="17" y="27" width="1" height="1" fill="#84366a"/>
<rect x="18" y="27" width="1" height="1" fill="#7e3468"/>
<rect x="19" y="27" width="1" height="1" fill="#7c3368"/>
<rect x="20" y="27" width="1" height="1" fill="#7d3468"/>
<rect x="21" y="27" width="1" height="1" fill="#7e3468"/>
<rect x="22" y="27" width="1" height="1" fill="#7f3468"/>
<rect x="23" y="27" width="1" height="1" fill="#7d3268"/>
<rect x="24" y="27" width="1" height="1" fill="#792f66"/>
<rect x="25" y="27" width="1" height="1" fill="#752d64"/>
<rect x="26" y="27" width="1" height="1" fill="#742c64"/>
<rect x="27" y="27" width="1" height="1" fill="#742b64"/>
<rect x="28" y="27" width="2" height="1" fill="#732b64"/>
<rect x="30" y="27" width="1" height="1" fill="#742c64"/>
<rect x="31" y="27" width="2" height="1" fill="#762d64"/>
<rect x="33" y="27" width="1" height="1" fill="#752d64"/>
<rect x="0" y="28" width="16" height="1" fill="#552498"/>
<rect x="16" y="28" width="1" height="1" fill="#8d3b6b"/>
<rect x="17" y="28" width="1" height="1" fill="#853569"/>
<rect x="18" y="28" width="1" height="1" fill="#7e3368"/>
<rect x="19" y="28" width="1" height="1" fill="#7b3268"/>
<rect x="20" y="28" width="1" height="1" fill="#7c3368"/>
<rect x="21" y="28" width="1" height="1" fill="#7d3468"/>
<rect x="22" y="28" width="1" height="1" fill="#7d3368"/>
<rect x="23" y="28" width="1" height="1" fill="#7b3267"/>
<rect x="24" y="28" width="1" height="1" fill="#782f66"/>
<rect x="25" y="28" width="1" height="1" fill="#752d65"/>
<rect x="26" y="28" width="1" height="1" fill="#742c64"/>
<rect x="27" y="28" width="1" height="1" fill="#742b65"/>
<rect x="28" y="28" width="2" height="1" fill="#732b64"/>
<rect x="30" y="28" width="1" height="1" fill="#752c64"/>
<rect x="31" y="28" width="2" height="1" fill="#762d64"/>
<rect x="33" y="28" width="1" height="1" fill="#762e64"/>
<rect x="0" y="29" width="16" height="1" fill="#552498"/>
<rect x="16" y="29" width="1" height="1" fill="#873b6b"/>
<rect x="17" y="29" width="1" height="1" fill="#833569"/>
<rect x="18" y="29" width="1" height="1" fill="#7d3268"/>
<rect x="19" y="29" width="1" height="1" fill="#793067"/>
<rect x="20" y="29" width="1" height="1" fill="#793066"/>
<rect x="21" y="29" width="2" height="1" fill="#7b3266"/>
<rect x="23" y="29" width="1" height="1" fill="#7a3266"/>
<rect x="24" y="29" width="1" height="1" fill="#783166"/>
<rect x="25" y="29" width="1" height="1" fill="#772f65"/>
<rect x="26" y="29" width="1" height="1" fill="#762e65"/>
<rect x="27" y="29" width="1" height="1" fill="#752c64"/>
<rect x="28" y="29" width="1" height="1" fill="#742c64"/>
<rect x="29" y="29" width="1" height="1" fill="#742b64"/>
<rect x="30" y="29" width="1" height="1" fill="#742c64"/>
<rect x="31" y="29" width="1" height="1" fill="#752c65"/>
<rect x="32" y="29" width="1" height="1" fill="#762e65"/>
<rect x="33" y="29" width="1" height="1" fill="#772f66"/>
<rect x="0" y="30" width="17" height="1" fill="#552498"/>
<rect x="17" y="30" width="1" height="1" fill="#823569"/>
<rect x="18" y="30" width="1" height="1" fill="#7d3168"/>
<rect x="19" y="30" width="1" height="1" fill="#782e66"/>
<rect x="20" y="30" width="1" height="1" fill="#772e66"/>
<rect x="21" y="30" width="1" height="1" fill="#793066"/>
<rect x="22" y="30" width="1" height="1" fill="#793166"/>
<rect x="23" y="30" width="2" height="1" fill="#793266"/>
<rect x="25" y="30" width="1" height="1" fill="#793166"/>
<rect x="26" y="30" width="1" height="1" fill="#772f65"/>
<rect x="27" y="30" width="1" height="1" fill="#762d64"/>
<rect x="28" y="30" width="2" height="1" fill="#752c64"/>
<rect x="30" y="30" width="1" height="1" fill="#742c64"/>
<rect x="31" y="30" width="1" height="1" fill="#742c65"/>
<rect x="32" y="30" width="1" height="1" fill="#772f66"/>
<rect x="33" y="30" width="1" height="1" fill="#793066"/>
<rect x="0" y="31" width="17" height="1" fill="#552498"/>
<rect x="17" y="31" width="1" height="1" fill="#813569"/>
<rect x="18" y="31" width="1" height="1" fill="#7c3168"/>
<rect x="19" y="31" width="2" height="1" fill="#762d66"/>
<rect x="21" y="31" width="1" height="1" fill="#772e66"/>
<rect x="22" y="31" width="3" height="1" fill="#773066"/>
<rect x="25" y="31" width="1" height="1" fill="#772f65"/>
<rect x="26" y="31" width="1" height="1" fill="#762e65"/>
<rect x="27" y="31" width="1" height="1" fill="#752d64"/>
<rect x="28" y="31" width="1" height="1" fill="#752c64"/>
<rect x="29" y="31" width="1" height="1" fill="#772e65"/>
<rect x="30" y="31" width="1" height="1" fill="#793066"/>
<rect x="31" y="31" width="1" height="1" fill="#7b3267"/>
<rect x="32" y="31" width="1" height="1" fill="#7d3367"/>
<rect x="33" y="31" width="1" height="1" fill="#7d3468"/>
<rect x="0" y="32" width="17" height="1" fill="#552498"/>
<rect x="17" y="32" width="1" height="1" fill="#803569"/>
<rect x="18" y="32" width="1" height="1" fill="#7b3168"/>
<rect x="19" y="32" width="1" height="1" fill="#752d66"/>
<rect x="20" y="32" width="1" height="1" fill="#742c66"/>
<rect x="21" y="32" width="2" height="1" fill="#762e66"/>
<rect x="23" y="32" width="2" height="1" fill="#752f65"/>
<rect x="25" y="32" width="1" height="1" fill="#752e65"/>
<rect x="26" y="32" width="1" height="1" fill="#752d64"/>
<rect x="27" y="32" width="1" height="1" fill="#742c64"/>
<rect x="28" y="32" width="1" height="1" fill="#752c64"/>
<rect x="29" y="32" width="1" height="1" fill="#7a3066"/>
<rect x="30" y="32" width="1" height="1" fill="#813367"/>
<rect x="31" y="32" width="1" height="1" fill="#833567"/>
<rect x="32" y="32" width="1" height="1" fill="#833568"/>
<rect x="33" y="32" width="1" height="1" fill="#823668"/>
<rect x="0" y="33" width="16" height="1" fill="#552498"/>
<rect x="16" y="33" width="1" height="1" fill="#863a6a"/>
<rect x="17" y="33" width="1" height="1" fill="#803468"/>
<rect x="18" y="33" width="1" height="1" fill="#7b3268"/>
<rect x="19" y="33" width="3" height="1" fill="#752d66"/>
<rect x="22" y="33" width="1" height="1" fill="#762e66"/>
<rect x="23" y="33" width="2" height="1" fill="#772f66"/>
<rect x="25" y="33" width="1" height="1" fill="#762f65"/>
<rect x="26" y="33" width="1" height="1" fill="#752d65"/>
<rect x="27" y="33" width="1" height="1" fill="#742b64"/>
<rect x="28" y="33" width="1" height="1" fill="#742c65"/>
<rect x="29" y="33" width="1" height="1" fill="#7a3067"/>
<rect x="30" y="33" width="1" height="1" fill="#833468"/>
<rect x="31" y="33" width="1" height="1" fill="#863567"/>
<rect x="32" y="33" width="1" height="1" fill="#873667"/>
<rect x="33" y="33" width="1" height="1" fill="#873767"/>
<rect x="0" y="34" width="15" height="1" fill="#552498"/>
<rect x="15" y="34" width="1" height="1" fill="#883a6a"/>
<rect x="16" y="34" width="1" height="1" fill="#8c3b6a"/>
<rect x="17" y="34" width="1" height="1" fill="#803468"/>
<rect x="18" y="34" width="1" height="1" fill="#7b3268"/>
<rect x="19" y="34" width="1" height="1" fill="#762e66"/>
<rect x="20" y="34" width="1" height="1" fill="#752d66"/>
<rect x="21" y="34" width="1" height="1" fill="#752d65"/>
<rect x="22" y="34" width="1" height="1" fill="#762f66"/>
<rect x="23" y="34" width="1" height="1" fill="#783066"/>
<rect x="24" y="34" width="1" height="1" fill="#793166"/>
<rect x="25" y="34" width="1" height="1" fill="#783066"/>
<rect x="26" y="34" width="1" height="1" fill="#762e65"/>
<rect x="27" y="34" width="1" height="1" fill="#752d65"/>
<rect x="28" y="34" width="1" height="1" fill="#762d66"/>
<rect x="29" y="34" width="1" height="1" fill="#7b3167"/>
<rect x="30" y="34" width="1" height="1" fill="#833468"/>
<rect x="31" y="34" width="1" height="1" fill="#873667"/>
<rect x="32" y="34" width="1" height="1" fill="#893667"/>
<rect x="33" y="34" width="1" height="1" fill="#893767"/>
<rect x="0" y="35" width="14" height="1" fill="#552498"/>
<rect x="14" y="35" width="1" height="1" fill="#833769"/>
<rect x="15" y="35" width="1" height="1" fill="#893969"/>
<rect x="16" y="35" width="1" height="1" fill="#8c3a6a"/>
<rect x="17" y="35" width="1" height="1" fill="#803468"/>
<rect x="18" y="35" width="1" height="1" fill="#7a3168"/>
<rect x="19" y="35" width="1" height="1" fill="#762e66"/>
<rect x="20" y="35" width="1" height="1" fill="#742d65"/>
<rect x="21" y="35" width="1" height="1" fill="#752d65"/>
<rect x="22" y="35" width="1" height="1" fill="#762f66"/>
<rect x="23" y="35" width="1" height="1" fill="#783166"/>
<rect x="24" y="35" width="2" height="1" fill="#7a3266"/>
<rect x="26" y="35" width="1" height="1" fill="#793166"/>
<rect x="27" y="35" width="1" height="1" fill="#782f66"/>
<rect x="28" y="35" width="1" height="1" fill="#782f67"/>
<rect x="29" y="35" width="1" height="1" fill="#7d3268"/>
<rect x="30" y="35" width="1" height="1" fill="#833668"/>
<rect x="31" y="35" width="1" height="1" fill="#863768"/>
<rect x="32" y="35" width="1" height="1" fill="#873868"/>
<rect x="33" y="35" width="1" height="1" fill="#883868"/>
<rect x="0" y="36" width="13" height="1" fill="#552498"/>
<rect x="13" y="36" width="1" height="1" fill="#83386a"/>
<rect x="14" y="36" width="1" height="1" fill="#883869"/>
<rect x="15" y="36" width="1" height="1" fill="#8a3969"/>
<rect x="16" y="36" width="1" height="1" fill="#893869"/>
<rect x="17" y="36" width="1" height="1" fill="#813568"/>
<rect x="18" y="36" width="1" height="1" fill="#7a3268"/>
<rect x="19" y="36" width="1" height="1" fill="#763067"/>
<rect x="20" y="36" width="1" height="1" fill="#752e66"/>
<rect x="21" y="36" width="2" height="1" fill="#742e65"/>
<rect x="23" y="36" width="1" height="1" fill="#762f66"/>
<rect x="24" y="36" width="1" height="1" fill="#7a3267"/>
<rect x="25" y="36" width="1" height="1" fill="#7c3367"/>
<rect x="26" y="36" width="1" height="1" fill="#7c3368"/>
<rect x="27" y="36" width="1" height="1" fill="#7b3268"/>
<rect x="28" y="36" width="1" height="1" fill="#7c3268"/>
<rect x="29" y="36" width="1" height="1" fill="#803568"/>
<rect x="30" y="36" width="1" height="1" fill="#833768"/>
<rect x="31" y="36" width="1" height="1" fill="#863869"/>
<rect x="32" y="36" width="1" height="1" fill="#873969"/>
<rect x="33" y="36" width="1" height="1" fill="#873a6a"/>
<rect x="0" y="37" width="13" height="1" fill="#552498"/>
<rect x="13" y="37" width="1" height="1" fill="#883a6a"/>
<rect x="14" y="37" width="1" height="1" fill="#8d3b6a"/>
<rect x="15" y="37" width="1" height="1" fill="#8e3b6a"/>
<rect x="16" y="37" width="1" height="1" fill="#8d3b6a"/>
<rect x="17" y="37" width="1" height="1" fill="#813668"/>
<rect x="18" y="37" width="1" height="1" fill="#7c3468"/>
<rect x="19" y="37" width="1" height="1" fill="#783267"/>
<rect x="20" y="37" width="1" height="1" fill="#763166"/>
<rect x="21" y="37" width="1" height="1" fill="#752f65"/>
<rect x="22" y="37" width="2" height="1" fill="#742e65"/>
<rect x="24" y="37" width="1" height="1" fill="#773066"/>
<rect x="25" y="37" width="1" height="1" fill="#7c3367"/>
<rect x="26" y="37" width="1" height="1" fill="#7d3368"/>
<rect x="27" y="37" width="1" height="1" fill="#7e3368"/>
<rect x="28" y="37" width="1" height="1" fill="#7e3468"/>
<rect x="29" y="37" width="1" height="1" fill="#813668"/>
<rect x="30" y="37" width="1" height="1" fill="#843868"/>
<rect x="31" y="37" width="1" height="1" fill="#863969"/>
<rect x="32" y="37" width="1" height="1" fill="#873969"/>
<rect x="33" y="37" width="1" height="1" fill="#863a6a"/>
<rect x="0" y="38" width="14" height="1" fill="#552498"/>
<rect x="14" y="38" width="1" height="1" fill="#8e3c6a"/>
<rect x="15" y="38" width="1" height="1" fill="#903c6b"/>
<rect x="16" y="38" width="1" height="1" fill="#8e3c6a"/>
<rect x="17" y="38" width="1" height="1" fill="#833869"/>
<rect x="18" y="38" width="1" height="1" fill="#7f3669"/>
<rect x="19" y="38" width="1" height="1" fill="#7b3468"/>
<rect x="20" y="38" width="1" height="1" fill="#783267"/>
<rect x="21" y="38" width="1" height="1" fill="#763066"/>
<rect x="22" y="38" width="1" height="1" fill="#742e64"/>
<rect x="23" y="38" width="1" height="1" fill="#742d64"/>
<rect x="24" y="38" width="1" height="1" fill="#762f65"/>
<rect x="25" y="38" width="1" height="1" fill="#7a3166"/>
<rect x="26" y="38" width="1" height="1" fill="#7d3367"/>
<rect x="27" y="38" width="1" height="1" fill="#7f3468"/>
<rect x="28" y="38" width="1" height="1" fill="#813568"/>
<rect x="29" y="38" width="1" height="1" fill="#833668"/>
<rect x="30" y="38" width="4" height="1" fill="#853868"/>
<rect x="0" y="39" width="17" height="1" fill="#552498"/>
<rect x="17" y="39" width="1" height="1" fill="#843a6a"/>
<rect x="18" y="39" width="1" height="1" fill="#82396a"/>
<rect x="19" y="39" width="1" height="1" fill="#803769"/>
<rect x="20" y="39" width="1" height="1" fill="#7b3468"/>
<rect x="21" y="39" width="1" height="1" fill="#793266"/>
<rect x="22" y="39" width="1" height="1" fill="#752f65"/>
<rect x="23" y="39" width="1" height="1" fill="#752d64"/>
<rect x="24" y="39" width="1" height="1" fill="#762f65"/>
<rect x="25" y="39" width="1" height="1" fill="#793166"/>
<rect x="26" y="39" width="1" height="1" fill="#7d3367"/>
<rect x="27" y="39" width="1" height="1" fill="#803468"/>
<rect x="28" y="39" width="1" height="1" fill="#813568"/>
<rect x="29" y="39" width="1" height="1" fill="#833668"/>
<rect x="30" y="39" width="3" height="1" fill="#843768"/>
<rect x="33" y="39" width="1" height="1" fill="#833768"/>
<rect x="0" y="40" width="18" height="1" fill="#552498"/>
<rect x="18" y="40" width="1" height="1" fill="#933f6c"/>
<rect x="19" y="40" width="1" height="1" fill="#943f6c"/>
<rect x="20" y="40" width="1" height="1" fill="#84396a"/>
<rect x="21" y="40" width="1" height="1" fill="#813769"/>
<rect x="22" y="40" width="1" height="1" fill="#7f3568"/>
<rect x="23" y="40" width="1" height="1" fill="#772f66"/>
<rect x="24" y="40" width="1" height="1" fill="#762f65"/>
<rect x="25" y="40" width="2" height="1" fill="#762e65"/>
<rect x="27" y="40" width="1" height="1" fill="#7c3267"/>
<rect x="28" y="40" width="1" height="1" fill="#813568"/>
<rect x="29" y="40" width="3" height="1" fill="#833668"/>
<rect x="32" y="40" width="1" height="1" fill="#823668"/>
<rect x="33" y="40" width="1" height="1" fill="#803567"/>
<rect x="0" y="41" width="19" height="1" fill="#552498"/>
<rect x="19" y="41" width="1" height="1" fill="#873a6a"/>
<rect x="20" y="41" width="1" height="1" fill="#85386a"/>
<rect x="21" y="41" width="1" height="1" fill="#813669"/>
<rect x="22" y="41" width="1" height="1" fill="#7d3467"/>
<rect x="23" y="41" width="2" height="1" fill="#793066"/>
<rect x="25" y="41" width="1" height="1" fill="#7b3266"/>
<rect x="26" y="41" width="1" height="1" fill="#813668"/>
<rect x="27" y="41" width="1" height="1" fill="#853768"/>
<rect x="28" y="41" width="1" height="1" fill="#873869"/>
<rect x="29" y="41" width="1" height="1" fill="#89396a"/>
<rect x="30" y="41" width="1" height="1" fill="#8a3a6a"/>
<rect x="31" y="41" width="1" height="1" fill="#8c3b6a"/>
<rect x="32" y="41" width="1" height="1" fill="#89396a"/>
<rect x="33" y="41" width="1" height="1" fill="#833768"/>
<rect x="0" y="42" width="18" height="1" fill="#552498"/>
<rect x="18" y="42" width="1" height="1" fill="#85396a"/>
<rect x="19" y="42" width="1" height="1" fill="#893a6a"/>
<rect x="20" y="42" width="1" height="1" fill="#883a6a"/>
<rect x="21" y="42" width="1" height="1" fill="#823768"/>
<rect x="22" y="42" width="1" height="1" fill="#7c3367"/>
<rect x="23" y="42" width="1" height="1" fill="#7a3167"/>
<rect x="24" y="42" width="1" height="1" fill="#7d3367"/>
<rect x="25" y="42" width="1" height="1" fill="#823668"/>
<rect x="26" y="42" width="2" height="1" fill="#8f3b6a"/>
<rect x="28" y="42" width="1" height="1" fill="#903c6a"/>
<rect x="29" y="42" width="1" height="1" fill="#923e6b"/>
<rect x="30" y="42" width="1" height="1" fill="#96426d"/>
<rect x="31" y="42" width="1" height="1" fill="#9c466f"/>
<rect x="32" y="42" width="1" height="1" fill="#98426d"/>
<rect x="33" y="42" width="1" height="1" fill="#87396a"/>
<rect x="0" y="43" width="18" height="1" fill="#552498"/>
<rect x="18" y="43" width="1" height="1" fill="#84386a"/>
<rect x="19" y="43" width="1" height="1" fill="#883a6a"/>
<rect x="20" y="43" width="2" height="1" fill="#893b6a"/>
<rect x="22" y="43" width="1" height="1" fill="#823668"/>
<rect x="23" y="43" width="1" height="1" fill="#7f3468"/>
<rect x="24" y="43" width="1" height="1" fill="#803568"/>
<rect x="25" y="43" width="1" height="1" fill="#833768"/>
<rect x="26" y="43" width="1" height="1" fill="#8e3a6a"/>
<rect x="27" y="43" width="1" height="1" fill="#903b6a"/>
<rect x="28" y="43" width="1" height="1" fill="#903c6a"/>
<rect x="29" y="43" width="1" height="1" fill="#933e6c"/>
<rect x="30" y="43" width="1" height="1" fill="#9a456e"/>
<rect x="31" y="43" width="1" height="1" fill="#a04a71"/>
<rect x="32" y="43" width="1" height="1" fill="#99436d"/>
<rect x="33" y="43" width="1" height="1" fill="#85396a"/>
<rect x="0" y="44" width="17" height="1" fill="#552498"/>
<rect x="17" y="44" width="1" height="1" fill="#773368"/>
<rect x="18" y="44" width="1" height="1" fill="#81366a"/>
<rect x="19" y="44" width="1" height="1" fill="#85386a"/>
<rect x="20" y="44" width="1" height="1" fill="#943f6c"/>
<rect x="21" y="44" width="1" height="1" fill="#96406d"/>
<rect x="22" y="44" width="1" height="1" fill="#923e6c"/>
<rect x="23" y="44" width="1" height="1" fill="#8d3b6a"/>
<rect x="24" y="44" width="1" height="1" fill="#833669"/>
<rect x="25" y="44" width="1" height="1" fill="#813669"/>
<rect x="26" y="44" width="1" height="1" fill="#89396a"/>
<rect x="27" y="44" width="1" height="1" fill="#8d3a6a"/>
<rect x="28" y="44" width="1" height="1" fill="#8e3b6a"/>
<rect x="29" y="44" width="1" height="1" fill="#913e6b"/>
<rect x="30" y="44" width="1" height="1" fill="#98436d"/>
<rect x="31" y="44" width="1" height="1" fill="#a14a71"/>
<rect x="32" y="44" width="1" height="1" fill="#903d6b"/>
<rect x="33" y="44" width="1" height="1" fill="#7f3668"/>
<rect x="0" y="45" width="14" height="1" fill="#552498"/>
<rect x="14" y="45" width="1" height="1" fill="#7d366a"/>
<rect x="15" y="45" width="1" height="1" fill="#793569"/>
<rect x="16" y="45" width="1" height="1" fill="#763167"/>
<rect x="17" y="45" width="1" height="1" fill="#763067"/>
<rect x="18" y="45" width="1" height="1" fill="#7e3468"/>
<rect x="19" y="45" width="1" height="1" fill="#84386a"/>
<rect x="20" y="45" width="1" height="1" fill="#943f6d"/>
<rect x="21" y="45" width="1" height="1" fill="#953f6d"/>
<rect x="22" y="45" width="1" height="1" fill="#913e6c"/>
<rect x="23" y="45" width="1" height="1" fill="#8d3c6b"/>
<rect x="24" y="45" width="1" height="1" fill="#86396a"/>
<rect x="25" y="45" width="1" height="1" fill="#85386a"/>
<rect x="26" y="45" width="1" height="1" fill="#87396a"/>
<rect x="27" y="45" width="1" height="1" fill="#883a6a"/>
<rect x="28" y="45" width="1" height="1" fill="#8a3a6a"/>
<rect x="29" y="45" width="1" height="1" fill="#8d3c6a"/>
<rect x="30" y="45" width="1" height="1" fill="#943f6c"/>
<rect x="31" y="45" width="1" height="1" fill="#96416c"/>
<rect x="32" y="45" width="1" height="1" fill="#8f3c6a"/>
<rect x="33" y="45" width="1" height="1" fill="#7c3467"/>
<rect x="0" y="46" width="11" height="1" fill="#552498"/>
<rect x="11" y="46" width="1" height="1" fill="#86386a"/>
<rect x="12" y="46" width="1" height="1" fill="#833769"/>
<rect x="13" y="46" width="1" height="1" fill="#813569"/>
<rect x="14" y="46" width="1" height="1" fill="#7d3368"/>
<rect x="15" y="46" width="1" height="1" fill="#7a3167"/>
<rect x="16" y="46" width="1" height="1" fill="#773066"/>
<rect x="17" y="46" width="1" height="1" fill="#762f66"/>
<rect x="18" y="46" width="1" height="1" fill="#7e3468"/>
<rect x="19" y="46" width="1" height="1" fill="#85386a"/>
<rect x="20" y="46" width="1" height="1" fill="#923e6c"/>
<rect x="21" y="46" width="1" height="1" fill="#923f6d"/>
<rect x="22" y="46" width="1" height="1" fill="#8f3e6c"/>
<rect x="23" y="46" width="1" height="1" fill="#8c3d6b"/>
<rect x="24" y="46" width="1" height="1" fill="#883b6b"/>
<rect x="25" y="46" width="1" height="1" fill="#873a6a"/>
<rect x="26" y="46" width="1" height="1" fill="#863a6a"/>
<rect x="27" y="46" width="1" height="1" fill="#873a6a"/>
<rect x="28" y="46" width="1" height="1" fill="#883a6a"/>
<rect x="29" y="46" width="1" height="1" fill="#8a3a6a"/>
<rect x="30" y="46" width="2" height="1" fill="#8d3b6a"/>
<rect x="32" y="46" width="1" height="1" fill="#853668"/>
<rect x="33" y="46" width="1" height="1" fill="#793065"/>
<rect x="0" y="47" width="10" height="1" fill="#552498"/>
<rect x="10" y="47" width="1" height="1" fill="#8a396a"/>
<rect x="11" y="47" width="1" height="1" fill="#873769"/>
<rect x="12" y="47" width="1" height="1" fill="#813467"/>
<rect x="13" y="47" width="1" height="1" fill="#7e3268"/>
<rect x="14" y="47" width="1" height="1" fill="#7d3268"/>
<rect x="15" y="47" width="1" height="1" fill="#7e3468"/>
<rect x="16" y="47" width="1" height="1" fill="#823568"/>
<rect x="17" y="47" width="1" height="1" fill="#793166"/>
<rect x="18" y="47" width="1" height="1" fill="#823668"/>
<rect x="19" y="47" width="1" height="1" fill="#8a3a6a"/>
<rect x="20" y="47" width="1" height="1" fill="#8f3d6b"/>
<rect x="21" y="47" width="1" height="1" fill="#903e6c"/>
<rect x="22" y="47" width="1" height="1" fill="#8e3e6c"/>
<rect x="23" y="47" width="1" height="1" fill="#8d3e6c"/>
<rect x="24" y="47" width="1" height="1" fill="#8b3e6c"/>
<rect x="25" y="47" width="1" height="1" fill="#893c6b"/>
<rect x="26" y="47" width="1" height="1" fill="#883b6b"/>
<rect x="27" y="47" width="1" height="1" fill="#883b6a"/>
<rect x="28" y="47" width="1" height="1" fill="#893a6a"/>
<rect x="29" y="47" width="1" height="1" fill="#8a3a6a"/>
<rect x="30" y="47" width="1" height="1" fill="#8b3a6a"/>
<rect x="31" y="47" width="1" height="1" fill="#89396a"/>
<rect x="32" y="47" width="1" height="1" fill="#803468"/>
<rect x="33" y="47" width="1" height="1" fill="#793065"/>
<rect x="0" y="48" width="9" height="1" fill="#552498"/>
<rect x="9" y="48" width="1" height="1" fill="#96426f"/>
<rect x="10" y="48" width="1" height="1" fill="#8b3969"/>
<rect x="11" y="48" width="1" height="1" fill="#823467"/>
<rect x="12" y="48" width="1" height="1" fill="#7e3267"/>
<rect x="13" y="48" width="1" height="1" fill="#7c3167"/>
<rect x="14" y="48" width="1" height="1" fill="#7d3268"/>
<rect x="15" y="48" width="1" height="1" fill="#833669"/>
<rect x="16" y="48" width="1" height="1" fill="#883869"/>
<rect x="17" y="48" width="1" height="1" fill="#8c396a"/>
<rect x="18" y="48" width="1" height="1" fill="#8f3a6a"/>
<rect x="19" y="48" width="1" height="1" fill="#8f3b6b"/>
<rect x="20" y="48" width="1" height="1" fill="#8d3b6a"/>
<rect x="21" y="48" width="1" height="1" fill="#8c3c6b"/>
<rect x="22" y="48" width="1" height="1" fill="#8c3e6b"/>
<rect x="23" y="48" width="2" height="1" fill="#8d3f6c"/>
<rect x="25" y="48" width="1" height="1" fill="#8c3e6b"/>
<rect x="26" y="48" width="1" height="1" fill="#8c3d6b"/>
<rect x="27" y="48" width="2" height="1" fill="#8c3c6a"/>
<rect x="29" y="48" width="1" height="1" fill="#8c3b6a"/>
<rect x="30" y="48" width="1" height="1" fill="#8b3b6a"/>
<rect x="31" y="48" width="1" height="1" fill="#89396a"/>
<rect x="32" y="48" width="1" height="1" fill="#823669"/>
<rect x="33" y="48" width="1" height="1" fill="#7c3367"/>
<rect x="0" y="49" width="9" height="1" fill="#552498"/>
<rect x="9" y="49" width="1" height="1" fill="#903f6d"/>
<rect x="10" y="49" width="1" height="1" fill="#893869"/>
<rect x="11" y="49" width="1" height="1" fill="#823668"/>
<rect x="12" y="49" width="1" height="1" fill="#7e3368"/>
<rect x="13" y="49" width="1" height="1" fill="#7b3167"/>
<rect x="14" y="49" width="1" height="1" fill="#903c6a"/>
<rect x="15" y="49" width="1" height="1" fill="#913d6b"/>
<rect x="16" y="49" width="1" height="1" fill="#96406d"/>
<rect x="17" y="49" width="1" height="1" fill="#8d3b6a"/>
<rect x="18" y="49" width="1" height="1" fill="#913d6b"/>
<rect x="19" y="49" width="1" height="1" fill="#923d6b"/>
<rect x="20" y="49" width="1" height="1" fill="#8d3c6a"/>
<rect x="21" y="49" width="1" height="1" fill="#873a6a"/>
<rect x="22" y="49" width="1" height="1" fill="#873b6a"/>
<rect x="23" y="49" width="1" height="1" fill="#893c6a"/>
<rect x="24" y="49" width="1" height="1" fill="#8a3d6a"/>
<rect x="25" y="49" width="1" height="1" fill="#8b3c6a"/>
<rect x="26" y="49" width="3" height="1" fill="#8c3c6a"/>
<rect x="29" y="49" width="1" height="1" fill="#8c3b6a"/>
<rect x="30" y="49" width="1" height="1" fill="#8b3b6a"/>
<rect x="31" y="49" width="1" height="1" fill="#893a6a"/>
<rect x="32" y="49" width="1" height="1" fill="#85396a"/>
<rect x="33" y="49" width="1" height="1" fill="#84386a"/>
<rect x="0" y="50" width="11" height="1" fill="#552498"/>
<rect x="11" y="50" width="1" height="1" fill="#833769"/>
<rect x="12" y="50" width="1" height="1" fill="#823669"/>
<rect x="13" y="50" width="1" height="1" fill="#893869"/>
<rect x="14" y="50" width="1" height="1" fill="#953f6b"/>
<rect x="15" y="50" width="2" height="1" fill="#97416d"/>
<rect x="17" y="50" width="1" height="1" fill="#903e6c"/>
<rect x="18" y="50" width="1" height="1" fill="#94406c"/>
<rect x="19" y="50" width="1" height="1" fill="#97426d"/>
<rect x="20" y="50" width="1" height="1" fill="#8b3c6a"/>
<rect x="21" y="50" width="1" height="1" fill="#853a69"/>
<rect x="22" y="50" width="1" height="1" fill="#823969"/>
<rect x="23" y="50" width="1" height="1" fill="#813969"/>
<rect x="24" y="50" width="1" height="1" fill="#833a69"/>
<rect x="25" y="50" width="1" height="1" fill="#853a6a"/>
<rect x="26" y="50" width="1" height="1" fill="#873a6a"/>
<rect x="27" y="50" width="1" height="1" fill="#893a6a"/>
<rect x="28" y="50" width="1" height="1" fill="#8a3a6a"/>
<rect x="29" y="50" width="1" height="1" fill="#8a3b6a"/>
<rect x="30" y="50" width="1" height="1" fill="#893a6a"/>
<rect x="31" y="50" width="3" height="1" fill="#873a6a"/>
<rect x="0" y="51" width="11" height="1" fill="#552498"/>
<rect x="11" y="51" width="1" height="1" fill="#98436e"/>
<rect x="12" y="51" width="1" height="1" fill="#99436e"/>
<rect x="13" y="51" width="1" height="1" fill="#99426d"/>
<rect x="14" y="51" width="1" height="1" fill="#98426d"/>
<rect x="15" y="51" width="1" height="1" fill="#97416d"/>
<rect x="16" y="51" width="1" height="1" fill="#96416d"/>
<rect x="17" y="51" width="1" height="1" fill="#8e3d6b"/>
<rect x="18" y="51" width="1" height="1" fill="#8c3c6a"/>
<rect x="19" y="51" width="1" height="1" fill="#8b3c6a"/>
<rect x="20" y="51" width="1" height="1" fill="#8a3c6a"/>
<rect x="21" y="51" width="1" height="1" fill="#853b6a"/>
<rect x="22" y="51" width="1" height="1" fill="#803969"/>
<rect x="23" y="51" width="1" height="1" fill="#7e3868"/>
<rect x="24" y="51" width="1" height="1" fill="#7d3768"/>
<rect x="25" y="51" width="1" height="1" fill="#7e3768"/>
<rect x="26" y="51" width="1" height="1" fill="#813869"/>
<rect x="27" y="51" width="1" height="1" fill="#863969"/>
<rect x="28" y="51" width="1" height="1" fill="#8a3a6a"/>
<rect x="29" y="51" width="1" height="1" fill="#8a3b6a"/>
<rect x="30" y="51" width="1" height="1" fill="#863a6a"/>
<rect x="31" y="51" width="1" height="1" fill="#85396a"/>
<rect x="32" y="51" width="2" height="1" fill="#883a6a"/>
<rect x="0" y="52" width="11" height="1" fill="#552498"/>
<rect x="11" y="52" width="1" height="1" fill="#9d4771"/>
<rect x="12" y="52" width="1" height="1" fill="#9f4870"/>
<rect x="13" y="52" width="1" height="1" fill="#a14870"/>
<rect x="14" y="52" width="1" height="1" fill="#9e466f"/>
<rect x="15" y="52" width="1" height="1" fill="#933f6c"/>
<rect x="16" y="52" width="1" height="1" fill="#903c6b"/>
<rect x="17" y="52" width="1" height="1" fill="#8d3b6a"/>
<rect x="18" y="52" width="2" height="1" fill="#8b3b6a"/>
<rect x="20" y="52" width="1" height="1" fill="#8c3c6b"/>
<rect x="21" y="52" width="1" height="1" fill="#8a3c6a"/>
<rect x="22" y="52" width="1" height="1" fill="#823969"/>
<rect x="23" y="52" width="1" height="1" fill="#7d3668"/>
<rect x="24" y="52" width="1" height="1" fill="#7b3467"/>
<rect x="25" y="52" width="1" height="1" fill="#7c3467"/>
<rect x="26" y="52" width="1" height="1" fill="#813668"/>
<rect x="27" y="52" width="1" height="1" fill="#873869"/>
<rect x="28" y="52" width="1" height="1" fill="#8b3969"/>
<rect x="29" y="52" width="1" height="1" fill="#883969"/>
<rect x="30" y="52" width="1" height="1" fill="#7f3668"/>
<rect x="31" y="52" width="1" height="1" fill="#86396a"/>
<rect x="32" y="52" width="1" height="1" fill="#893a6a"/>
<rect x="33" y="52" width="1" height="1" fill="#8a3a6a"/>
<rect x="0" y="53" width="11" height="1" fill="#552498"/>
<rect x="11" y="53" width="1" height="1" fill="#90426e"/>
<rect x="12" y="53" width="1" height="1" fill="#a04870"/>
<rect x="13" y="53" width="1" height="1" fill="#a1486f"/>
<rect x="14" y="53" width="1" height="1" fill="#98436e"/>
<rect x="15" y="53" width="1" height="1" fill="#913e6c"/>
<rect x="16" y="53" width="1" height="1" fill="#8e3c6b"/>
<rect x="17" y="53" width="1" height="1" fill="#8c3969"/>
<rect x="18" y="53" width="1" height="1" fill="#8d3b6a"/>
<rect x="19" y="53" width="1" height="1" fill="#8f3c6a"/>
<rect x="20" y="53" width="2" height="1" fill="#903c6a"/>
<rect x="22" y="53" width="1" height="1" fill="#8e3c6a"/>
<rect x="23" y="53" width="2" height="1" fill="#8a3b6a"/>
<rect x="25" y="53" width="1" height="1" fill="#893a6a"/>
<rect x="26" y="53" width="1" height="1" fill="#883969"/>
<rect x="27" y="53" width="2" height="1" fill="#883869"/>
<rect x="29" y="53" width="1" height="1" fill="#863769"/>
<rect x="30" y="53" width="1" height="1" fill="#843769"/>
<rect x="31" y="53" width="1" height="1" fill="#883a6a"/>
<rect x="32" y="53" width="1" height="1" fill="#8d3b6a"/>
<rect x="33" y="53" width="1" height="1" fill="#8e3c6a"/>
<rect x="0" y="54" width="13" height="1" fill="#552498"/>
<rect x="13" y="54" width="1" height="1" fill="#9e476f"/>
<rect x="14" y="54" width="1" height="1" fill="#92416e"/>
<rect x="15" y="54" width="1" height="1" fill="#8e3e6d"/>
<rect x="16" y="54" width="1" height="1" fill="#8f3d6c"/>
<rect x="17" y="54" width="1" height="1" fill="#8b3969"/>
<rect x="18" y="54" width="1" height="1" fill="#8d3b6a"/>
<rect x="19" y="54" width="1" height="1" fill="#8f3c6a"/>
<rect x="20" y="54" width="2" height="1" fill="#923c6a"/>
<rect x="22" y="54" width="1" height="1" fill="#8f3c6a"/>
<rect x="23" y="54" width="1" height="1" fill="#8e3c6a"/>
<rect x="24" y="54" width="1" height="1" fill="#903d6b"/>
<rect x="25" y="54" width="1" height="1" fill="#8e3c6b"/>
<rect x="26" y="54" width="1" height="1" fill="#8b3a6a"/>
<rect x="27" y="54" width="1" height="1" fill="#893969"/>
<rect x="28" y="54" width="2" height="1" fill="#823669"/>
<rect x="30" y="54" width="1" height="1" fill="#853869"/>
<rect x="31" y="54" width="1" height="1" fill="#8a3a6a"/>
<rect x="32" y="54" width="1" height="1" fill="#8d3b6a"/>
<rect x="33" y="54" width="1" height="1" fill="#8e3c6a"/>
<rect x="0" y="55" width="14" height="1" fill="#552498"/>
<rect x="14" y="55" width="1" height="1" fill="#90416e"/>
<rect x="15" y="55" width="1" height="1" fill="#91416e"/>
<rect x="16" y="55" width="1" height="1" fill="#95416d"/>
<rect x="17" y="55" width="2" height="1" fill="#893869"/>
<rect x="19" y="55" width="3" height="1" fill="#893a6a"/>
<rect x="22" y="55" width="1" height="1" fill="#8a3b6a"/>
<rect x="23" y="55" width="1" height="1" fill="#8e3c6a"/>
<rect x="24" y="55" width="1" height="1" fill="#95406c"/>
<rect x="25" y="55" width="1" height="1" fill="#96416d"/>
<rect x="26" y="55" width="1" height="1" fill="#923e6c"/>
<rect x="27" y="55" width="2" height="1" fill="#903d6b"/>
<rect x="29" y="55" width="1" height="1" fill="#8f3d6b"/>
<rect x="30" y="55" width="1" height="1" fill="#8f3c6b"/>
<rect x="31" y="55" width="1" height="1" fill="#8e3c6a"/>
<rect x="32" y="55" width="1" height="1" fill="#8c3b6a"/>
<rect x="33" y="55" width="1" height="1" fill="#8b3b6a"/>
<rect x="0" y="56" width="15" height="1" fill="#552498"/>
<rect x="15" y="56" width="1" height="1" fill="#92416e"/>
<rect x="16" y="56" width="1" height="1" fill="#96416d"/>
<rect x="17" y="56" width="1" height="1" fill="#893869"/>
<rect x="18" y="56" width="1" height="1" fill="#853869"/>
<rect x="19" y="56" width="1" height="1" fill="#80386b"/>
<rect x="20" y="56" width="1" height="1" fill="#7f386c"/>
<rect x="21" y="56" width="1" height="1" fill="#80386c"/>
<rect x="22" y="56" width="1" height="1" fill="#85396b"/>
<rect x="23" y="56" width="1" height="1" fill="#8a3b6a"/>
<rect x="24" y="56" width="1" height="1" fill="#903d6b"/>
<rect x="25" y="56" width="1" height="1" fill="#97416d"/>
<rect x="26" y="56" width="2" height="1" fill="#98426d"/>
<rect x="28" y="56" width="1" height="1" fill="#96426d"/>
<rect x="29" y="56" width="1" height="1" fill="#923f6d"/>
<rect x="30" y="56" width="1" height="1" fill="#913e6c"/>
<rect x="31" y="56" width="1" height="1" fill="#903d6b"/>
<rect x="32" y="56" width="1" height="1" fill="#8e3c6b"/>
<rect x="33" y="56" width="1" height="1" fill="#8a3b6a"/>
<rect x="0" y="57" width="15" height="1" fill="#552498"/>
<rect x="15" y="57" width="1" height="1" fill="#92416e"/>
<rect x="16" y="57" width="1" height="1" fill="#96426d"/>
<rect x="17" y="57" width="1" height="1" fill="#913e6b"/>
<rect x="18" y="57" width="1" height="1" fill="#92406d"/>
<rect x="19" y="57" width="1" height="1" fill="#98426e"/>
<rect x="20" y="57" width="1" height="1" fill="#98426d"/>
<rect x="21" y="57" width="1" height="1" fill="#8f3d6b"/>
<rect x="22" y="57" width="1" height="1" fill="#8a3b6b"/>
<rect x="23" y="57" width="1" height="1" fill="#8b3b6b"/>
<rect x="24" y="57" width="1" height="1" fill="#913e6c"/>
<rect x="25" y="57" width="1" height="1" fill="#98426d"/>
<rect x="26" y="57" width="1" height="1" fill="#9e476f"/>
<rect x="27" y="57" width="1" height="1" fill="#9f4971"/>
<rect x="28" y="57" width="1" height="1" fill="#a34e73"/>
<rect x="29" y="57" width="1" height="1" fill="#a34e74"/>
<rect x="30" y="57" width="1" height="1" fill="#9f4a72"/>
<rect x="31" y="57" width="1" height="1" fill="#9e4971"/>
<rect x="32" y="57" width="1" height="1" fill="#9e4870"/>
<rect x="33" y="57" width="1" height="1" fill="#a7ae97"/>
<rect x="0" y="58" width="16" height="1" fill="#552498"/>
<rect x="16" y="58" width="1" height="1" fill="#9c466e"/>
<rect x="17" y="58" width="1" height="1" fill="#99436d"/>
<rect x="18" y="58" width="1" height="1" fill="#a14870"/>
<rect x="19" y="58" width="1" height="1" fill="#a74c71"/>
<rect x="20" y="58" width="1" height="1" fill="#a1476f"/>
<rect x="21" y="58" width="1" height="1" fill="#96406d"/>
<rect x="22" y="58" width="1" height="1" fill="#903d6b"/>
<rect x="23" y="58" width="1" height="1" fill="#8f3d6b"/>
<rect x="24" y="58" width="1" height="1" fill="#92406d"/>
<rect x="25" y="58" width="1" height="1" fill="#9d486f"/>
<rect x="26" y="58" width="1" height="1" fill="#a14c72"/>
<rect x="27" y="58" width="2" height="1" fill="#a85376"/>
<rect x="29" y="58" width="1" height="1" fill="#a95477"/>
<rect x="30" y="58" width="1" height="1" fill="#ad5779"/>
<rect x="31" y="58" width="1" height="1" fill="#b0597a"/>
<rect x="32" y="58" width="1" height="1" fill="#af5778"/>
<rect x="33" y="58" width="1" height="1" fill="#d7d2ac"/>
<rect x="0" y="59" width="16" height="1" fill="#552498"/>
<rect x="16" y="59" width="1" height="1" fill="#9d466e"/>
<rect x="17" y="59" width="1" height="1" fill="#98436e"/>
<rect x="18" y="59" width="1" height="1" fill="#9c446e"/>
<rect x="19" y="59" width="1" height="1" fill="#9d446e"/>
<rect x="20" y="59" width="1" height="1" fill="#97426d"/>
<rect x="21" y="59" width="1" height="1" fill="#92406d"/>
<rect x="22" y="59" width="1" height="1" fill="#923f6c"/>
<rect x="23" y="59" width="1" height="1" fill="#913e6c"/>
<rect x="24" y="59" width="1" height="1" fill="#92416e"/>
<rect x="25" y="59" width="1" height="1" fill="#974670"/>
<rect x="26" y="59" width="1" height="1" fill="#994a73"/>
<rect x="27" y="59" width="1" height="1" fill="#9b4e76"/>
<rect x="28" y="59" width="1" height="1" fill="#9b4f77"/>
<rect x="29" y="59" width="1" height="1" fill="#984e78"/>
<rect x="30" y="59" width="1" height="1" fill="#974e78"/>
<rect x="31" y="59" width="1" height="1" fill="#984e78"/>
<rect x="32" y="59" width="1" height="1" fill="#aebeab"/>
<rect x="33" y="59" width="1" height="1" fill="#b7baa4"/>
<rect x="0" y="60" width="17" height="1" fill="#552498"/>
<rect x="17" y="60" width="1" height="1" fill="#92406e"/>
<rect x="18" y="60" width="1" height="1" fill="#903f6d"/>
<rect x="19" y="60" width="1" height="1" fill="#8d3f6d"/>
<rect x="20" y="60" width="1" height="1" fill="#8f406d"/>
<rect x="21" y="60" width="1" height="1" fill="#92416d"/>
<rect x="22" y="60" width="1" height="1" fill="#93416c"/>
<rect x="23" y="60" width="1" height="1" fill="#92416d"/>
<rect x="24" y="60" width="1" height="1" fill="#904471"/>
<rect x="25" y="60" width="7" height="1" fill="#552498"/>
<rect x="32" y="60" width="2" height="1" fill="#005bff"/>
</g>
<g transform="translate(1730.00 53.10) scale(19.6176 19.5852)">
<rect x="0" y="0" width="2" height="1" fill="#ff0000"/>
<rect x="2" y="0" width="1" height="1" fill="#ff3333"/>
<rect x="3" y="0" width="2" height="1" fill="#bb295b"/>
<rect x="5" y="0" width="1" height="1" fill="#bb3365"/>
<rect x="6" y="0" width="1" height="1" fill="#bb295b"/>
<rect x="7" y="0" width="1" height="1" fill="#bb1f51"/>
<rect x="8" y="0" width="2" height="1" fill="#bb1446"/>
<rect x="10" y="0" width="2" height="1" fill="#bb0a3c"/>
<rect x="12" y="0" width="1" height="1" fill="#bb1f51"/>
<rect x="13" y="0" width="1" height="1" fill="#bb5c8e"/>
<rect x="14" y="0" width="1" height="1" fill="#bb6698"/>
<rect x="15" y="0" width="1" height="1" fill="#883398"/>
<rect x="16" y="0" width="1" height="1" fill="#bb6698"/>
<rect x="17" y="0" width="1" height="1" fill="#bb3d6f"/>
<rect x="18" y="0" width="1" height="1" fill="#bb3365"/>
<rect x="19" y="0" width="1" height="1" fill="#bb295b"/>
<rect x="20" y="0" width="1" height="1" fill="#bb1f51"/>
<rect x="21" y="0" width="9" height="1" fill="#bb1446"/>
<rect x="30" y="0" width="4" height="1" fill="#bb0a3c"/>
<rect x="0" y="1" width="2" height="1" fill="#ff0000"/>
<rect x="2" y="1" width="1" height="1" fill="#bb0a3c"/>
<rect x="3" y="1" width="1" height="1" fill="#bb1f51"/>
<rect x="4" y="1" width="1" height="1" fill="#bb295b"/>
<rect x="5" y="1" width="1" height="1" fill="#bb5284"/>
<rect x="6" y="1" width="1" height="1" fill="#bb3d6f"/>
<rect x="7" y="1" width="6" height="1" fill="#bb295b"/>
<rect x="13" y="1" width="1" height="1" fill="#bb5c8e"/>
<rect x="14" y="1" width="1" height="1" fill="#9c4798"/>
<rect x="15" y="1" width="1" height="1" fill="#782398"/>
<rect x="16" y="1" width="1" height="1" fill="#923d98"/>
<rect x="17" y="1" width="1" height="1" fill="#bb5c8e"/>
<rect x="18" y="1" width="1" height="1" fill="#bb5284"/>
<rect x="19" y="1" width="1" height="1" fill="#bb4779"/>
<rect x="20" y="1" width="1" height="1" fill="#bb295b"/>
<rect x="21" y="1" width="1" height="1" fill="#bb1f51"/>
<rect x="22" y="1" width="8" height="1" fill="#bb1446"/>
<rect x="30" y="1" width="4" height="1" fill="#bb0a3c"/>
<rect x="0" y="2" width="2" height="1" fill="#ff0000"/>
<rect x="2" y="2" width="1" height="1" fill="#bb0a3c"/>
<rect x="3" y="2" width="1" height="1" fill="#bb1446"/>
<rect x="4" y="2" width="1" height="1" fill="#bb295b"/>
<rect x="5" y="2" width="2" height="1" fill="#9c4798"/>
<rect x="7" y="2" width="1" height="1" fill="#a75298"/>
<rect x="8" y="2" width="1" height="1" fill="#bb6698"/>
<rect x="9" y="2" width="4" height="1" fill="#bb5c8e"/>
<rect x="13" y="2" width="1" height="1" fill="#9c4798"/>
<rect x="14" y="2" width="1" height="1" fill="#7e2998"/>
<rect x="15" y="2" width="1" height="1" fill="#550098"/>
<rect x="16" y="2" width="1" height="1" fill="#691498"/>
<rect x="17" y="2" width="1" height="1" fill="#7e2998"/>
<rect x="18" y="2" width="1" height="1" fill="#923d98"/>
<rect x="19" y="2" width="1" height="1" fill="#9c4798"/>
<rect x="20" y="2" width="1" height="1" fill="#bb5284"/>
<rect x="21" y="2" width="1" height="1" fill="#bb3d6f"/>
<rect x="22" y="2" width="1" height="1" fill="#bb1f51"/>
<rect x="23" y="2" width="7" height="1" fill="#bb1446"/>
<rect x="30" y="2" width="4" height="1" fill="#bb0a3c"/>
<rect x="0" y="3" width="1" height="1" fill="#ff0000"/>
<rect x="1" y="3" width="1" height="1" fill="#bb0032"/>
<rect x="2" y="3" width="1" height="1" fill="#bb0a3c"/>
<rect x="3" y="3" width="1" height="1" fill="#bb1446"/>
<rect x="4" y="3" width="1" height="1" fill="#bb295b"/>
<rect x="5" y="3" width="1" height="1" fill="#bb6698"/>
<rect x="6" y="3" width="1" height="1" fill="#a75298"/>
<rect x="7" y="3" width="1" height="1" fill="#883398"/>
<rect x="8" y="3" width="1" height="1" fill="#9c4798"/>
<rect x="9" y="3" width="1" height="1" fill="#a75298"/>
<rect x="10" y="3" width="3" height="1" fill="#b15c98"/>
<rect x="13" y="3" width="1" height="1" fill="#923d98"/>
<rect x="14" y="3" width="1" height="1" fill="#7e2998"/>
<rect x="15" y="3" width="1" height="1" fill="#691498"/>
<rect x="16" y="3" width="1" height="1" fill="#782398"/>
<rect x="17" y="3" width="1" height="1" fill="#7e2998"/>
<rect x="18" y="3" width="1" height="1" fill="#923d98"/>
<rect x="19" y="3" width="1" height="1" fill="#a75298"/>
<rect x="20" y="3" width="1" height="1" fill="#bb6698"/>
<rect x="21" y="3" width="1" height="1" fill="#bb4779"/>
<rect x="22" y="3" width="1" height="1" fill="#bb295b"/>
<rect x="23" y="3" width="1" height="1" fill="#bb1f51"/>
<rect x="24" y="3" width="6" height="1" fill="#bb1446"/>
<rect x="30" y="3" width="4" height="1" fill="#bb0a3c"/>
<rect x="0" y="4" width="1" height="1" fill="#ff0000"/>
<rect x="1" y="4" width="1" height="1" fill="#bb0032"/>
<rect x="2" y="4" width="2" height="1" fill="#bb0a3c"/>
<rect x="4" y="4" width="1" height="1" fill="#bb295b"/>
<rect x="5" y="4" width="1" height="1" fill="#bb6698"/>
<rect x="6" y="4" width="1" height="1" fill="#9c4798"/>
<rect x="7" y="4" width="6" height="1" fill="#782398"/>
<rect x="13" y="4" width="1" height="1" fill="#7e2998"/>
<rect x="14" y="4" width="2" height="1" fill="#782398"/>
<rect x="16" y="4" width="1" height="1" fill="#7e2998"/>
<rect x="17" y="4" width="1" height="1" fill="#883398"/>
<rect x="18" y="4" width="1" height="1" fill="#9c4798"/>
<rect x="19" y="4" width="1" height="1" fill="#b15c98"/>
<rect x="20" y="4" width="1" height="1" fill="#bb6698"/>
<rect x="21" y="4" width="1" height="1" fill="#bb5c8e"/>
<rect x="22" y="4" width="1" height="1" fill="#bb3365"/>
<rect x="23" y="4" width="1" height="1" fill="#bb295b"/>
<rect x="24" y="4" width="1" height="1" fill="#bb1f51"/>
<rect x="25" y="4" width="5" height="1" fill="#bb1446"/>
<rect x="30" y="4" width="4" height="1" fill="#bb0a3c"/>
<rect x="0" y="5" width="1" height="1" fill="#ff0000"/>
<rect x="1" y="5" width="1" height="1" fill="#bb0032"/>
<rect x="2" y="5" width="2" height="1" fill="#bb0a3c"/>
<rect x="4" y="5" width="1" height="1" fill="#bb295b"/>
<rect x="5" y="5" width="1" height="1" fill="#bb6698"/>
<rect x="6" y="5" width="1" height="1" fill="#9c4798"/>
<rect x="7" y="5" width="1" height="1" fill="#782398"/>
<rect x="8" y="5" width="6" height="1" fill="#7e2998"/>
<rect x="14" y="5" width="2" height="1" fill="#782398"/>
<rect x="16" y="5" width="1" height="1" fill="#7e2998"/>
<rect x="17" y="5" width="1" height="1" fill="#883398"/>
<rect x="18" y="5" width="1" height="1" fill="#923d98"/>
<rect x="19" y="5" width="1" height="1" fill="#a75298"/>
<rect x="20" y="5" width="1" height="1" fill="#b15c98"/>
<rect x="21" y="5" width="1" height="1" fill="#bb6698"/>
<rect x="22" y="5" width="1" height="1" fill="#bb4779"/>
<rect x="23" y="5" width="1" height="1" fill="#bb3365"/>
<rect x="24" y="5" width="1" height="1" fill="#bb295b"/>
<rect x="25" y="5" width="5" height="1" fill="#bb1446"/>
<rect x="30" y="5" width="4" height="1" fill="#bb0a3c"/>
<rect x="0" y="6" width="1" height="1" fill="#ff0000"/>
<rect x="1" y="6" width="1" height="1" fill="#bb0032"/>
<rect x="2" y="6" width="2" height="1" fill="#bb0a3c"/>
<rect x="4" y="6" width="1" height="1" fill="#bb295b"/>
<rect x="5" y="6" width="1" height="1" fill="#bb6698"/>
<rect x="6" y="6" width="1" height="1" fill="#9c4798"/>
<rect x="7" y="6" width="8" height="1" fill="#7e2998"/>
<rect x="15" y="6" width="1" height="1" fill="#782398"/>
<rect x="16" y="6" width="1" height="1" fill="#7e2998"/>
<rect x="17" y="6" width="1" height="1" fill="#923d98"/>
<rect x="18" y="6" width="3" height="1" fill="#9c4798"/>
<rect x="21" y="6" width="1" height="1" fill="#a75298"/>
<rect x="22" y="6" width="1" height="1" fill="#bb5c8e"/>
<rect x="23" y="6" width="1" height="1" fill="#bb3365"/>
<rect x="24" y="6" width="1" height="1" fill="#bb295b"/>
<rect x="25" y="6" width="1" height="1" fill="#bb1f51"/>
<rect x="26" y="6" width="4" height="1" fill="#bb1446"/>
<rect x="30" y="6" width="4" height="1" fill="#bb0a3c"/>
<rect x="0" y="7" width="1" height="1" fill="#ff3333"/>
<rect x="1" y="7" width="2" height="1" fill="#bb0a3c"/>
<rect x="3" y="7" width="1" height="1" fill="#bb1446"/>
<rect x="4" y="7" width="1" height="1" fill="#bb3365"/>
<rect x="5" y="7" width="1" height="1" fill="#9c4798"/>
<rect x="6" y="7" width="1" height="1" fill="#923d98"/>
<rect x="7" y="7" width="10" height="1" fill="#7e2998"/>
<rect x="17" y="7" width="1" height="1" fill="#883398"/>
<rect x="18" y="7" width="4" height="1" fill="#9c4798"/>
<rect x="22" y="7" width="1" height="1" fill="#b15c98"/>
<rect x="23" y="7" width="1" height="1" fill="#bb5284"/>
<rect x="24" y="7" width="1" height="1" fill="#bb3365"/>
<rect x="25" y="7" width="1" height="1" fill="#bb1f51"/>
<rect x="26" y="7" width="4" height="1" fill="#bb1446"/>
<rect x="30" y="7" width="4" height="1" fill="#bb0a3c"/>
<rect x="0" y="8" width="1" height="1" fill="#ff4d4d"/>
<rect x="1" y="8" width="1" height="1" fill="#bb1f51"/>
<rect x="2" y="8" width="1" height="1" fill="#bb295b"/>
<rect x="3" y="8" width="1" height="1" fill="#bb3d6f"/>
<rect x="4" y="8" width="1" height="1" fill="#bb5c8e"/>
<rect x="5" y="8" width="1" height="1" fill="#5f0a98"/>
<rect x="6" y="8" width="1" height="1" fill="#691498"/>
<rect x="7" y="8" width="9" height="1" fill="#7e2998"/>
<rect x="16" y="8" width="1" height="1" fill="#883398"/>
<rect x="17" y="8" width="1" height="1" fill="#923d98"/>
<rect x="18" y="8" width="1" height="1" fill="#9c4798"/>
<rect x="19" y="8" width="5" height="1" fill="#a75298"/>
<rect x="24" y="8" width="1" height="1" fill="#bb4779"/>
<rect x="25" y="8" width="1" height="1" fill="#bb295b"/>
<rect x="26" y="8" width="1" height="1" fill="#bb1f51"/>
<rect x="27" y="8" width="5" height="1" fill="#bb1446"/>
<rect x="32" y="8" width="2" height="1" fill="#bb0a3c"/>
<rect x="0" y="9" width="2" height="1" fill="#bb295b"/>
<rect x="2" y="9" width="1" height="1" fill="#bb4779"/>
<rect x="3" y="9" width="1" height="1" fill="#bb6698"/>
<rect x="4" y="9" width="1" height="1" fill="#9c4798"/>
<rect x="5" y="9" width="1" height="1" fill="#5f0a98"/>
<rect x="6" y="9" width="1" height="1" fill="#782398"/>
<rect x="7" y="9" width="9" height="1" fill="#7e2998"/>
<rect x="16" y="9" width="1" height="1" fill="#883398"/>
<rect x="17" y="9" width="2" height="1" fill="#923d98"/>
<rect x="19" y="9" width="3" height="1" fill="#9c4798"/>
<rect x="22" y="9" width="2" height="1" fill="#923d98"/>
<rect x="24" y="9" width="1" height="1" fill="#bb6698"/>
<rect x="25" y="9" width="1" height="1" fill="#bb3365"/>
<rect x="26" y="9" width="1" height="1" fill="#bb295b"/>
<rect x="27" y="9" width="1" height="1" fill="#bb1f51"/>
<rect x="28" y="9" width="6" height="1" fill="#bb1446"/>
<rect x="0" y="10" width="1" height="1" fill="#ffe5e5"/>
<rect x="1" y="10" width="1" height="1" fill="#bb6698"/>
<rect x="2" y="10" width="1" height="1" fill="#b15c98"/>
<rect x="3" y="10" width="1" height="1" fill="#7e2998"/>
<rect x="4" y="10" width="1" height="1" fill="#782398"/>
<rect x="5" y="10" width="9" height="1" fill="#7e2998"/>
<rect x="14" y="10" width="1" height="1" fill="#782398"/>
<rect x="15" y="10" width="2" height="1" fill="#7e2998"/>
<rect x="17" y="10" width="1" height="1" fill="#883398"/>
<rect x="18" y="10" width="4" height="1" fill="#923d98"/>
<rect x="22" y="10" width="2" height="1" fill="#883398"/>
<rect x="24" y="10" width="1" height="1" fill="#bb6698"/>
<rect x="25" y="10" width="1" height="1" fill="#bb3d6f"/>
<rect x="26" y="10" width="1" height="1" fill="#bb295b"/>
<rect x="27" y="10" width="1" height="1" fill="#bb1f51"/>
<rect x="28" y="10" width="6" height="1" fill="#bb1446"/>
<rect x="0" y="11" width="1" height="1" fill="#ccccff"/>
<rect x="1" y="11" width="1" height="1" fill="#b15c98"/>
<rect x="2" y="11" width="1" height="1" fill="#923d98"/>
<rect x="3" y="11" width="11" height="1" fill="#782398"/>
<rect x="14" y="11" width="3" height="1" fill="#7e2998"/>
<rect x="17" y="11" width="5" height="1" fill="#883398"/>
<rect x="22" y="11" width="1" height="1" fill="#a75298"/>
<rect x="23" y="11" width="1" height="1" fill="#b15c98"/>
<rect x="24" y="11" width="1" height="1" fill="#bb5c8e"/>
<rect x="25" y="11" width="1" height="1" fill="#bb3d6f"/>
<rect x="26" y="11" width="1" height="1" fill="#bb295b"/>
<rect x="27" y="11" width="1" height="1" fill="#bb1f51"/>
<rect x="28" y="11" width="6" height="1" fill="#bb1446"/>
<rect x="0" y="12" width="1" height="1" fill="#6666ff"/>
<rect x="1" y="12" width="13" height="1" fill="#782398"/>
<rect x="14" y="12" width="4" height="1" fill="#7e2998"/>
<rect x="18" y="12" width="4" height="1" fill="#883398"/>
<rect x="22" y="12" width="1" height="1" fill="#a75298"/>
<rect x="23" y="12" width="1" height="1" fill="#b15c98"/>
<rect x="24" y="12" width="1" height="1" fill="#bb5c8e"/>
<rect x="25" y="12" width="1" height="1" fill="#bb3d6f"/>
<rect x="26" y="12" width="1" height="1" fill="#bb295b"/>
<rect x="27" y="12" width="7" height="1" fill="#bb1446"/>
<rect x="0" y="13" width="1" height="1" fill="#5757ff"/>
<rect x="1" y="13" width="13" height="1" fill="#782398"/>
<rect x="14" y="13" width="4" height="1" fill="#7e2998"/>
<rect x="18" y="13" width="4" height="1" fill="#883398"/>
<rect x="22" y="13" width="1" height="1" fill="#a75298"/>
<rect x="23" y="13" width="1" height="1" fill="#b15c98"/>
<rect x="24" y="13" width="1" height="1" fill="#bb5c8e"/>
<rect x="25" y="13" width="1" height="1" fill="#bb3d6f"/>
<rect x="26" y="13" width="1" height="1" fill="#bb295b"/>
<rect x="27" y="13" width="7" height="1" fill="#bb1446"/>
<rect x="0" y="14" width="1" height="1" fill="#5757ff"/>
<rect x="1" y="14" width="13" height="1" fill="#782398"/>
<rect x="14" y="14" width="5" height="1" fill="#7e2998"/>
<rect x="19" y="14" width="3" height="1" fill="#883398"/>
<rect x="22" y="14" width="1" height="1" fill="#a75298"/>
<rect x="23" y="14" width="1" height="1" fill="#b15c98"/>
<rect x="24" y="14" width="1" height="1" fill="#bb5284"/>
<rect x="25" y="14" width="1" height="1" fill="#bb3d6f"/>
<rect x="26" y="14" width="1" height="1" fill="#bb295b"/>
<rect x="27" y="14" width="7" height="1" fill="#bb1446"/>
<rect x="0" y="15" width="1" height="1" fill="#5757ff"/>
<rect x="1" y="15" width="14" height="1" fill="#782398"/>
<rect x="15" y="15" width="7" height="1" fill="#7e2998"/>
<rect x="22" y="15" width="1" height="1" fill="#9c4798"/>
<rect x="23" y="15" width="1" height="1" fill="#b15c98"/>
<rect x="24" y="15" width="1" height="1" fill="#bb5284"/>
<rect x="25" y="15" width="1" height="1" fill="#bb3365"/>
<rect x="26" y="15" width="1" height="1" fill="#bb295b"/>
<rect x="27" y="15" width="7" height="1" fill="#bb1446"/>
<rect x="0" y="16" width="1" height="1" fill="#5757ff"/>
<rect x="1" y="16" width="1" height="1" fill="#6666ff"/>
<rect x="2" y="16" width="12" height="1" fill="#782398"/>
<rect x="14" y="16" width="5" height="1" fill="#7e2998"/>
<rect x="19" y="16" width="1" height="1" fill="#782398"/>
<rect x="20" y="16" width="2" height="1" fill="#5f0a98"/>
<rect x="22" y="16" width="1" height="1" fill="#923d98"/>
<rect x="23" y="16" width="1" height="1" fill="#b15c98"/>
<rect x="24" y="16" width="1" height="1" fill="#bb5284"/>
<rect x="25" y="16" width="1" height="1" fill="#bb3365"/>
<rect x="26" y="16" width="1" height="1" fill="#bb295b"/>
<rect x="27" y="16" width="7" height="1" fill="#bb1446"/>
<rect x="0" y="17" width="1" height="1" fill="#5757ff"/>
<rect x="1" y="17" width="14" height="1" fill="#782398"/>
<rect x="15" y="17" width="5" height="1" fill="#7e2998"/>
<rect x="20" y="17" width="2" height="1" fill="#883398"/>
<rect x="22" y="17" width="1" height="1" fill="#9c4798"/>
<rect x="23" y="17" width="1" height="1" fill="#b15c98"/>
<rect x="24" y="17" width="1" height="1" fill="#bb5284"/>
<rect x="25" y="17" width="1" height="1" fill="#bb3365"/>
<rect x="26" y="17" width="1" height="1" fill="#bb295b"/>
<rect x="27" y="17" width="7" height="1" fill="#bb1446"/>
<rect x="0" y="18" width="1" height="1" fill="#5757ff"/>
<rect x="1" y="18" width="11" height="1" fill="#782398"/>
<rect x="12" y="18" width="7" height="1" fill="#7e2998"/>
<rect x="19" y="18" width="1" height="1" fill="#923d98"/>
<rect x="20" y="18" width="2" height="1" fill="#b15c98"/>
<rect x="22" y="18" width="1" height="1" fill="#a75298"/>
<rect x="23" y="18" width="1" height="1" fill="#bb6698"/>
<rect x="24" y="18" width="1" height="1" fill="#bb5284"/>
<rect x="25" y="18" width="1" height="1" fill="#bb3365"/>
<rect x="26" y="18" width="1" height="1" fill="#bb295b"/>
<rect x="27" y="18" width="7" height="1" fill="#bb1446"/>
<rect x="0" y="19" width="14" height="1" fill="#782398"/>
<rect x="14" y="19" width="4" height="1" fill="#7e2998"/>
<rect x="18" y="19" width="1" height="1" fill="#883398"/>
<rect x="19" y="19" width="1" height="1" fill="#9c4798"/>
<rect x="20" y="19" width="1" height="1" fill="#bb6698"/>
<rect x="21" y="19" width="1" height="1" fill="#bb5c8e"/>
<rect x="22" y="19" width="1" height="1" fill="#bb3d6f"/>
<rect x="23" y="19" width="2" height="1" fill="#bb295b"/>
<rect x="25" y="19" width="1" height="1" fill="#bb1f51"/>
<rect x="26" y="19" width="8" height="1" fill="#bb1446"/>
<rect x="0" y="20" width="2" height="1" fill="#782398"/>
<rect x="2" y="20" width="10" height="1" fill="#7e2998"/>
<rect x="12" y="20" width="2" height="1" fill="#883398"/>
<rect x="14" y="20" width="4" height="1" fill="#7e2998"/>
<rect x="18" y="20" width="1" height="1" fill="#923d98"/>
<rect x="19" y="20" width="1" height="1" fill="#9c4798"/>
<rect x="20" y="20" width="1" height="1" fill="#bb5c8e"/>
<rect x="21" y="20" width="1" height="1" fill="#bb4779"/>
<rect x="22" y="20" width="1" height="1" fill="#bb3365"/>
<rect x="23" y="20" width="1" height="1" fill="#bb295b"/>
<rect x="24" y="20" width="2" height="1" fill="#bb1f51"/>
<rect x="26" y="20" width="8" height="1" fill="#bb1446"/>
<rect x="0" y="21" width="2" height="1" fill="#782398"/>
<rect x="2" y="21" width="15" height="1" fill="#7e2998"/>
<rect x="17" y="21" width="1" height="1" fill="#883398"/>
<rect x="18" y="21" width="1" height="1" fill="#9c4798"/>
<rect x="19" y="21" width="1" height="1" fill="#b15c98"/>
<rect x="20" y="21" width="1" height="1" fill="#bb5284"/>
<rect x="21" y="21" width="1" height="1" fill="#bb3365"/>
<rect x="22" y="21" width="1" height="1" fill="#bb1446"/>
<rect x="23" y="21" width="3" height="1" fill="#bb0a3c"/>
<rect x="26" y="21" width="8" height="1" fill="#bb1446"/>
<rect x="0" y="22" width="2" height="1" fill="#782398"/>
<rect x="2" y="22" width="14" height="1" fill="#7e2998"/>
<rect x="16" y="22" width="1" height="1" fill="#883398"/>
<rect x="17" y="22" width="1" height="1" fill="#923d98"/>
<rect x="18" y="22" width="1" height="1" fill="#a75298"/>
<rect x="19" y="22" width="1" height="1" fill="#bb6698"/>
<rect x="20" y="22" width="1" height="1" fill="#bb3365"/>
<rect x="21" y="22" width="1" height="1" fill="#bb295b"/>
<rect x="22" y="22" width="1" height="1" fill="#bb0a3c"/>
<rect x="23" y="22" width="3" height="1" fill="#bb0032"/>
<rect x="26" y="22" width="8" height="1" fill="#bb1446"/>
<rect x="0" y="23" width="14" height="1" fill="#782398"/>
<rect x="14" y="23" width="1" height="1" fill="#7e2998"/>
<rect x="15" y="23" width="1" height="1" fill="#691498"/>
<rect x="16" y="23" width="1" height="1" fill="#7e2998"/>
<rect x="17" y="23" width="1" height="1" fill="#9c4798"/>
<rect x="18" y="23" width="1" height="1" fill="#b15c98"/>
<rect x="19" y="23" width="1" height="1" fill="#bb5284"/>
<rect x="20" y="23" width="1" height="1" fill="#bb3365"/>
<rect x="21" y="23" width="1" height="1" fill="#bb1f51"/>
<rect x="22" y="23" width="1" height="1" fill="#bb1446"/>
<rect x="23" y="23" width="3" height="1" fill="#bb0a3c"/>
<rect x="26" y="23" width="8" height="1" fill="#bb1446"/>
<rect x="0" y="24" width="6" height="1" fill="#782398"/>
<rect x="6" y="24" width="4" height="1" fill="#691498"/>
<rect x="10" y="24" width="5" height="1" fill="#782398"/>
<rect x="15" y="24" width="1" height="1" fill="#5f0a98"/>
<rect x="16" y="24" width="1" height="1" fill="#7e2998"/>
<rect x="17" y="24" width="1" height="1" fill="#a75298"/>
<rect x="18" y="24" width="1" height="1" fill="#bb5c8e"/>
<rect x="19" y="24" width="1" height="1" fill="#bb3365"/>
<rect x="20" y="24" width="1" height="1" fill="#bb295b"/>
<rect x="21" y="24" width="1" height="1" fill="#bb1f51"/>
<rect x="22" y="24" width="12" height="1" fill="#bb1446"/>
<rect x="0" y="25" width="12" height="1" fill="#782398"/>
<rect x="12" y="25" width="4" height="1" fill="#9c4798"/>
<rect x="16" y="25" width="1" height="1" fill="#b15c98"/>
<rect x="17" y="25" width="1" height="1" fill="#bb5c8e"/>
<rect x="18" y="25" width="1" height="1" fill="#bb3d6f"/>
<rect x="19" y="25" width="1" height="1" fill="#bb295b"/>
<rect x="20" y="25" width="1" height="1" fill="#bb1f51"/>
<rect x="21" y="25" width="13" height="1" fill="#bb1446"/>
<rect x="0" y="26" width="12" height="1" fill="#782398"/>
<rect x="12" y="26" width="1" height="1" fill="#9c4798"/>
<rect x="13" y="26" width="3" height="1" fill="#a75298"/>
<rect x="16" y="26" width="1" height="1" fill="#bb6698"/>
<rect x="17" y="26" width="1" height="1" fill="#bb3d6f"/>
<rect x="18" y="26" width="2" height="1" fill="#bb295b"/>
<rect x="20" y="26" width="14" height="1" fill="#bb1446"/>
<rect x="0" y="27" width="12" height="1" fill="#782398"/>
<rect x="12" y="27" width="1" height="1" fill="#9c4798"/>
<rect x="13" y="27" width="1" height="1" fill="#a75298"/>
<rect x="14" y="27" width="1" height="1" fill="#bb6698"/>
<rect x="15" y="27" width="1" height="1" fill="#bb5c8e"/>
<rect x="16" y="27" width="1" height="1" fill="#bb3d6f"/>
<rect x="17" y="27" width="1" height="1" fill="#bb3365"/>
<rect x="18" y="27" width="2" height="1" fill="#bb295b"/>
<rect x="20" y="27" width="14" height="1" fill="#bb1446"/>
<rect x="0" y="28" width="10" height="1" fill="#782398"/>
<rect x="10" y="28" width="2" height="1" fill="#691498"/>
<rect x="12" y="28" width="1" height="1" fill="#9c4798"/>
<rect x="13" y="28" width="1" height="1" fill="#a75298"/>
<rect x="14" y="28" width="1" height="1" fill="#bb6698"/>
<rect x="15" y="28" width="1" height="1" fill="#bb5c8e"/>
<rect x="16" y="28" width="1" height="1" fill="#bb3365"/>
<rect x="17" y="28" width="3" height="1" fill="#bb295b"/>
<rect x="20" y="28" width="14" height="1" fill="#bb1446"/>
<rect x="0" y="29" width="11" height="1" fill="#782398"/>
<rect x="11" y="29" width="1" height="1" fill="#691498"/>
<rect x="12" y="29" width="1" height="1" fill="#7e2998"/>
<rect x="13" y="29" width="1" height="1" fill="#923d98"/>
<rect x="14" y="29" width="1" height="1" fill="#a75298"/>
<rect x="15" y="29" width="1" height="1" fill="#bb6698"/>
<rect x="16" y="29" width="1" height="1" fill="#bb3365"/>
<rect x="17" y="29" width="2" height="1" fill="#bb295b"/>
<rect x="19" y="29" width="1" height="1" fill="#bb1f51"/>
<rect x="20" y="29" width="14" height="1" fill="#bb1446"/>
<rect x="0" y="30" width="9" height="1" fill="#782398"/>
<rect x="9" y="30" width="1" height="1" fill="#7e2998"/>
<rect x="10" y="30" width="4" height="1" fill="#782398"/>
<rect x="14" y="30" width="1" height="1" fill="#923d98"/>
<rect x="15" y="30" width="1" height="1" fill="#b15c98"/>
<rect x="16" y="30" width="1" height="1" fill="#bb3365"/>
<rect x="17" y="30" width="2" height="1" fill="#bb295b"/>
<rect x="19" y="30" width="1" height="1" fill="#bb1f51"/>
<rect x="20" y="30" width="14" height="1" fill="#bb1446"/>
<rect x="0" y="31" width="14" height="1" fill="#782398"/>
<rect x="14" y="31" width="1" height="1" fill="#923d98"/>
<rect x="15" y="31" width="1" height="1" fill="#a75298"/>
<rect x="16" y="31" width="1" height="1" fill="#bb5c8e"/>
<rect x="17" y="31" width="1" height="1" fill="#bb3365"/>
<rect x="18" y="31" width="1" height="1" fill="#bb295b"/>
<rect x="19" y="31" width="15" height="1" fill="#bb1446"/>
<rect x="0" y="32" width="14" height="1" fill="#782398"/>
<rect x="14" y="32" width="1" height="1" fill="#883398"/>
<rect x="15" y="32" width="1" height="1" fill="#9c4798"/>
<rect x="16" y="32" width="1" height="1" fill="#bb6698"/>
<rect x="17" y="32" width="1" height="1" fill="#bb3365"/>
<rect x="18" y="32" width="1" height="1" fill="#bb295b"/>
<rect x="19" y="32" width="15" height="1" fill="#bb1446"/>
<rect x="0" y="33" width="12" height="1" fill="#782398"/>
<rect x="12" y="33" width="1" height="1" fill="#923d98"/>
<rect x="13" y="33" width="1" height="1" fill="#a75298"/>
<rect x="14" y="33" width="1" height="1" fill="#bb6698"/>
<rect x="15" y="33" width="1" height="1" fill="#bb5c8e"/>
<rect x="16" y="33" width="1" height="1" fill="#bb3d6f"/>
<rect x="17" y="33" width="2" height="1" fill="#bb295b"/>
<rect x="19" y="33" width="15" height="1" fill="#bb1446"/>
<rect x="0" y="34" width="12" height="1" fill="#782398"/>
<rect x="12" y="34" width="1" height="1" fill="#923d98"/>
<rect x="13" y="34" width="1" height="1" fill="#b15c98"/>
<rect x="14" y="34" width="1" height="1" fill="#bb5284"/>
<rect x="15" y="34" width="1" height="1" fill="#bb3365"/>
<rect x="16" y="34" width="2" height="1" fill="#bb295b"/>
<rect x="18" y="34" width="1" height="1" fill="#bb1f51"/>
<rect x="19" y="34" width="15" height="1" fill="#bb1446"/>
<rect x="0" y="35" width="11" height="1" fill="#782398"/>
<rect x="11" y="35" width="1" height="1" fill="#883398"/>
<rect x="12" y="35" width="1" height="1" fill="#b15c98"/>
<rect x="13" y="35" width="1" height="1" fill="#bb5284"/>
<rect x="14" y="35" width="1" height="1" fill="#bb3365"/>
<rect x="15" y="35" width="1" height="1" fill="#bb1f51"/>
<rect x="16" y="35" width="2" height="1" fill="#bb1446"/>
<rect x="18" y="35" width="1" height="1" fill="#bb295b"/>
<rect x="19" y="35" width="15" height="1" fill="#bb1446"/>
<rect x="0" y="36" width="11" height="1" fill="#782398"/>
<rect x="11" y="36" width="1" height="1" fill="#923d98"/>
<rect x="12" y="36" width="1" height="1" fill="#bb6698"/>
<rect x="13" y="36" width="1" height="1" fill="#bb3d6f"/>
<rect x="14" y="36" width="1" height="1" fill="#bb1f51"/>
<rect x="15" y="36" width="2" height="1" fill="#bb0a3c"/>
<rect x="17" y="36" width="1" height="1" fill="#bb1446"/>
<rect x="18" y="36" width="1" height="1" fill="#bb295b"/>
<rect x="19" y="36" width="15" height="1" fill="#bb1446"/>
<rect x="0" y="37" width="11" height="1" fill="#782398"/>
<rect x="11" y="37" width="1" height="1" fill="#883398"/>
<rect x="12" y="37" width="1" height="1" fill="#bb6698"/>
<rect x="13" y="37" width="1" height="1" fill="#bb3d6f"/>
<rect x="14" y="37" width="1" height="1" fill="#bb295b"/>
<rect x="15" y="37" width="1" height="1" fill="#bb1f51"/>
<rect x="16" y="37" width="2" height="1" fill="#bb295b"/>
<rect x="18" y="37" width="1" height="1" fill="#bb3365"/>
<rect x="19" y="37" width="1" height="1" fill="#bb295b"/>
<rect x="20" y="37" width="14" height="1" fill="#bb1446"/>
<rect x="0" y="38" width="12" height="1" fill="#782398"/>
<rect x="12" y="38" width="1" height="1" fill="#bb6698"/>
<rect x="13" y="38" width="1" height="1" fill="#bb3d6f"/>
<rect x="14" y="38" width="2" height="1" fill="#bb295b"/>
<rect x="16" y="38" width="2" height="1" fill="#bb3365"/>
<rect x="18" y="38" width="2" height="1" fill="#bb295b"/>
<rect x="20" y="38" width="14" height="1" fill="#bb1446"/>
<rect x="0" y="39" width="12" height="1" fill="#782398"/>
<rect x="12" y="39" width="1" height="1" fill="#9c4798"/>
<rect x="13" y="39" width="1" height="1" fill="#bb6698"/>
<rect x="14" y="39" width="2" height="1" fill="#bb5c8e"/>
<rect x="16" y="39" width="1" height="1" fill="#bb3d6f"/>
<rect x="17" y="39" width="1" height="1" fill="#bb3365"/>
<rect x="18" y="39" width="1" height="1" fill="#bb295b"/>
<rect x="19" y="39" width="1" height="1" fill="#bb1f51"/>
<rect x="20" y="39" width="14" height="1" fill="#bb1446"/>
<rect x="0" y="40" width="12" height="1" fill="#782398"/>
<rect x="12" y="40" width="1" height="1" fill="#883398"/>
<rect x="13" y="40" width="3" height="1" fill="#923d98"/>
<rect x="16" y="40" width="1" height="1" fill="#bb6698"/>
<rect x="17" y="40" width="1" height="1" fill="#bb5c8e"/>
<rect x="18" y="40" width="1" height="1" fill="#bb3365"/>
<rect x="19" y="40" width="1" height="1" fill="#bb1f51"/>
<rect x="20" y="40" width="1" height="1" fill="#bb1446"/>
<rect x="21" y="40" width="2" height="1" fill="#bb0a3c"/>
<rect x="23" y="40" width="11" height="1" fill="#bb1446"/>
<rect x="0" y="41" width="12" height="1" fill="#782398"/>
<rect x="12" y="41" width="2" height="1" fill="#7e2998"/>
<rect x="14" y="41" width="1" height="1" fill="#883398"/>
<rect x="15" y="41" width="1" height="1" fill="#923d98"/>
<rect x="16" y="41" width="1" height="1" fill="#9c4798"/>
<rect x="17" y="41" width="1" height="1" fill="#bb6698"/>
<rect x="18" y="41" width="1" height="1" fill="#bb3d6f"/>
<rect x="19" y="41" width="1" height="1" fill="#bb295b"/>
<rect x="20" y="41" width="1" height="1" fill="#bb1f51"/>
<rect x="21" y="41" width="13" height="1" fill="#bb1446"/>
<rect x="0" y="42" width="12" height="1" fill="#782398"/>
<rect x="12" y="42" width="4" height="1" fill="#691498"/>
<rect x="16" y="42" width="1" height="1" fill="#9c4798"/>
<rect x="17" y="42" width="1" height="1" fill="#b15c98"/>
<rect x="18" y="42" width="1" height="1" fill="#bb3d6f"/>
<rect x="19" y="42" width="1" height="1" fill="#bb295b"/>
<rect x="20" y="42" width="1" height="1" fill="#bb1f51"/>
<rect x="21" y="42" width="13" height="1" fill="#bb1446"/>
<rect x="0" y="43" width="12" height="1" fill="#782398"/>
<rect x="12" y="43" width="1" height="1" fill="#7e2998"/>
<rect x="13" y="43" width="1" height="1" fill="#923d98"/>
<rect x="14" y="43" width="2" height="1" fill="#9c4798"/>
<rect x="16" y="43" width="1" height="1" fill="#b15c98"/>
<rect x="17" y="43" width="1" height="1" fill="#bb3d6f"/>
<rect x="18" y="43" width="1" height="1" fill="#bb295b"/>
<rect x="19" y="43" width="1" height="1" fill="#bb1f51"/>
<rect x="20" y="43" width="14" height="1" fill="#bb1446"/>
<rect x="0" y="44" width="10" height="1" fill="#782398"/>
<rect x="10" y="44" width="1" height="1" fill="#691498"/>
<rect x="11" y="44" width="1" height="1" fill="#7e2998"/>
<rect x="12" y="44" width="1" height="1" fill="#923d98"/>
<rect x="13" y="44" width="1" height="1" fill="#a75298"/>
<rect x="14" y="44" width="1" height="1" fill="#b15c98"/>
<rect x="15" y="44" width="1" height="1" fill="#bb5c8e"/>
<rect x="16" y="44" width="1" height="1" fill="#bb3d6f"/>
<rect x="17" y="44" width="1" height="1" fill="#bb295b"/>
<rect x="18" y="44" width="1" height="1" fill="#bb1f51"/>
<rect x="19" y="44" width="15" height="1" fill="#bb1446"/>
<rect x="0" y="45" width="8" height="1" fill="#782398"/>
<rect x="8" y="45" width="1" height="1" fill="#7e2998"/>
<rect x="9" y="45" width="1" height="1" fill="#923d98"/>
<rect x="10" y="45" width="1" height="1" fill="#9c4798"/>
<rect x="11" y="45" width="1" height="1" fill="#b15c98"/>
<rect x="12" y="45" width="1" height="1" fill="#bb5c8e"/>
<rect x="13" y="45" width="1" height="1" fill="#bb3d6f"/>
<rect x="14" y="45" width="2" height="1" fill="#bb3365"/>
<rect x="16" y="45" width="2" height="1" fill="#bb295b"/>
<rect x="18" y="45" width="16" height="1" fill="#bb1446"/>
<rect x="0" y="46" width="8" height="1" fill="#782398"/>
<rect x="8" y="46" width="1" height="1" fill="#923d98"/>
<rect x="9" y="46" width="1" height="1" fill="#a75298"/>
<rect x="10" y="46" width="1" height="1" fill="#bb6698"/>
<rect x="11" y="46" width="1" height="1" fill="#bb3d6f"/>
<rect x="12" y="46" width="1" height="1" fill="#bb3365"/>
<rect x="13" y="46" width="4" height="1" fill="#bb295b"/>
<rect x="17" y="46" width="1" height="1" fill="#bb1f51"/>
<rect x="18" y="46" width="16" height="1" fill="#bb1446"/>
<rect x="0" y="47" width="6" height="1" fill="#782398"/>
<rect x="6" y="47" width="1" height="1" fill="#883398"/>
<rect x="7" y="47" width="1" height="1" fill="#923d98"/>
<rect x="8" y="47" width="1" height="1" fill="#b15c98"/>
<rect x="9" y="47" width="1" height="1" fill="#bb6698"/>
<rect x="10" y="47" width="1" height="1" fill="#bb3d6f"/>
<rect x="11" y="47" width="2" height="1" fill="#bb295b"/>
<rect x="13" y="47" width="3" height="1" fill="#bb1f51"/>
<rect x="16" y="47" width="18" height="1" fill="#bb1446"/>
<rect x="0" y="48" width="6" height="1" fill="#782398"/>
<rect x="6" y="48" width="1" height="1" fill="#883398"/>
<rect x="7" y="48" width="1" height="1" fill="#9c4798"/>
<rect x="8" y="48" width="1" height="1" fill="#bb6698"/>
<rect x="9" y="48" width="1" height="1" fill="#bb3d6f"/>
<rect x="10" y="48" width="1" height="1" fill="#bb295b"/>
<rect x="11" y="48" width="1" height="1" fill="#bb1f51"/>
<rect x="12" y="48" width="5" height="1" fill="#bb1446"/>
<rect x="17" y="48" width="4" height="1" fill="#bb0a3c"/>
<rect x="21" y="48" width="13" height="1" fill="#bb1446"/>
<rect x="0" y="49" width="7" height="1" fill="#782398"/>
<rect x="7" y="49" width="1" height="1" fill="#923d98"/>
<rect x="8" y="49" width="1" height="1" fill="#b15c98"/>
<rect x="9" y="49" width="1" height="1" fill="#bb3d6f"/>
<rect x="10" y="49" width="1" height="1" fill="#bb295b"/>
<rect x="11" y="49" width="1" height="1" fill="#bb1f51"/>
<rect x="12" y="49" width="6" height="1" fill="#bb1446"/>
<rect x="18" y="49" width="4" height="1" fill="#bb0a3c"/>
<rect x="22" y="49" width="12" height="1" fill="#bb1446"/>
<rect x="0" y="50" width="7" height="1" fill="#782398"/>
<rect x="7" y="50" width="1" height="1" fill="#883398"/>
<rect x="8" y="50" width="1" height="1" fill="#a75298"/>
<rect x="9" y="50" width="1" height="1" fill="#bb5284"/>
<rect x="10" y="50" width="1" height="1" fill="#bb3365"/>
<rect x="11" y="50" width="1" height="1" fill="#bb1f51"/>
<rect x="12" y="50" width="9" height="1" fill="#bb0a3c"/>
<rect x="21" y="50" width="13" height="1" fill="#bb1446"/>
<rect x="0" y="51" width="7" height="1" fill="#782398"/>
<rect x="7" y="51" width="1" height="1" fill="#7e2998"/>
<rect x="8" y="51" width="1" height="1" fill="#a75298"/>
<rect x="9" y="51" width="1" height="1" fill="#bb5c8e"/>
<rect x="10" y="51" width="1" height="1" fill="#bb3365"/>
<rect x="11" y="51" width="1" height="1" fill="#bb295b"/>
<rect x="12" y="51" width="1" height="1" fill="#bb1f51"/>
<rect x="13" y="51" width="21" height="1" fill="#bb1446"/>
<rect x="0" y="52" width="7" height="1" fill="#782398"/>
<rect x="7" y="52" width="1" height="1" fill="#691498"/>
<rect x="8" y="52" width="1" height="1" fill="#883398"/>
<rect x="9" y="52" width="1" height="1" fill="#b15c98"/>
<rect x="10" y="52" width="1" height="1" fill="#bb3d6f"/>
<rect x="11" y="52" width="2" height="1" fill="#bb295b"/>
<rect x="13" y="52" width="1" height="1" fill="#bb1446"/>
<rect x="14" y="52" width="1" height="1" fill="#bb0a3c"/>
<rect x="15" y="52" width="5" height="1" fill="#bb0032"/>
<rect x="20" y="52" width="14" height="1" fill="#bb1446"/>
<rect x="0" y="53" width="8" height="1" fill="#782398"/>
<rect x="8" y="53" width="1" height="1" fill="#883398"/>
<rect x="9" y="53" width="1" height="1" fill="#a75298"/>
<rect x="10" y="53" width="1" height="1" fill="#bb6698"/>
<rect x="11" y="53" width="1" height="1" fill="#bb3d6f"/>
<rect x="12" y="53" width="1" height="1" fill="#bb295b"/>
<rect x="13" y="53" width="1" height="1" fill="#bb1f51"/>
<rect x="14" y="53" width="20" height="1" fill="#bb1446"/>
<rect x="0" y="54" width="9" height="1" fill="#782398"/>
<rect x="9" y="54" width="1" height="1" fill="#923d98"/>
<rect x="10" y="54" width="1" height="1" fill="#a75298"/>
<rect x="11" y="54" width="1" height="1" fill="#bb6698"/>
<rect x="12" y="54" width="1" height="1" fill="#bb3d6f"/>
<rect x="13" y="54" width="1" height="1" fill="#bb295b"/>
<rect x="14" y="54" width="1" height="1" fill="#bb1f51"/>
<rect x="15" y="54" width="19" height="1" fill="#bb1446"/>
<rect x="0" y="55" width="9" height="1" fill="#782398"/>
<rect x="9" y="55" width="1" height="1" fill="#7e2998"/>
<rect x="10" y="55" width="1" height="1" fill="#923d98"/>
<rect x="11" y="55" width="1" height="1" fill="#9c4798"/>
<rect x="12" y="55" width="1" height="1" fill="#bb6698"/>
<rect x="13" y="55" width="1" height="1" fill="#bb5c8e"/>
<rect x="14" y="55" width="1" height="1" fill="#bb3365"/>
<rect x="15" y="55" width="1" height="1" fill="#bb295b"/>
<rect x="16" y="55" width="1" height="1" fill="#bb1f51"/>
<rect x="17" y="55" width="17" height="1" fill="#bb1446"/>
<rect x="0" y="56" width="2" height="1" fill="#7e2998"/>
<rect x="2" y="56" width="1" height="1" fill="#782398"/>
<rect x="3" y="56" width="9" height="1" fill="#701b98"/>
<rect x="12" y="56" width="1" height="1" fill="#7e2998"/>
<rect x="13" y="56" width="1" height="1" fill="#923d98"/>
<rect x="14" y="56" width="1" height="1" fill="#bb6698"/>
<rect x="15" y="56" width="1" height="1" fill="#bb3365"/>
<rect x="16" y="56" width="1" height="1" fill="#bb295b"/>
<rect x="17" y="56" width="17" height="1" fill="#bb1446"/>
<rect x="0" y="57" width="1" height="1" fill="#7e2998"/>
<rect x="1" y="57" width="1" height="1" fill="#782398"/>
<rect x="2" y="57" width="10" height="1" fill="#701b98"/>
<rect x="12" y="57" width="1" height="1" fill="#782398"/>
<rect x="13" y="57" width="1" height="1" fill="#883398"/>
<rect x="14" y="57" width="1" height="1" fill="#bb6698"/>
<rect x="15" y="57" width="1" height="1" fill="#bb3d6f"/>
<rect x="16" y="57" width="1" height="1" fill="#bb295b"/>
<rect x="17" y="57" width="16" height="1" fill="#bb1446"/>
<rect x="33" y="57" width="1" height="1" fill="#ff4d4d"/>
<rect x="0" y="58" width="14" height="1" fill="#782398"/>
<rect x="14" y="58" width="1" height="1" fill="#b15c98"/>
<rect x="15" y="58" width="1" height="1" fill="#bb3365"/>
<rect x="16" y="58" width="1" height="1" fill="#bb295b"/>
<rect x="17" y="58" width="15" height="1" fill="#bb1446"/>
<rect x="32" y="58" width="1" height="1" fill="#bb295b"/>
<rect x="33" y="58" width="1" height="1" fill="#ff8080"/>
<rect x="0" y="59" width="14" height="1" fill="#782398"/>
<rect x="14" y="59" width="1" height="1" fill="#923d98"/>
<rect x="15" y="59" width="1" height="1" fill="#bb6698"/>
<rect x="16" y="59" width="1" height="1" fill="#bb3d6f"/>
<rect x="17" y="59" width="1" height="1" fill="#bb295b"/>
<rect x="18" y="59" width="6" height="1" fill="#bb1446"/>
<rect x="24" y="59" width="2" height="1" fill="#bb295b"/>
<rect x="26" y="59" width="6" height="1" fill="#bb3365"/>
<rect x="32" y="59" width="1" height="1" fill="#ffb2b2"/>
<rect x="33" y="59" width="1" height="1" fill="#ffcccc"/>
<rect x="0" y="60" width="14" height="1" fill="#782398"/>
<rect x="14" y="60" width="1" height="1" fill="#883398"/>
<rect x="15" y="60" width="1" height="1" fill="#9c4798"/>
<rect x="16" y="60" width="1" height="1" fill="#bb6698"/>
<rect x="17" y="60" width="1" height="1" fill="#bb3d6f"/>
<rect x="18" y="60" width="1" height="1" fill="#bb3365"/>
<rect x="19" y="60" width="5" height="1" fill="#bb1446"/>
<rect x="24" y="60" width="1" height="1" fill="#bb3365"/>
<rect x="25" y="60" width="1" height="1" fill="#bb5c8e"/>
<rect x="26" y="60" width="1" height="1" fill="#bb6698"/>
<rect x="27" y="60" width="2" height="1" fill="#923d98"/>
<rect x="29" y="60" width="1" height="1" fill="#9c4798"/>
<rect x="30" y="60" width="1" height="1" fill="#a75298"/>
<rect x="31" y="60" width="1" height="1" fill="#b15c98"/>
<rect x="32" y="60" width="2" height="1" fill="#ffffff"/>
</g>
<rect x="872.90" y="1247.80" width="608.15" height="19.9" fill="#bc6698"/><rect x="1730.00" y="1247.80" width="608.15" height="19.9" fill="#bc6698"/>
</g>
<g fill="none" stroke="#000" stroke-opacity="0.16" stroke-width="1"><rect x="15.60" y="53.60" width="666.00" height="1193.70"/><rect x="873.40" y="53.60" width="666.00" height="1193.70"/><rect x="1730.50" y="53.60" width="666.00" height="1193.70"/></g>
<g fill="#000"><circle cx="287.3" cy="63.5" r="1.6"/><circle cx="280.5" cy="74.6" r="1.6"/><circle cx="276.5" cy="82.3" r="1.6"/><circle cx="260.4" cy="100.6" r="1.6"/><circle cx="256.5" cy="102.3" r="1.6"/><circle cx="240.3" cy="110.5" r="1.6"/><circle cx="221.5" cy="105.5" r="1.6"/><circle cx="213.3" cy="102.3" r="1.6"/><circle cx="201.4" cy="99.5" r="1.6"/><circle cx="182.2" cy="96.5" r="1.6"/><circle cx="162.3" cy="93.3" r="1.6"/><circle cx="142.2" cy="91.5" r="1.6"/><circle cx="123.4" cy="86.5" r="1.6"/><circle cx="113.6" cy="102.3" r="1.6"/><circle cx="117.3" cy="122.5" r="1.6"/><circle cx="121.4" cy="141.5" r="1.6"/><circle cx="120.6" cy="161.6" r="1.6"/><circle cx="120.6" cy="180.6" r="1.6"/><circle cx="111.4" cy="200.7" r="1.6"/><circle cx="103.3" cy="213.3" r="1.6"/><circle cx="96.3" cy="220.5" r="1.6"/><circle cx="84.5" cy="233.7" r="1.6"/><circle cx="78.4" cy="239.5" r="1.6"/><circle cx="64.4" cy="249.5" r="1.6"/><circle cx="49.5" cy="259.7" r="1.6"/><circle cx="44.3" cy="264.7" r="1.6"/><circle cx="344.4" cy="63.5" r="1.6"/><circle cx="358.4" cy="74.6" r="1.6"/><circle cx="375.3" cy="82.3" r="1.6"/><circle cx="378.5" cy="83.6" r="1.6"/><circle cx="397.3" cy="88.6" r="1.6"/><circle cx="411.3" cy="102.3" r="1.6"/><circle cx="414.3" cy="122.5" r="1.6"/><circle cx="417.4" cy="129.6" r="1.6"/><circle cx="432.3" cy="141.5" r="1.6"/><circle cx="436.4" cy="144.5" r="1.6"/><circle cx="445.4" cy="161.6" r="1.6"/><circle cx="456.5" cy="176.5" r="1.6"/><circle cx="461.5" cy="180.6" r="1.6"/><circle cx="476.4" cy="194.5" r="1.6"/><circle cx="479.4" cy="200.5" r="1.6"/><circle cx="487.3" cy="220.5" r="1.6"/><circle cx="490.4" cy="239.5" r="1.6"/><circle cx="495.4" cy="259.7" r="1.6"/><circle cx="491.4" cy="278.4" r="1.6"/><circle cx="483.3" cy="298.3" r="1.6"/><circle cx="476.6" cy="312.3" r="1.6"/><circle cx="473.4" cy="318.4" r="1.6"/><circle cx="467.3" cy="337.4" r="1.6"/><circle cx="476.6" cy="349.4" r="1.6"/><circle cx="479.3" cy="357.5" r="1.6"/><circle cx="488.3" cy="376.5" r="1.6"/><circle cx="484.3" cy="396.4" r="1.6"/><circle cx="479.3" cy="416.5" r="1.6"/><circle cx="476.3" cy="418.5" r="1.6"/><circle cx="456.4" cy="427.4" r="1.6"/><circle cx="444.3" cy="435.3" r="1.6"/><circle cx="436.3" cy="441.4" r="1.6"/><circle cx="422.5" cy="455.4" r="1.6"/><circle cx="417.4" cy="463.5" r="1.6"/><circle cx="411.4" cy="474.4" r="1.6"/><circle cx="401.3" cy="494.3" r="1.6"/><circle cx="397.3" cy="502.4" r="1.6"/><circle cx="389.4" cy="514.4" r="1.6"/><circle cx="379.4" cy="533.4" r="1.6"/><circle cx="378.3" cy="537.4" r="1.6"/><circle cx="367.4" cy="553.5" r="1.6"/><circle cx="358.4" cy="562.5" r="1.6"/><circle cx="347.4" cy="572.6" r="1.6"/><circle cx="338.5" cy="582.7" r="1.6"/><circle cx="331.3" cy="592.5" r="1.6"/><circle cx="320.6" cy="612.3" r="1.6"/><circle cx="329.5" cy="631.6" r="1.6"/><circle cx="335.4" cy="651.5" r="1.6"/><circle cx="338.5" cy="670.5" r="1.6"/><circle cx="338.5" cy="673.6" r="1.6"/><circle cx="343.3" cy="690.3" r="1.6"/><circle cx="338.5" cy="693.5" r="1.6"/><circle cx="319.5" cy="705.5" r="1.6"/><circle cx="309.4" cy="709.3" r="1.6"/><circle cx="299.3" cy="718.3" r="1.6"/><circle cx="291.4" cy="729.5" r="1.6"/><circle cx="280.3" cy="743.5" r="1.6"/><circle cx="273.5" cy="749.5" r="1.6"/><circle cx="259.5" cy="767.6" r="1.6"/><circle cx="260.6" cy="771.5" r="1.6"/><circle cx="265.4" cy="788.5" r="1.6"/><circle cx="270.5" cy="807.5" r="1.6"/><circle cx="280.5" cy="819.6" r="1.6"/><circle cx="299.3" cy="825.7" r="1.6"/><circle cx="306.3" cy="827.6" r="1.6"/><circle cx="319.4" cy="830.5" r="1.6"/><circle cx="338.4" cy="836.6" r="1.6"/><circle cx="358.1" cy="845.6" r="1.6"/><circle cx="359.4" cy="847.5" r="1.6"/><circle cx="364.4" cy="866.5" r="1.6"/><circle cx="371.4" cy="886.3" r="1.6"/><circle cx="358.3" cy="899.5" r="1.6"/><circle cx="348.3" cy="905.6" r="1.6"/><circle cx="338.4" cy="912.6" r="1.6"/><circle cx="322.3" cy="925.3" r="1.6"/><circle cx="319.3" cy="927.3" r="1.6"/><circle cx="299.4" cy="935.3" r="1.6"/><circle cx="280.4" cy="940.3" r="1.6"/><circle cx="264.4" cy="945.5" r="1.6"/><circle cx="260.5" cy="946.5" r="1.6"/><circle cx="240.4" cy="953.5" r="1.6"/><circle cx="221.7" cy="964.7" r="1.6"/><circle cx="200.6" cy="984.0" r="1.6"/><circle cx="185.5" cy="1003.6" r="1.6"/><circle cx="195.4" cy="1023.5" r="1.6"/><circle cx="201.5" cy="1034.3" r="1.6"/><circle cx="206.5" cy="1043.5" r="1.6"/><circle cx="215.4" cy="1062.6" r="1.6"/><circle cx="221.5" cy="1077.6" r="1.6"/><circle cx="223.3" cy="1082.5" r="1.6"/><circle cx="235.5" cy="1101.6" r="1.6"/><circle cx="240.5" cy="1107.6" r="1.6"/><circle cx="253.5" cy="1121.5" r="1.6"/><circle cx="260.5" cy="1127.6" r="1.6"/><circle cx="280.3" cy="1139.3" r="1.6"/><circle cx="281.4" cy="1141.5" r="1.6"/><circle cx="297.4" cy="1160.5" r="1.6"/><circle cx="299.5" cy="1177.5" r="1.6"/><circle cx="300.4" cy="1180.3" r="1.6"/><circle cx="305.4" cy="1199.3" r="1.6"/><circle cx="319.4" cy="1219.5" r="1.6"/><circle cx="1145.1" cy="63.5" r="1.6"/><circle cx="1138.3" cy="74.6" r="1.6"/><circle cx="1134.3" cy="82.3" r="1.6"/><circle cx="1118.2" cy="100.6" r="1.6"/><circle cx="1114.3" cy="102.3" r="1.6"/><circle cx="1098.1" cy="110.5" r="1.6"/><circle cx="1079.3" cy="105.5" r="1.6"/><circle cx="1071.1" cy="102.3" r="1.6"/><circle cx="1059.2" cy="99.5" r="1.6"/><circle cx="1040.0" cy="96.5" r="1.6"/><circle cx="1020.1" cy="93.3" r="1.6"/><circle cx="1000.0" cy="91.5" r="1.6"/><circle cx="981.2" cy="86.5" r="1.6"/><circle cx="971.4" cy="102.3" r="1.6"/><circle cx="975.1" cy="122.5" r="1.6"/><circle cx="979.2" cy="141.5" r="1.6"/><circle cx="978.4" cy="161.6" r="1.6"/><circle cx="978.4" cy="180.6" r="1.6"/><circle cx="969.2" cy="200.7" r="1.6"/><circle cx="961.1" cy="213.3" r="1.6"/><circle cx="954.1" cy="220.5" r="1.6"/><circle cx="942.3" cy="233.7" r="1.6"/><circle cx="936.2" cy="239.5" r="1.6"/><circle cx="922.2" cy="249.5" r="1.6"/><circle cx="907.3" cy="259.7" r="1.6"/><circle cx="902.1" cy="264.7" r="1.6"/><circle cx="1202.2" cy="63.5" r="1.6"/><circle cx="1216.2" cy="74.6" r="1.6"/><circle cx="1233.1" cy="82.3" r="1.6"/><circle cx="1236.3" cy="83.6" r="1.6"/><circle cx="1255.1" cy="88.6" r="1.6"/><circle cx="1269.1" cy="102.3" r="1.6"/><circle cx="1272.1" cy="122.5" r="1.6"/><circle cx="1275.2" cy="129.6" r="1.6"/><circle cx="1290.1" cy="141.5" r="1.6"/><circle cx="1294.2" cy="144.5" r="1.6"/><circle cx="1303.2" cy="161.6" r="1.6"/><circle cx="1314.3" cy="176.5" r="1.6"/><circle cx="1319.3" cy="180.6" r="1.6"/><circle cx="1334.2" cy="194.5" r="1.6"/><circle cx="1337.2" cy="200.5" r="1.6"/><circle cx="1345.1" cy="220.5" r="1.6"/><circle cx="1348.2" cy="239.5" r="1.6"/><circle cx="1353.2" cy="259.7" r="1.6"/><circle cx="1349.2" cy="278.4" r="1.6"/><circle cx="1341.1" cy="298.3" r="1.6"/><circle cx="1334.4" cy="312.3" r="1.6"/><circle cx="1331.2" cy="318.4" r="1.6"/><circle cx="1325.1" cy="337.4" r="1.6"/><circle cx="1334.4" cy="349.4" r="1.6"/><circle cx="1337.1" cy="357.5" r="1.6"/><circle cx="1346.1" cy="376.5" r="1.6"/><circle cx="1342.1" cy="396.4" r="1.6"/><circle cx="1337.1" cy="416.5" r="1.6"/><circle cx="1334.1" cy="418.5" r="1.6"/><circle cx="1314.2" cy="427.4" r="1.6"/><circle cx="1302.1" cy="435.3" r="1.6"/><circle cx="1294.1" cy="441.4" r="1.6"/><circle cx="1280.3" cy="455.4" r="1.6"/><circle cx="1275.2" cy="463.5" r="1.6"/><circle cx="1269.2" cy="474.4" r="1.6"/><circle cx="1259.1" cy="494.3" r="1.6"/><circle cx="1255.1" cy="502.4" r="1.6"/><circle cx="1247.2" cy="514.4" r="1.6"/><circle cx="1237.2" cy="533.4" r="1.6"/><circle cx="1236.1" cy="537.4" r="1.6"/><circle cx="1225.2" cy="553.5" r="1.6"/><circle cx="1216.2" cy="562.5" r="1.6"/><circle cx="1205.2" cy="572.6" r="1.6"/><circle cx="1196.3" cy="582.7" r="1.6"/><circle cx="1189.1" cy="592.5" r="1.6"/><circle cx="1178.4" cy="612.3" r="1.6"/><circle cx="1187.3" cy="631.6" r="1.6"/><circle cx="1193.2" cy="651.5" r="1.6"/><circle cx="1196.3" cy="670.5" r="1.6"/><circle cx="1196.3" cy="673.6" r="1.6"/><circle cx="1201.1" cy="690.3" r="1.6"/><circle cx="1196.3" cy="693.5" r="1.6"/><circle cx="1177.3" cy="705.5" r="1.6"/><circle cx="1167.2" cy="709.3" r="1.6"/><circle cx="1157.1" cy="718.3" r="1.6"/><circle cx="1149.2" cy="729.5" r="1.6"/><circle cx="1138.1" cy="743.5" r="1.6"/><circle cx="1131.3" cy="749.5" r="1.6"/><circle cx="1117.3" cy="767.6" r="1.6"/><circle cx="1118.4" cy="771.5" r="1.6"/><circle cx="1123.2" cy="788.5" r="1.6"/><circle cx="1128.3" cy="807.5" r="1.6"/><circle cx="1138.3" cy="819.6" r="1.6"/><circle cx="1157.1" cy="825.7" r="1.6"/><circle cx="1164.1" cy="827.6" r="1.6"/><circle cx="1177.2" cy="830.5" r="1.6"/><circle cx="1196.2" cy="836.6" r="1.6"/><circle cx="1215.9" cy="845.6" r="1.6"/><circle cx="1217.2" cy="847.5" r="1.6"/><circle cx="1222.2" cy="866.5" r="1.6"/><circle cx="1229.2" cy="886.3" r="1.6"/><circle cx="1216.1" cy="899.5" r="1.6"/><circle cx="1206.1" cy="905.6" r="1.6"/><circle cx="1196.2" cy="912.6" r="1.6"/><circle cx="1180.1" cy="925.3" r="1.6"/><circle cx="1177.1" cy="927.3" r="1.6"/><circle cx="1157.2" cy="935.3" r="1.6"/><circle cx="1138.2" cy="940.3" r="1.6"/><circle cx="1122.2" cy="945.5" r="1.6"/><circle cx="1118.3" cy="946.5" r="1.6"/><circle cx="1098.2" cy="953.5" r="1.6"/><circle cx="1079.5" cy="964.7" r="1.6"/><circle cx="1058.4" cy="984.0" r="1.6"/><circle cx="1043.3" cy="1003.6" r="1.6"/><circle cx="1053.2" cy="1023.5" r="1.6"/><circle cx="1059.3" cy="1034.3" r="1.6"/><circle cx="1064.3" cy="1043.5" r="1.6"/><circle cx="1073.2" cy="1062.6" r="1.6"/><circle cx="1079.3" cy="1077.6" r="1.6"/><circle cx="1081.1" cy="1082.5" r="1.6"/><circle cx="1093.3" cy="1101.6" r="1.6"/><circle cx="1098.3" cy="1107.6" r="1.6"/><circle cx="1111.3" cy="1121.5" r="1.6"/><circle cx="1118.3" cy="1127.6" r="1.6"/><circle cx="1138.1" cy="1139.3" r="1.6"/><circle cx="1139.2" cy="1141.5" r="1.6"/><circle cx="1155.2" cy="1160.5" r="1.6"/><circle cx="1157.3" cy="1177.5" r="1.6"/><circle cx="1158.2" cy="1180.3" r="1.6"/><circle cx="1163.2" cy="1199.3" r="1.6"/><circle cx="1177.2" cy="1219.5" r="1.6"/><circle cx="2002.2" cy="63.5" r="1.6"/><circle cx="1995.4" cy="74.6" r="1.6"/><circle cx="1991.4" cy="82.3" r="1.6"/><circle cx="1975.3" cy="100.6" r="1.6"/><circle cx="1971.4" cy="102.3" r="1.6"/><circle cx="1955.2" cy="110.5" r="1.6"/><circle cx="1936.4" cy="105.5" r="1.6"/><circle cx="1928.2" cy="102.3" r="1.6"/><circle cx="1916.3" cy="99.5" r="1.6"/><circle cx="1897.1" cy="96.5" r="1.6"/><circle cx="1877.2" cy="93.3" r="1.6"/><circle cx="1857.1" cy="91.5" r="1.6"/><circle cx="1838.3" cy="86.5" r="1.6"/><circle cx="1828.5" cy="102.3" r="1.6"/><circle cx="1832.2" cy="122.5" r="1.6"/><circle cx="1836.3" cy="141.5" r="1.6"/><circle cx="1835.5" cy="161.6" r="1.6"/><circle cx="1835.5" cy="180.6" r="1.6"/><circle cx="1826.3" cy="200.7" r="1.6"/><circle cx="1818.2" cy="213.3" r="1.6"/><circle cx="1811.2" cy="220.5" r="1.6"/><circle cx="1799.4" cy="233.7" r="1.6"/><circle cx="1793.3" cy="239.5" r="1.6"/><circle cx="1779.3" cy="249.5" r="1.6"/><circle cx="1764.4" cy="259.7" r="1.6"/><circle cx="1759.2" cy="264.7" r="1.6"/><circle cx="2059.3" cy="63.5" r="1.6"/><circle cx="2073.3" cy="74.6" r="1.6"/><circle cx="2090.2" cy="82.3" r="1.6"/><circle cx="2093.4" cy="83.6" r="1.6"/><circle cx="2112.2" cy="88.6" r="1.6"/><circle cx="2126.2" cy="102.3" r="1.6"/><circle cx="2129.2" cy="122.5" r="1.6"/><circle cx="2132.3" cy="129.6" r="1.6"/><circle cx="2147.2" cy="141.5" r="1.6"/><circle cx="2151.3" cy="144.5" r="1.6"/><circle cx="2160.3" cy="161.6" r="1.6"/><circle cx="2171.4" cy="176.5" r="1.6"/><circle cx="2176.4" cy="180.6" r="1.6"/><circle cx="2191.3" cy="194.5" r="1.6"/><circle cx="2194.3" cy="200.5" r="1.6"/><circle cx="2202.2" cy="220.5" r="1.6"/><circle cx="2205.3" cy="239.5" r="1.6"/><circle cx="2210.3" cy="259.7" r="1.6"/><circle cx="2206.3" cy="278.4" r="1.6"/><circle cx="2198.2" cy="298.3" r="1.6"/><circle cx="2191.5" cy="312.3" r="1.6"/><circle cx="2188.3" cy="318.4" r="1.6"/><circle cx="2182.2" cy="337.4" r="1.6"/><circle cx="2191.5" cy="349.4" r="1.6"/><circle cx="2194.2" cy="357.5" r="1.6"/><circle cx="2203.2" cy="376.5" r="1.6"/><circle cx="2199.2" cy="396.4" r="1.6"/><circle cx="2194.2" cy="416.5" r="1.6"/><circle cx="2191.2" cy="418.5" r="1.6"/><circle cx="2171.3" cy="427.4" r="1.6"/><circle cx="2159.2" cy="435.3" r="1.6"/><circle cx="2151.2" cy="441.4" r="1.6"/><circle cx="2137.4" cy="455.4" r="1.6"/><circle cx="2132.3" cy="463.5" r="1.6"/><circle cx="2126.3" cy="474.4" r="1.6"/><circle cx="2116.2" cy="494.3" r="1.6"/><circle cx="2112.2" cy="502.4" r="1.6"/><circle cx="2104.3" cy="514.4" r="1.6"/><circle cx="2094.3" cy="533.4" r="1.6"/><circle cx="2093.2" cy="537.4" r="1.6"/><circle cx="2082.3" cy="553.5" r="1.6"/><circle cx="2073.3" cy="562.5" r="1.6"/><circle cx="2062.3" cy="572.6" r="1.6"/><circle cx="2053.4" cy="582.7" r="1.6"/><circle cx="2046.2" cy="592.5" r="1.6"/><circle cx="2035.5" cy="612.3" r="1.6"/><circle cx="2044.4" cy="631.6" r="1.6"/><circle cx="2050.3" cy="651.5" r="1.6"/><circle cx="2053.4" cy="670.5" r="1.6"/><circle cx="2053.4" cy="673.6" r="1.6"/><circle cx="2058.2" cy="690.3" r="1.6"/><circle cx="2053.4" cy="693.5" r="1.6"/><circle cx="2034.4" cy="705.5" r="1.6"/><circle cx="2024.3" cy="709.3" r="1.6"/><circle cx="2014.2" cy="718.3" r="1.6"/><circle cx="2006.3" cy="729.5" r="1.6"/><circle cx="1995.2" cy="743.5" r="1.6"/><circle cx="1988.4" cy="749.5" r="1.6"/><circle cx="1974.4" cy="767.6" r="1.6"/><circle cx="1975.5" cy="771.5" r="1.6"/><circle cx="1980.3" cy="788.5" r="1.6"/><circle cx="1985.4" cy="807.5" r="1.6"/><circle cx="1995.4" cy="819.6" r="1.6"/><circle cx="2014.2" cy="825.7" r="1.6"/><circle cx="2021.2" cy="827.6" r="1.6"/><circle cx="2034.3" cy="830.5" r="1.6"/><circle cx="2053.3" cy="836.6" r="1.6"/><circle cx="2073.0" cy="845.6" r="1.6"/><circle cx="2074.3" cy="847.5" r="1.6"/><circle cx="2079.3" cy="866.5" r="1.6"/><circle cx="2086.3" cy="886.3" r="1.6"/><circle cx="2073.2" cy="899.5" r="1.6"/><circle cx="2063.2" cy="905.6" r="1.6"/><circle cx="2053.3" cy="912.6" r="1.6"/><circle cx="2037.2" cy="925.3" r="1.6"/><circle cx="2034.2" cy="927.3" r="1.6"/><circle cx="2014.3" cy="935.3" r="1.6"/><circle cx="1995.3" cy="940.3" r="1.6"/><circle cx="1979.3" cy="945.5" r="1.6"/><circle cx="1975.4" cy="946.5" r="1.6"/><circle cx="1955.3" cy="953.5" r="1.6"/><circle cx="1936.6" cy="964.7" r="1.6"/><circle cx="1915.5" cy="984.0" r="1.6"/><circle cx="1900.4" cy="1003.6" r="1.6"/><circle cx="1910.3" cy="1023.5" r="1.6"/><circle cx="1916.4" cy="1034.3" r="1.6"/><circle cx="1921.4" cy="1043.5" r="1.6"/><circle cx="1930.3" cy="1062.6" r="1.6"/><circle cx="1936.4" cy="1077.6" r="1.6"/><circle cx="1938.2" cy="1082.5" r="1.6"/><circle cx="1950.4" cy="1101.6" r="1.6"/><circle cx="1955.4" cy="1107.6" r="1.6"/><circle cx="1968.4" cy="1121.5" r="1.6"/><circle cx="1975.4" cy="1127.6" r="1.6"/><circle cx="1995.2" cy="1139.3" r="1.6"/><circle cx="1996.3" cy="1141.5" r="1.6"/><circle cx="2012.3" cy="1160.5" r="1.6"/><circle cx="2014.4" cy="1177.5" r="1.6"/><circle cx="2015.3" cy="1180.3" r="1.6"/><circle cx="2020.3" cy="1199.3" r="1.6"/><circle cx="2034.3" cy="1219.5" r="1.6"/></g>
<g font-family="DejaVu Sans, Liberation Sans, sans-serif" font-weight="bold" font-size="33.3" text-anchor="middle" fill="#000">
<text x="348.5" y="40.6">sar1749</text>
<text x="1206.1" y="40.6">2001-03-19-09-50-10</text>
<text x="2063.4" y="40.6">L7</text>
</g>
</svg>
</body></html>
